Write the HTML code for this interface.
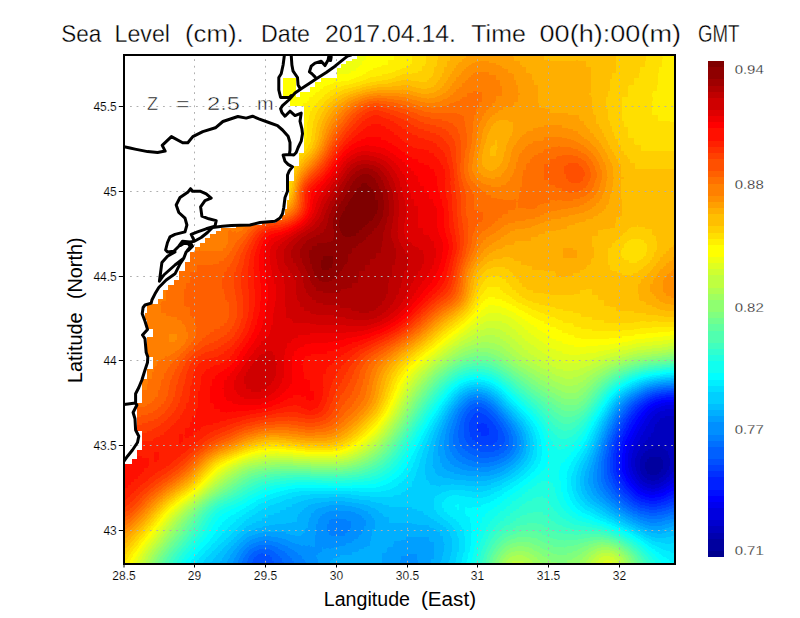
<!DOCTYPE html>
<html><head><meta charset="utf-8"><title>Sea Level</title>
<style>html,body{margin:0;padding:0;background:#fff}svg{display:block}text{font-family:"Liberation Sans",sans-serif}</style></head><body>
<svg width="800" height="618" viewBox="0 0 800 618">
<defs>
<filter id="jet" x="0" y="0" width="800" height="618" filterUnits="userSpaceOnUse" color-interpolation-filters="sRGB"><feGaussianBlur stdDeviation="4.5"/><feComponentTransfer><feFuncR type="discrete" tableValues="0 0 0 0 0 0 0 0 0 0 0 0 0 0 0 0 0 0 0 0 0 0 0 0 .0625 .125 .1875 .25 .3125 .375 .4375 .5 .5625 .625 .6875 .75 .8125 .875 .9375 1 1 1 1 1 1 1 1 1 1 1 1 1 1 1 1 1 .9375 .875 .8125 .75 .6875 .625 .5625 .5"/><feFuncG type="discrete" tableValues="0 0 0 0 0 0 0 0 .0625 .125 .1875 .25 .3125 .375 .4375 .5 .5625 .625 .6875 .75 .8125 .875 .9375 1 1 1 1 1 1 1 1 1 1 1 1 1 1 1 1 1 .9375 .875 .8125 .75 .6875 .625 .5625 .5 .4375 .375 .3125 .25 .1875 .125 .0625 0 0 0 0 0 0 0 0 0"/><feFuncB type="discrete" tableValues=".5625 .625 .6875 .75 .8125 .875 .9375 1 1 1 1 1 1 1 1 1 1 1 1 1 1 1 1 1 .9375 .875 .8125 .75 .6875 .625 .5625 .5 .4375 .375 .3125 .25 .1875 .125 .0625 0 0 0 0 0 0 0 0 0 0 0 0 0 0 0 0 0 0 0 0 0 0 0 0 0"/><feFuncA type="linear" slope="0" intercept="1"/></feComponentTransfer></filter>
<clipPath id="pc"><rect x="124" y="55" width="551" height="509"/></clipPath>
</defs>
<rect width="800" height="618" fill="#fff"/>
<g clip-path="url(#pc)"><g filter="url(#jet)" shape-rendering="crispEdges">
<rect x="100" y="31" width="606" height="564" fill="#808080"/>
<path fill="#030303" d="M652 463h6v6h-6z"/>
<path fill="#040404" d="M646 463h6v6h-6zM652 469h6v6h-6z"/>
<path fill="#050505" d="M652 457h6v6h-6zM658 463h6v6h-6zM646 469h6v6h-6z"/>
<path fill="#060606" d="M646 457h6v6h-6zM658 457h6v6h-6z"/>
<path fill="#070707" d="M640 463h6v6h-6zM658 469h6v6h-6z"/>
<path fill="#080808" d="M652 451h6v6h-6zM652 475h6v6h-6z"/>
<path fill="#090909" d="M646 451h6v6h-6zM658 451h6v6h-6zM640 457h6v6h-6zM664 457h6v6h-6zM664 463h6v6h-6zM640 469h6v6h-6zM646 475h6v6h-6z"/>
<path fill="#0b0b0b" d="M652 445h12v6h-12zM640 451h6v6h-6zM664 451h6v6h-6zM664 469h6v6h-6zM658 475h6v6h-6z"/>
<path fill="#0c0c0c" d="M646 445h6v6h-6zM664 445h6v6h-6zM640 475h6v6h-6z"/>
<path fill="#0d0d0d" d="M664 421h6v6h-6zM658 427h12v6h-12zM658 433h12v6h-12zM652 439h18v6h-18zM634 457h6v6h-6zM670 457h6v6h-6zM634 463h6v6h-6z"/>
<path fill="#0e0e0e" d="M664 415h12v6h-12zM658 421h6v6h-6zM670 421h36v6h-36zM670 427h36v6h-36zM652 433h6v6h-6zM670 433h6v6h-6zM646 439h6v6h-6zM640 445h6v6h-6zM670 445h6v6h-6zM670 451h6v6h-6zM676 457h30v6h-30zM670 463h6v6h-6zM634 469h6v6h-6zM646 481h12v6h-12z"/>
<path fill="#0f0f0f" d="M658 415h6v6h-6zM676 415h30v6h-30zM652 421h6v6h-6zM652 427h6v6h-6zM676 433h30v6h-30zM670 439h36v6h-36zM676 445h30v6h-30zM634 451h6v6h-6zM676 451h30v6h-30zM676 463h30v6h-30zM664 475h6v6h-6z"/>
<path fill="#101010" d="M646 433h6v6h-6zM640 439h6v6h-6zM670 469h6v6h-6zM658 481h6v6h-6z"/>
<path fill="#111111" d="M664 409h42v6h-42zM652 415h6v6h-6zM646 427h6v6h-6zM634 445h6v6h-6zM640 481h6v6h-6z"/>
<path fill="#121212" d="M658 409h6v6h-6zM646 421h6v6h-6zM640 433h6v6h-6zM676 469h30v6h-30zM634 475h6v6h-6z"/>
<path fill="#131313" d="M628 457h6v6h-6zM628 463h6v6h-6z"/>
<path fill="#141414" d="M652 409h6v6h-6zM640 427h6v6h-6zM634 439h6v6h-6zM628 451h6v6h-6zM670 475h6v6h-6zM664 481h6v6h-6z"/>
<path fill="#151515" d="M670 403h6v6h-6zM646 415h6v6h-6zM628 469h6v6h-6zM646 487h12v6h-12z"/>
<path fill="#161616" d="M664 403h6v6h-6zM676 403h30v6h-30zM634 433h6v6h-6zM628 445h6v6h-6zM676 475h30v6h-30zM634 481h6v6h-6z"/>
<path fill="#171717" d="M658 403h6v6h-6zM640 421h6v6h-6zM658 487h6v6h-6z"/>
<path fill="#181818" d="M628 475h6v6h-6zM640 487h6v6h-6z"/>
<path fill="#191919" d="M646 409h6v6h-6zM634 427h6v6h-6zM628 439h6v6h-6zM670 481h6v6h-6z"/>
<path fill="#1a1a1a" d="M652 403h6v6h-6zM640 415h6v6h-6zM622 457h6v6h-6z"/>
<path fill="#1b1b1b" d="M622 451h6v6h-6zM622 463h6v6h-6zM676 481h30v6h-30zM664 487h6v6h-6z"/>
<path fill="#1c1c1c" d="M634 421h6v6h-6zM628 433h6v6h-6zM622 469h6v6h-6zM634 487h6v6h-6z"/>
<path fill="#1d1d1d" d="M670 397h6v6h-6zM622 445h6v6h-6zM628 481h6v6h-6zM646 493h12v6h-12z"/>
<path fill="#1e1e1e" d="M664 397h6v6h-6zM676 397h30v6h-30zM646 403h6v6h-6zM640 409h6v6h-6z"/>
<path fill="#1f1f1f" d="M658 397h6v6h-6zM628 427h6v6h-6zM622 439h6v6h-6zM622 475h6v6h-6zM670 487h6v6h-6zM640 493h6v6h-6zM658 493h6v6h-6z"/>
<path fill="#202020" d="M634 415h6v6h-6z"/>
<path fill="#212121" d="M676 487h30v6h-30z"/>
<path fill="#222222" d="M652 397h6v6h-6zM628 421h6v6h-6zM622 433h6v6h-6zM616 457h6v6h-6zM628 487h6v6h-6zM664 493h6v6h-6z"/>
<path fill="#232323" d="M616 451h6v6h-6zM616 463h6v6h-6zM634 493h6v6h-6z"/>
<path fill="#242424" d="M640 403h6v6h-6zM634 409h6v6h-6zM616 469h6v6h-6zM622 481h6v6h-6z"/>
<path fill="#252525" d="M616 445h6v6h-6zM646 499h12v6h-12z"/>
<path fill="#262626" d="M628 415h6v6h-6zM622 427h6v6h-6zM670 493h6v6h-6zM658 499h6v6h-6z"/>
<path fill="#272727" d="M646 397h6v6h-6zM616 439h6v6h-6zM616 475h6v6h-6zM676 493h30v6h-30zM640 499h6v6h-6z"/>
<path fill="#282828" d="M628 493h6v6h-6z"/>
<path fill="#292929" d="M664 391h42v6h-42zM622 487h6v6h-6zM664 499h6v6h-6z"/>
<path fill="#2a2a2a" d="M478 421h6v6h-6zM622 421h6v6h-6zM478 427h12v6h-12zM616 433h6v6h-6zM634 499h6v6h-6z"/>
<path fill="#2b2b2b" d="M658 391h6v6h-6zM634 403h6v6h-6zM472 421h6v6h-6zM484 421h6v6h-6zM478 433h12v6h-12zM610 457h6v6h-6zM610 463h6v6h-6zM616 481h6v6h-6z"/>
<path fill="#2c2c2c" d="M628 409h6v6h-6zM478 415h6v6h-6zM472 427h6v6h-6zM490 427h6v6h-6zM490 433h6v6h-6zM610 451h6v6h-6zM610 469h6v6h-6zM670 499h6v6h-6z"/>
<path fill="#2d2d2d" d="M640 397h6v6h-6zM472 415h6v6h-6zM472 433h6v6h-6zM484 439h6v6h-6zM646 505h12v6h-12z"/>
<path fill="#2e2e2e" d="M652 391h6v6h-6zM484 415h6v6h-6zM622 415h6v6h-6zM490 421h6v6h-6zM616 427h6v6h-6zM478 439h6v6h-6zM490 439h6v6h-6zM610 445h6v6h-6zM610 475h6v6h-6zM622 493h6v6h-6zM676 499h30v6h-30zM658 505h6v6h-6z"/>
<path fill="#2f2f2f" d="M472 409h12v6h-12zM466 421h6v6h-6zM466 427h6v6h-6zM496 433h6v6h-6zM472 439h6v6h-6zM616 487h6v6h-6zM628 499h6v6h-6zM640 505h6v6h-6zM256 559h12v6h-12zM256 565h6v6h-6zM256 571h6v6h-6zM256 577h6v6h-6zM256 583h6v6h-6zM256 589h6v6h-6z"/>
<path fill="#303030" d="M466 415h6v6h-6zM496 427h6v6h-6zM466 433h6v6h-6zM496 439h6v6h-6zM610 439h6v6h-6zM484 445h6v6h-6zM256 553h12v6h-12zM262 565h6v6h-6zM262 571h6v6h-6zM262 577h6v6h-6zM262 583h6v6h-6zM262 589h6v6h-6z"/>
<path fill="#313131" d="M484 409h6v6h-6zM478 445h6v6h-6zM490 445h6v6h-6zM610 481h6v6h-6zM664 505h6v6h-6z"/>
<path fill="#323232" d="M646 391h6v6h-6zM628 403h6v6h-6zM490 415h6v6h-6zM466 439h6v6h-6zM496 445h6v6h-6zM634 505h6v6h-6zM250 559h6v6h-6zM268 559h6v6h-6zM250 565h6v6h-6zM268 565h6v6h-6zM250 571h6v6h-6zM268 571h6v6h-6zM250 577h6v6h-6zM268 577h6v6h-6zM250 583h6v6h-6zM268 583h6v6h-6zM250 589h6v6h-6zM268 589h6v6h-6z"/>
<path fill="#333333" d="M634 397h6v6h-6zM472 403h12v6h-12zM466 409h6v6h-6zM496 421h6v6h-6zM616 421h6v6h-6zM460 427h6v6h-6zM502 433h6v6h-6zM502 439h6v6h-6zM472 445h6v6h-6zM604 463h6v6h-6zM604 469h6v6h-6zM670 505h6v6h-6zM268 553h6v6h-6z"/>
<path fill="#343434" d="M622 409h6v6h-6zM460 421h6v6h-6zM460 433h6v6h-6zM610 433h6v6h-6zM484 451h6v6h-6zM604 457h6v6h-6zM616 493h6v6h-6zM622 499h6v6h-6zM676 505h30v6h-30zM250 553h6v6h-6zM274 565h6v6h-6zM274 571h6v6h-6zM274 577h6v6h-6zM274 583h6v6h-6zM274 589h6v6h-6z"/>
<path fill="#353535" d="M460 415h6v6h-6zM502 427h6v6h-6zM460 439h6v6h-6zM466 445h6v6h-6zM502 445h6v6h-6zM478 451h6v6h-6zM490 451h6v6h-6zM604 451h6v6h-6zM604 475h6v6h-6zM610 487h6v6h-6zM646 511h12v6h-12zM262 547h6v6h-6zM274 559h6v6h-6z"/>
<path fill="#363636" d="M670 385h36v6h-36zM490 409h6v6h-6zM472 451h6v6h-6zM496 451h6v6h-6zM628 505h6v6h-6zM658 511h6v6h-6zM256 547h6v6h-6zM274 553h6v6h-6zM244 565h6v6h-6zM244 571h6v6h-6zM244 577h6v6h-6zM244 583h6v6h-6zM244 589h6v6h-6z"/>
<path fill="#373737" d="M664 385h6v6h-6zM466 403h6v6h-6zM484 403h6v6h-6zM496 415h6v6h-6zM616 415h6v6h-6zM460 445h6v6h-6zM604 445h6v6h-6zM604 481h6v6h-6zM640 511h6v6h-6zM268 547h6v6h-6zM244 559h6v6h-6zM280 559h6v6h-6zM280 565h6v6h-6zM280 571h6v6h-6zM280 577h6v6h-6zM280 583h6v6h-6zM280 589h6v6h-6z"/>
<path fill="#383838" d="M640 391h6v6h-6zM460 409h6v6h-6zM454 427h6v6h-6zM610 427h6v6h-6zM454 433h6v6h-6zM508 439h6v6h-6zM466 451h6v6h-6zM664 511h6v6h-6z"/>
<path fill="#393939" d="M658 385h6v6h-6zM502 421h6v6h-6zM508 433h6v6h-6zM454 439h6v6h-6zM508 445h6v6h-6zM502 451h6v6h-6zM478 457h12v6h-12zM610 493h6v6h-6zM616 499h6v6h-6zM250 547h6v6h-6zM274 547h6v6h-6zM244 553h6v6h-6zM280 553h6v6h-6zM286 559h6v6h-6zM286 565h6v6h-6zM286 571h6v6h-6zM286 577h6v6h-6zM286 583h6v6h-6zM286 589h6v6h-6z"/>
<path fill="#3a3a3a" d="M472 397h12v6h-12zM622 403h6v6h-6zM454 421h6v6h-6zM604 439h6v6h-6zM454 445h6v6h-6zM460 451h6v6h-6zM472 457h6v6h-6zM490 457h6v6h-6zM604 487h6v6h-6zM634 511h6v6h-6z"/>
<path fill="#3b3b3b" d="M652 385h6v6h-6zM628 397h6v6h-6zM466 457h6v6h-6zM496 457h6v6h-6zM598 463h6v6h-6zM598 469h6v6h-6zM598 475h6v6h-6zM622 505h6v6h-6zM670 511h36v6h-36zM286 553h6v6h-6zM292 565h6v6h-6zM292 571h6v6h-6zM292 577h6v6h-6zM292 583h6v6h-6zM292 589h6v6h-6z"/>
<path fill="#3c3c3c" d="M490 403h6v6h-6zM454 415h6v6h-6zM610 421h6v6h-6zM508 427h6v6h-6zM598 457h6v6h-6zM646 517h12v6h-12zM256 541h18v6h-18zM280 547h6v6h-6zM238 559h6v6h-6zM292 559h6v6h-6zM238 565h6v6h-6zM238 571h6v6h-6zM238 577h6v6h-6zM238 583h6v6h-6zM238 589h6v6h-6z"/>
<path fill="#3d3d3d" d="M466 397h6v6h-6zM460 403h6v6h-6zM496 409h6v6h-6zM616 409h6v6h-6zM448 433h6v6h-6zM448 439h6v6h-6zM454 451h6v6h-6zM508 451h6v6h-6zM460 457h6v6h-6zM598 481h6v6h-6zM658 517h6v6h-6zM334 523h6v6h-6zM244 547h6v6h-6zM298 565h6v6h-6zM298 571h6v6h-6zM298 577h6v6h-6zM298 583h6v6h-6zM298 589h6v6h-6z"/>
<path fill="#3e3e3e" d="M634 391h6v6h-6zM484 397h6v6h-6zM502 415h6v6h-6zM448 427h6v6h-6zM604 433h6v6h-6zM514 439h6v6h-6zM448 445h6v6h-6zM598 451h6v6h-6zM502 457h6v6h-6zM478 463h12v6h-12zM604 493h6v6h-6zM610 499h6v6h-6zM628 511h6v6h-6zM334 517h6v6h-6zM328 523h6v6h-6zM340 523h6v6h-6zM328 529h18v6h-18zM274 541h6v6h-6zM286 547h6v6h-6zM292 553h6v6h-6zM298 559h6v6h-6z"/>
<path fill="#3f3f3f" d="M646 385h6v6h-6zM454 409h6v6h-6zM514 445h6v6h-6zM454 457h6v6h-6zM472 463h6v6h-6zM490 463h6v6h-6zM598 487h6v6h-6zM328 517h6v6h-6zM340 517h12v6h-12zM640 517h6v6h-6zM664 517h6v6h-6zM322 523h6v6h-6zM346 523h12v6h-12zM346 529h6v6h-6zM250 541h6v6h-6zM238 553h6v6h-6zM298 553h6v6h-6z"/>
<path fill="#404040" d="M448 421h6v6h-6zM508 421h6v6h-6zM514 433h6v6h-6zM448 451h6v6h-6zM466 463h6v6h-6zM616 505h6v6h-6zM322 517h6v6h-6zM352 517h6v6h-6zM322 529h6v6h-6zM328 535h18v6h-18zM280 541h6v6h-6zM292 547h6v6h-6zM304 559h6v6h-6zM304 565h6v6h-6zM304 571h6v6h-6zM304 577h6v6h-6zM304 583h6v6h-6zM304 589h6v6h-6z"/>
<path fill="#414141" d="M610 415h6v6h-6zM598 445h6v6h-6zM460 463h6v6h-6zM496 463h6v6h-6zM592 475h6v6h-6zM328 511h18v6h-18zM358 517h6v6h-6zM358 523h6v6h-6zM352 529h6v6h-6zM322 535h6v6h-6zM346 535h6v6h-6zM304 553h6v6h-6zM232 565h6v6h-6zM232 571h6v6h-6zM232 577h6v6h-6zM232 583h6v6h-6zM232 589h6v6h-6z"/>
<path fill="#424242" d="M622 397h6v6h-6zM604 427h6v6h-6zM442 439h6v6h-6zM442 445h6v6h-6zM514 451h6v6h-6zM448 457h6v6h-6zM508 457h6v6h-6zM592 469h6v6h-6zM592 481h6v6h-6zM346 511h12v6h-12zM622 511h6v6h-6zM634 517h6v6h-6zM670 517h36v6h-36zM316 523h6v6h-6zM316 529h6v6h-6zM262 535h12v6h-12zM316 535h6v6h-6zM244 541h6v6h-6zM286 541h6v6h-6zM322 541h18v6h-18zM238 547h6v6h-6zM298 547h12v6h-12zM232 559h6v6h-6zM310 559h6v6h-6zM406 559h6v6h-6zM310 565h6v6h-6zM406 565h6v6h-6zM310 571h6v6h-6zM406 571h6v6h-6zM310 577h6v6h-6zM406 577h6v6h-6zM310 583h6v6h-6zM406 583h6v6h-6zM310 589h6v6h-6zM406 589h6v6h-6z"/>
<path fill="#434343" d="M472 391h12v6h-12zM460 397h6v6h-6zM616 403h6v6h-6zM448 415h6v6h-6zM514 427h6v6h-6zM442 433h6v6h-6zM442 451h6v6h-6zM454 463h6v6h-6zM592 463h6v6h-6zM478 469h6v6h-6zM598 493h6v6h-6zM604 499h6v6h-6zM322 511h6v6h-6zM316 517h6v6h-6zM652 523h6v6h-6zM358 529h6v6h-6zM256 535h6v6h-6zM274 535h6v6h-6zM352 535h6v6h-6zM292 541h6v6h-6zM316 541h6v6h-6zM340 541h6v6h-6zM310 547h12v6h-12zM310 553h6v6h-6zM400 553h18v6h-18zM400 559h6v6h-6zM412 559h6v6h-6zM400 565h6v6h-6zM412 565h6v6h-6zM400 571h6v6h-6zM412 571h6v6h-6zM400 577h6v6h-6zM412 577h6v6h-6zM400 583h6v6h-6zM412 583h6v6h-6zM400 589h6v6h-6zM412 589h6v6h-6z"/>
<path fill="#444444" d="M640 385h6v6h-6zM628 391h6v6h-6zM490 397h6v6h-6zM454 403h6v6h-6zM496 403h6v6h-6zM598 439h6v6h-6zM448 463h6v6h-6zM502 463h6v6h-6zM466 469h12v6h-12zM484 469h6v6h-6zM592 487h6v6h-6zM610 505h6v6h-6zM316 511h6v6h-6zM358 511h6v6h-6zM364 517h6v6h-6zM364 523h6v6h-6zM646 523h6v6h-6zM658 523h6v6h-6zM280 535h6v6h-6zM310 535h6v6h-6zM358 535h6v6h-6zM298 541h18v6h-18zM346 541h6v6h-6zM322 547h12v6h-12zM406 547h12v6h-12zM232 553h6v6h-6zM316 553h6v6h-6zM394 553h6v6h-6zM418 553h6v6h-6zM316 559h6v6h-6zM394 559h6v6h-6zM418 559h6v6h-6zM316 565h6v6h-6zM394 565h6v6h-6zM418 565h6v6h-6zM316 571h6v6h-6zM394 571h6v6h-6zM418 571h6v6h-6zM316 577h6v6h-6zM394 577h6v6h-6zM418 577h6v6h-6zM316 583h6v6h-6zM394 583h6v6h-6zM418 583h6v6h-6zM316 589h6v6h-6zM394 589h6v6h-6zM418 589h6v6h-6z"/>
<path fill="#454545" d="M670 379h36v6h-36zM466 391h6v6h-6zM502 409h6v6h-6zM442 427h6v6h-6zM442 457h6v6h-6zM592 457h6v6h-6zM460 469h6v6h-6zM490 469h6v6h-6zM328 505h24v6h-24zM310 523h6v6h-6zM310 529h6v6h-6zM250 535h6v6h-6zM286 535h6v6h-6zM352 541h6v6h-6zM412 541h6v6h-6zM334 547h12v6h-12zM400 547h6v6h-6zM418 547h6v6h-6zM322 553h6v6h-6zM424 553h6v6h-6zM388 559h6v6h-6zM226 565h6v6h-6zM388 565h6v6h-6zM226 571h6v6h-6zM388 571h6v6h-6zM226 577h6v6h-6zM388 577h6v6h-6zM226 583h6v6h-6zM388 583h6v6h-6zM226 589h6v6h-6zM388 589h6v6h-6z"/>
<path fill="#464646" d="M664 379h6v6h-6zM484 391h6v6h-6zM610 409h6v6h-6zM508 415h6v6h-6zM604 421h6v6h-6zM520 439h6v6h-6zM520 445h6v6h-6zM442 463h6v6h-6zM454 469h6v6h-6zM322 505h6v6h-6zM352 505h6v6h-6zM364 511h6v6h-6zM310 517h6v6h-6zM628 517h6v6h-6zM640 523h6v6h-6zM664 523h6v6h-6zM364 529h6v6h-6zM304 535h6v6h-6zM358 541h6v6h-6zM400 541h12v6h-12zM418 541h12v6h-12zM346 547h6v6h-6zM394 547h6v6h-6zM424 547h6v6h-6zM388 553h6v6h-6zM226 559h6v6h-6zM322 559h6v6h-6zM424 559h6v6h-6zM424 565h6v6h-6zM424 571h6v6h-6zM424 577h6v6h-6zM424 583h6v6h-6zM424 589h6v6h-6z"/>
<path fill="#474747" d="M658 379h6v6h-6zM448 409h6v6h-6zM442 421h6v6h-6zM514 421h6v6h-6zM520 433h6v6h-6zM436 445h6v6h-6zM436 451h6v6h-6zM592 451h6v6h-6zM514 457h6v6h-6zM508 463h6v6h-6zM448 469h6v6h-6zM496 469h6v6h-6zM586 475h6v6h-6zM586 481h6v6h-6zM592 493h6v6h-6zM598 499h6v6h-6zM316 505h6v6h-6zM310 511h6v6h-6zM616 511h6v6h-6zM370 517h6v6h-6zM370 523h6v6h-6zM304 529h6v6h-6zM244 535h6v6h-6zM292 535h12v6h-12zM364 535h6v6h-6zM406 535h24v6h-24zM238 541h6v6h-6zM364 541h6v6h-6zM394 541h6v6h-6zM430 541h6v6h-6zM232 547h6v6h-6zM352 547h6v6h-6zM388 547h6v6h-6zM430 547h6v6h-6zM328 553h12v6h-12zM382 553h6v6h-6zM430 553h6v6h-6zM382 559h6v6h-6zM322 565h6v6h-6zM382 565h6v6h-6zM322 571h6v6h-6zM382 571h6v6h-6zM322 577h6v6h-6zM382 577h6v6h-6zM322 583h6v6h-6zM382 583h6v6h-6zM322 589h6v6h-6zM382 589h6v6h-6z"/>
<path fill="#484848" d="M598 433h6v6h-6zM436 439h6v6h-6zM436 457h6v6h-6zM586 469h6v6h-6zM358 505h6v6h-6zM370 511h6v6h-6zM304 517h6v6h-6zM304 523h6v6h-6zM670 523h6v6h-6zM262 529h24v6h-24zM370 529h6v6h-6zM370 535h6v6h-6zM394 535h12v6h-12zM430 535h6v6h-6zM370 541h6v6h-6zM382 541h12v6h-12zM358 547h12v6h-12zM376 547h12v6h-12zM340 553h12v6h-12zM376 553h6v6h-6zM328 559h6v6h-6zM376 559h6v6h-6zM430 559h6v6h-6zM430 565h6v6h-6zM430 571h6v6h-6zM430 577h6v6h-6zM430 583h6v6h-6zM430 589h6v6h-6z"/>
<path fill="#494949" d="M436 433h6v6h-6zM520 451h6v6h-6zM436 463h6v6h-6zM442 469h6v6h-6zM466 475h24v6h-24zM586 487h6v6h-6zM310 505h6v6h-6zM364 505h6v6h-6zM604 505h6v6h-6zM304 511h6v6h-6zM376 517h6v6h-6zM376 523h6v6h-6zM676 523h30v6h-30zM256 529h6v6h-6zM286 529h18v6h-18zM376 529h6v6h-6zM406 529h24v6h-24zM652 529h6v6h-6zM376 535h18v6h-18zM376 541h6v6h-6zM436 541h6v6h-6zM370 547h6v6h-6zM436 547h6v6h-6zM226 553h6v6h-6zM352 553h24v6h-24zM220 565h6v6h-6zM328 565h6v6h-6zM376 565h6v6h-6zM220 571h6v6h-6zM328 571h6v6h-6zM376 571h6v6h-6zM220 577h6v6h-6zM328 577h6v6h-6zM376 577h6v6h-6zM220 583h6v6h-6zM328 583h6v6h-6zM376 583h6v6h-6zM220 589h6v6h-6zM328 589h6v6h-6zM376 589h6v6h-6z"/>
<path fill="#4a4a4a" d="M652 379h6v6h-6zM634 385h6v6h-6zM460 391h6v6h-6zM454 397h6v6h-6zM616 397h6v6h-6zM520 427h6v6h-6zM586 463h6v6h-6zM436 469h6v6h-6zM502 469h6v6h-6zM454 475h12v6h-12zM328 499h18v6h-18zM622 517h6v6h-6zM298 523h6v6h-6zM382 523h6v6h-6zM634 523h6v6h-6zM250 529h6v6h-6zM382 529h24v6h-24zM430 529h6v6h-6zM658 529h6v6h-6zM436 535h6v6h-6zM436 553h6v6h-6zM220 559h6v6h-6zM334 559h42v6h-42zM334 565h6v6h-6zM364 565h12v6h-12zM334 571h6v6h-6zM364 571h12v6h-12zM334 577h6v6h-6zM364 577h12v6h-12zM334 583h6v6h-6zM364 583h12v6h-12zM334 589h6v6h-6zM364 589h12v6h-12z"/>
<path fill="#4b4b4b" d="M496 397h6v6h-6zM442 415h6v6h-6zM604 415h6v6h-6zM436 427h6v6h-6zM592 445h6v6h-6zM430 451h6v6h-6zM430 457h6v6h-6zM430 463h6v6h-6zM442 475h12v6h-12zM490 475h6v6h-6zM586 493h6v6h-6zM322 499h6v6h-6zM346 499h6v6h-6zM592 499h6v6h-6zM304 505h6v6h-6zM370 505h6v6h-6zM298 511h6v6h-6zM376 511h6v6h-6zM610 511h6v6h-6zM298 517h6v6h-6zM382 517h6v6h-6zM268 523h30v6h-30zM388 523h42v6h-42zM436 529h6v6h-6zM646 529h6v6h-6zM238 535h6v6h-6zM232 541h6v6h-6zM442 541h6v6h-6zM226 547h6v6h-6zM436 559h6v6h-6zM340 565h24v6h-24zM436 565h6v6h-6zM340 571h24v6h-24zM436 571h6v6h-6zM340 577h24v6h-24zM436 577h6v6h-6zM340 583h24v6h-24zM436 583h6v6h-6zM340 589h24v6h-24zM436 589h6v6h-6z"/>
<path fill="#4c4c4c" d="M490 391h6v6h-6zM622 391h6v6h-6zM448 403h6v6h-6zM502 403h6v6h-6zM508 409h6v6h-6zM598 427h6v6h-6zM430 445h6v6h-6zM520 457h6v6h-6zM586 457h6v6h-6zM514 463h6v6h-6zM430 469h6v6h-6zM436 475h6v6h-6zM580 481h6v6h-6zM310 499h12v6h-12zM352 499h6v6h-6zM298 505h6v6h-6zM292 511h6v6h-6zM382 511h6v6h-6zM286 517h12v6h-12zM388 517h24v6h-24zM262 523h6v6h-6zM430 523h6v6h-6zM244 529h6v6h-6zM664 529h6v6h-6zM442 535h6v6h-6zM442 547h6v6h-6zM220 553h6v6h-6zM442 553h6v6h-6zM214 565h6v6h-6zM214 571h6v6h-6zM214 577h6v6h-6zM214 583h6v6h-6zM214 589h6v6h-6z"/>
<path fill="#4d4d4d" d="M646 379h6v6h-6zM472 385h12v6h-12zM610 403h6v6h-6zM514 415h6v6h-6zM430 439h6v6h-6zM508 469h6v6h-6zM430 475h6v6h-6zM496 475h6v6h-6zM580 475h6v6h-6zM472 481h6v6h-6zM580 487h6v6h-6zM358 499h6v6h-6zM376 505h6v6h-6zM598 505h6v6h-6zM286 511h6v6h-6zM388 511h12v6h-12zM274 517h12v6h-12zM412 517h12v6h-12zM256 523h6v6h-6zM442 529h6v6h-6zM670 529h6v6h-6zM214 559h6v6h-6z"/>
<path fill="#4e4e4e" d="M526 439h6v6h-6zM592 439h6v6h-6zM526 445h6v6h-6zM424 463h6v6h-6zM580 469h6v6h-6zM436 481h6v6h-6zM466 481h6v6h-6zM478 481h12v6h-12zM304 499h6v6h-6zM364 499h6v6h-6zM292 505h6v6h-6zM382 505h6v6h-6zM280 511h6v6h-6zM400 511h18v6h-18zM268 517h6v6h-6zM424 517h6v6h-6zM250 523h6v6h-6zM436 523h6v6h-6zM628 523h6v6h-6zM640 529h6v6h-6zM676 529h30v6h-30zM442 559h6v6h-6zM208 565h6v6h-6zM442 565h6v6h-6zM208 571h6v6h-6zM442 571h6v6h-6zM208 577h6v6h-6zM442 577h6v6h-6zM208 583h6v6h-6zM442 583h6v6h-6zM208 589h6v6h-6zM442 589h6v6h-6z"/>
<path fill="#4f4f4f" d="M466 385h6v6h-6zM442 409h6v6h-6zM436 421h6v6h-6zM520 421h6v6h-6zM430 433h6v6h-6zM526 433h6v6h-6zM526 451h6v6h-6zM424 457h6v6h-6zM424 469h6v6h-6zM424 475h6v6h-6zM430 481h6v6h-6zM442 481h24v6h-24zM298 499h6v6h-6zM370 499h6v6h-6zM586 499h6v6h-6zM286 505h6v6h-6zM388 505h24v6h-24zM274 511h6v6h-6zM418 511h6v6h-6zM604 511h6v6h-6zM262 517h6v6h-6zM430 517h6v6h-6zM616 517h6v6h-6zM238 529h6v6h-6zM232 535h6v6h-6zM448 535h6v6h-6zM658 535h6v6h-6zM226 541h6v6h-6zM448 541h6v6h-6zM220 547h6v6h-6zM448 547h6v6h-6zM214 553h6v6h-6zM208 559h6v6h-6z"/>
<path fill="#505050" d="M484 385h6v6h-6zM628 385h6v6h-6zM598 421h6v6h-6zM424 451h6v6h-6zM586 451h6v6h-6zM580 463h6v6h-6zM502 475h6v6h-6zM424 481h6v6h-6zM490 481h6v6h-6zM580 493h6v6h-6zM292 499h6v6h-6zM376 499h6v6h-6zM280 505h6v6h-6zM412 505h12v6h-12zM268 511h6v6h-6zM424 511h6v6h-6zM256 517h6v6h-6zM244 523h6v6h-6zM442 523h6v6h-6zM448 529h6v6h-6zM652 535h6v6h-6zM664 535h6v6h-6zM448 553h6v6h-6z"/>
<path fill="#515151" d="M640 379h6v6h-6zM454 391h6v6h-6zM604 409h6v6h-6zM424 445h6v6h-6zM520 463h6v6h-6zM418 469h6v6h-6zM514 469h6v6h-6zM418 475h6v6h-6zM418 481h6v6h-6zM418 487h24v6h-24zM310 493h42v6h-42zM412 493h12v6h-12zM286 499h6v6h-6zM382 499h42v6h-42zM274 505h6v6h-6zM424 505h6v6h-6zM592 505h6v6h-6zM262 511h6v6h-6zM250 517h6v6h-6zM436 517h6v6h-6zM670 535h36v6h-36zM448 559h6v6h-6zM202 565h6v6h-6zM448 565h6v6h-6zM202 571h6v6h-6zM448 571h6v6h-6zM202 577h6v6h-6zM448 577h6v6h-6zM202 583h6v6h-6zM448 583h6v6h-6zM202 589h6v6h-6zM448 589h6v6h-6z"/>
<path fill="#525252" d="M496 391h6v6h-6zM448 397h6v6h-6zM430 427h6v6h-6zM526 427h6v6h-6zM592 433h6v6h-6zM526 457h6v6h-6zM418 463h6v6h-6zM574 475h6v6h-6zM496 481h6v6h-6zM574 481h6v6h-6zM412 487h6v6h-6zM442 487h6v6h-6zM472 487h12v6h-12zM298 493h12v6h-12zM352 493h6v6h-6zM400 493h12v6h-12zM424 493h6v6h-6zM424 499h6v6h-6zM268 505h6v6h-6zM256 511h6v6h-6zM430 511h6v6h-6zM454 535h6v6h-6zM646 535h6v6h-6zM220 541h6v6h-6zM454 541h6v6h-6zM214 547h6v6h-6zM454 547h6v6h-6zM208 553h6v6h-6zM202 559h6v6h-6z"/>
<path fill="#535353" d="M460 385h6v6h-6zM616 391h6v6h-6zM502 397h6v6h-6zM514 409h6v6h-6zM436 415h6v6h-6zM424 439h6v6h-6zM586 445h6v6h-6zM418 457h6v6h-6zM580 457h6v6h-6zM412 475h6v6h-6zM508 475h6v6h-6zM412 481h6v6h-6zM406 487h6v6h-6zM460 487h12v6h-12zM484 487h6v6h-6zM574 487h6v6h-6zM358 493h12v6h-12zM394 493h6v6h-6zM430 493h6v6h-6zM280 499h6v6h-6zM580 499h6v6h-6zM262 505h6v6h-6zM430 505h6v6h-6zM598 511h6v6h-6zM244 517h6v6h-6zM442 517h6v6h-6zM610 517h6v6h-6zM238 523h6v6h-6zM448 523h6v6h-6zM622 523h6v6h-6zM232 529h6v6h-6zM634 529h6v6h-6zM226 535h6v6h-6zM454 553h6v6h-6z"/>
<path fill="#545454" d="M670 373h36v6h-36zM610 397h6v6h-6zM508 403h6v6h-6zM520 415h6v6h-6zM418 451h6v6h-6zM412 469h6v6h-6zM574 469h6v6h-6zM406 481h6v6h-6zM400 487h6v6h-6zM448 487h12v6h-12zM292 493h6v6h-6zM370 493h24v6h-24zM436 493h6v6h-6zM274 499h6v6h-6zM430 499h6v6h-6zM586 505h6v6h-6zM250 511h6v6h-6zM436 511h6v6h-6zM454 529h6v6h-6zM658 541h48v6h-48zM196 565h6v6h-6zM196 571h6v6h-6zM196 577h6v6h-6zM196 583h6v6h-6zM196 589h6v6h-6z"/>
<path fill="#555555" d="M664 373h6v6h-6zM490 385h6v6h-6zM442 403h6v6h-6zM598 415h6v6h-6zM592 427h6v6h-6zM532 439h6v6h-6zM532 445h6v6h-6zM526 463h6v6h-6zM520 469h6v6h-6zM502 481h6v6h-6zM490 487h6v6h-6zM286 493h6v6h-6zM574 493h6v6h-6zM268 499h6v6h-6zM256 505h6v6h-6zM214 541h6v6h-6zM208 547h6v6h-6zM202 553h6v6h-6zM196 559h6v6h-6zM454 559h6v6h-6zM454 565h6v6h-6zM454 571h6v6h-6zM454 577h6v6h-6zM454 583h6v6h-6zM454 589h6v6h-6z"/>
<path fill="#565656" d="M634 379h6v6h-6zM622 385h6v6h-6zM430 421h6v6h-6zM526 421h6v6h-6zM424 433h6v6h-6zM418 445h6v6h-6zM532 451h6v6h-6zM412 463h6v6h-6zM574 463h6v6h-6zM406 475h6v6h-6zM514 475h6v6h-6zM400 481h6v6h-6zM394 487h6v6h-6zM280 493h6v6h-6zM472 493h6v6h-6zM436 499h6v6h-6zM436 505h6v6h-6zM244 511h6v6h-6zM238 517h6v6h-6zM448 517h6v6h-6zM232 523h6v6h-6zM454 523h6v6h-6zM226 529h6v6h-6zM220 535h6v6h-6zM460 535h6v6h-6zM640 535h6v6h-6zM460 541h6v6h-6zM652 541h6v6h-6zM460 547h6v6h-6zM670 547h36v6h-36z"/>
<path fill="#575757" d="M658 373h6v6h-6zM472 379h12v6h-12zM604 403h6v6h-6zM436 409h6v6h-6zM532 433h6v6h-6zM586 439h6v6h-6zM580 451h6v6h-6zM412 457h6v6h-6zM532 457h6v6h-6zM388 487h6v6h-6zM496 487h6v6h-6zM442 493h6v6h-6zM466 493h6v6h-6zM478 493h12v6h-12zM262 499h6v6h-6zM442 511h6v6h-6zM592 511h6v6h-6zM604 517h6v6h-6zM616 523h6v6h-6zM460 529h6v6h-6zM664 547h6v6h-6zM460 553h6v6h-6z"/>
<path fill="#585858" d="M466 379h6v6h-6zM454 385h6v6h-6zM448 391h6v6h-6zM406 469h6v6h-6zM568 475h6v6h-6zM394 481h6v6h-6zM508 481h6v6h-6zM568 481h6v6h-6zM298 487h42v6h-42zM382 487h6v6h-6zM568 487h6v6h-6zM274 493h6v6h-6zM448 493h18v6h-18zM574 499h6v6h-6zM250 505h6v6h-6zM580 505h6v6h-6zM232 517h6v6h-6zM454 517h6v6h-6zM226 523h6v6h-6zM460 523h6v6h-6zM220 529h6v6h-6zM628 529h6v6h-6zM214 535h6v6h-6zM658 547h6v6h-6zM676 553h30v6h-30zM190 565h6v6h-6zM190 571h6v6h-6zM190 577h6v6h-6zM190 583h6v6h-6zM190 589h6v6h-6z"/>
<path fill="#595959" d="M652 373h6v6h-6zM484 379h6v6h-6zM424 427h6v6h-6zM532 427h6v6h-6zM418 439h6v6h-6zM412 451h6v6h-6zM574 457h6v6h-6zM526 469h6v6h-6zM568 469h6v6h-6zM400 475h6v6h-6zM292 487h6v6h-6zM340 487h24v6h-24zM370 487h12v6h-12zM490 493h6v6h-6zM256 499h6v6h-6zM442 499h6v6h-6zM442 505h6v6h-6zM238 511h6v6h-6zM448 511h6v6h-6zM208 541h6v6h-6zM646 541h6v6h-6zM202 547h6v6h-6zM196 553h6v6h-6zM670 553h6v6h-6zM190 559h6v6h-6zM460 559h6v6h-6zM460 565h6v6h-6zM460 571h6v6h-6zM460 577h6v6h-6zM460 583h6v6h-6zM460 589h6v6h-6z"/>
<path fill="#5a5a5a" d="M496 385h6v6h-6zM502 391h6v6h-6zM442 397h6v6h-6zM508 397h6v6h-6zM514 403h6v6h-6zM520 409h6v6h-6zM430 415h6v6h-6zM526 415h6v6h-6zM592 421h6v6h-6zM586 433h6v6h-6zM580 445h6v6h-6zM406 463h6v6h-6zM532 463h6v6h-6zM520 475h6v6h-6zM388 481h6v6h-6zM286 487h6v6h-6zM364 487h6v6h-6zM502 487h6v6h-6zM268 493h6v6h-6zM568 493h6v6h-6zM466 499h18v6h-18zM244 505h6v6h-6zM586 511h6v6h-6zM226 517h6v6h-6zM460 517h6v6h-6zM598 517h6v6h-6zM220 523h6v6h-6zM466 529h6v6h-6zM466 535h6v6h-6zM466 541h6v6h-6zM664 553h6v6h-6z"/>
<path fill="#5b5b5b" d="M628 379h6v6h-6zM598 409h6v6h-6zM538 445h6v6h-6zM538 451h6v6h-6zM568 463h6v6h-6zM400 469h6v6h-6zM394 475h6v6h-6zM514 481h6v6h-6zM496 493h6v6h-6zM460 499h6v6h-6zM484 499h6v6h-6zM448 505h6v6h-6zM574 505h6v6h-6zM232 511h6v6h-6zM454 511h12v6h-12zM466 517h6v6h-6zM466 523h6v6h-6zM214 529h6v6h-6zM466 547h6v6h-6zM652 547h6v6h-6zM670 559h36v6h-36z"/>
<path fill="#5c5c5c" d="M646 373h6v6h-6zM460 379h6v6h-6zM610 391h6v6h-6zM532 421h6v6h-6zM418 433h6v6h-6zM538 439h6v6h-6zM412 445h6v6h-6zM574 451h6v6h-6zM406 457h6v6h-6zM538 457h6v6h-6zM562 475h6v6h-6zM382 481h6v6h-6zM280 487h6v6h-6zM262 493h6v6h-6zM250 499h6v6h-6zM448 499h12v6h-12zM490 499h6v6h-6zM568 499h6v6h-6zM454 505h30v6h-30zM466 511h6v6h-6zM580 511h6v6h-6zM220 517h6v6h-6zM610 523h6v6h-6zM208 535h6v6h-6zM634 535h6v6h-6zM202 541h6v6h-6zM196 547h6v6h-6zM466 553h6v6h-6zM658 553h6v6h-6zM184 565h6v6h-6zM670 565h36v6h-36zM184 571h6v6h-6zM670 571h36v6h-36zM184 577h6v6h-6zM670 577h36v6h-36zM184 583h6v6h-6zM670 583h36v6h-36zM184 589h6v6h-6zM670 589h36v6h-36z"/>
<path fill="#5d5d5d" d="M490 379h6v6h-6zM616 385h6v6h-6zM604 397h6v6h-6zM436 403h6v6h-6zM424 421h6v6h-6zM538 433h6v6h-6zM568 457h6v6h-6zM538 463h6v6h-6zM532 469h6v6h-6zM562 469h6v6h-6zM526 475h6v6h-6zM562 481h6v6h-6zM274 487h6v6h-6zM508 487h6v6h-6zM562 487h6v6h-6zM238 505h6v6h-6zM226 511h6v6h-6zM472 511h6v6h-6zM472 517h6v6h-6zM592 517h6v6h-6zM214 523h6v6h-6zM472 523h6v6h-6zM472 529h6v6h-6zM622 529h6v6h-6zM190 553h6v6h-6zM466 559h6v6h-6zM664 559h6v6h-6z"/>
<path fill="#5e5e5e" d="M586 427h6v6h-6zM580 439h6v6h-6zM400 463h6v6h-6zM562 463h6v6h-6zM388 475h6v6h-6zM376 481h6v6h-6zM520 481h6v6h-6zM256 493h6v6h-6zM502 493h6v6h-6zM562 493h6v6h-6zM496 499h6v6h-6zM484 505h6v6h-6zM478 511h6v6h-6zM208 529h6v6h-6zM472 535h6v6h-6zM640 541h6v6h-6zM184 559h6v6h-6zM466 565h6v6h-6zM664 565h6v6h-6zM466 571h6v6h-6zM664 571h6v6h-6zM466 577h6v6h-6zM664 577h6v6h-6zM466 583h6v6h-6zM664 583h6v6h-6zM466 589h6v6h-6zM664 589h6v6h-6z"/>
<path fill="#5f5f5f" d="M640 373h6v6h-6zM448 385h6v6h-6zM430 409h6v6h-6zM592 415h6v6h-6zM538 427h6v6h-6zM412 439h6v6h-6zM574 445h6v6h-6zM406 451h6v6h-6zM544 451h6v6h-6zM544 457h6v6h-6zM394 469h6v6h-6zM370 481h6v6h-6zM268 487h6v6h-6zM514 487h6v6h-6zM244 499h6v6h-6zM232 505h6v6h-6zM490 505h6v6h-6zM568 505h6v6h-6zM220 511h6v6h-6zM574 511h6v6h-6zM214 517h6v6h-6zM478 517h6v6h-6zM472 541h6v6h-6zM646 547h6v6h-6z"/>
<path fill="#606060" d="M472 373h6v6h-6zM442 391h6v6h-6zM520 403h6v6h-6zM526 409h6v6h-6zM418 427h6v6h-6zM544 445h6v6h-6zM568 451h6v6h-6zM562 457h6v6h-6zM544 463h6v6h-6zM556 463h6v6h-6zM538 469h6v6h-6zM556 469h6v6h-6zM532 475h6v6h-6zM556 475h6v6h-6zM292 481h24v6h-24zM364 481h6v6h-6zM508 493h6v6h-6zM562 499h6v6h-6zM484 511h6v6h-6zM586 517h6v6h-6zM478 523h6v6h-6zM604 523h6v6h-6zM202 535h6v6h-6zM196 541h6v6h-6zM472 547h6v6h-6zM652 553h6v6h-6zM658 559h6v6h-6z"/>
<path fill="#616161" d="M478 373h6v6h-6zM454 379h6v6h-6zM622 379h6v6h-6zM502 385h6v6h-6zM508 391h6v6h-6zM514 397h6v6h-6zM598 403h6v6h-6zM532 415h6v6h-6zM580 433h6v6h-6zM544 439h6v6h-6zM400 457h6v6h-6zM550 457h12v6h-12zM550 463h6v6h-6zM544 469h12v6h-12zM382 475h6v6h-6zM316 481h12v6h-12zM352 481h12v6h-12zM526 481h6v6h-6zM556 481h6v6h-6zM262 487h6v6h-6zM556 487h6v6h-6zM250 493h6v6h-6zM502 499h6v6h-6zM226 505h6v6h-6zM496 505h6v6h-6zM214 511h6v6h-6zM484 517h6v6h-6zM208 523h6v6h-6zM478 529h6v6h-6zM616 529h6v6h-6zM628 535h6v6h-6zM190 547h6v6h-6zM184 553h6v6h-6zM472 553h6v6h-6zM658 565h6v6h-6zM658 571h6v6h-6zM658 577h6v6h-6zM658 583h6v6h-6zM658 589h6v6h-6z"/>
<path fill="#626262" d="M676 367h30v6h-30zM466 373h6v6h-6zM436 397h6v6h-6zM424 415h6v6h-6zM538 421h6v6h-6zM586 421h6v6h-6zM544 433h6v6h-6zM406 445h6v6h-6zM568 445h6v6h-6zM550 451h18v6h-18zM394 463h6v6h-6zM388 469h6v6h-6zM538 475h6v6h-6zM550 475h6v6h-6zM286 481h6v6h-6zM328 481h24v6h-24zM520 487h6v6h-6zM514 493h6v6h-6zM556 493h6v6h-6zM238 499h6v6h-6zM562 505h6v6h-6zM490 511h6v6h-6zM568 511h6v6h-6zM580 517h6v6h-6zM478 535h6v6h-6zM178 565h6v6h-6zM178 571h6v6h-6zM178 577h6v6h-6zM178 583h6v6h-6zM178 589h6v6h-6z"/>
<path fill="#636363" d="M670 367h6v6h-6zM484 373h6v6h-6zM634 373h6v6h-6zM496 379h6v6h-6zM412 433h6v6h-6zM574 439h6v6h-6zM550 445h6v6h-6zM376 475h6v6h-6zM544 475h6v6h-6zM280 481h6v6h-6zM532 481h6v6h-6zM508 499h6v6h-6zM502 505h6v6h-6zM208 517h6v6h-6zM484 523h6v6h-6zM598 523h6v6h-6zM202 529h6v6h-6zM178 559h6v6h-6zM472 559h6v6h-6z"/>
<path fill="#646464" d="M664 367h6v6h-6zM430 403h6v6h-6zM592 409h6v6h-6zM550 439h6v6h-6zM556 445h12v6h-12zM400 451h6v6h-6zM274 481h6v6h-6zM550 481h6v6h-6zM256 487h6v6h-6zM526 487h6v6h-6zM244 493h6v6h-6zM520 493h6v6h-6zM556 499h6v6h-6zM220 505h6v6h-6zM496 511h6v6h-6zM490 517h6v6h-6zM574 517h6v6h-6zM196 535h6v6h-6zM478 541h6v6h-6zM634 541h6v6h-6zM652 559h6v6h-6zM472 565h6v6h-6zM472 571h6v6h-6zM472 577h6v6h-6zM472 583h6v6h-6zM472 589h6v6h-6z"/>
<path fill="#656565" d="M460 373h6v6h-6zM610 385h6v6h-6zM604 391h6v6h-6zM526 403h6v6h-6zM532 409h6v6h-6zM418 421h6v6h-6zM544 427h6v6h-6zM580 427h6v6h-6zM568 439h6v6h-6zM538 481h12v6h-12zM532 487h6v6h-6zM550 487h6v6h-6zM232 499h6v6h-6zM514 499h6v6h-6zM508 505h6v6h-6zM556 505h6v6h-6zM562 511h6v6h-6zM592 523h6v6h-6zM484 529h6v6h-6zM190 541h6v6h-6zM640 547h6v6h-6zM646 553h6v6h-6zM652 565h6v6h-6zM652 571h6v6h-6zM652 577h6v6h-6zM652 583h6v6h-6zM652 589h6v6h-6z"/>
<path fill="#666666" d="M658 367h6v6h-6zM490 373h6v6h-6zM442 385h6v6h-6zM520 397h6v6h-6zM424 409h6v6h-6zM538 415h6v6h-6zM550 433h6v6h-6zM574 433h6v6h-6zM406 439h6v6h-6zM556 439h6v6h-6zM394 457h6v6h-6zM382 469h6v6h-6zM370 475h6v6h-6zM268 481h6v6h-6zM526 493h6v6h-6zM550 493h6v6h-6zM550 499h6v6h-6zM502 511h6v6h-6zM496 517h6v6h-6zM568 517h6v6h-6zM202 523h6v6h-6zM490 523h6v6h-6zM586 523h6v6h-6zM610 529h6v6h-6zM184 547h6v6h-6zM478 547h6v6h-6z"/>
<path fill="#676767" d="M628 373h6v6h-6zM448 379h6v6h-6zM616 379h6v6h-6zM508 385h6v6h-6zM436 391h6v6h-6zM514 391h6v6h-6zM598 397h6v6h-6zM586 415h6v6h-6zM544 421h6v6h-6zM412 427h6v6h-6zM562 439h6v6h-6zM388 463h6v6h-6zM250 487h6v6h-6zM538 487h12v6h-12zM532 493h6v6h-6zM544 493h6v6h-6zM520 499h6v6h-6zM214 505h6v6h-6zM514 505h6v6h-6zM208 511h6v6h-6zM556 511h6v6h-6zM580 523h6v6h-6zM484 535h6v6h-6zM622 535h6v6h-6zM178 553h6v6h-6zM172 565h6v6h-6zM172 571h6v6h-6zM172 577h6v6h-6zM172 583h6v6h-6zM172 589h6v6h-6z"/>
<path fill="#686868" d="M652 367h6v6h-6zM502 379h6v6h-6zM568 433h6v6h-6zM400 445h6v6h-6zM364 475h6v6h-6zM262 481h6v6h-6zM238 493h6v6h-6zM538 493h6v6h-6zM226 499h6v6h-6zM526 499h6v6h-6zM544 499h6v6h-6zM550 505h6v6h-6zM508 511h6v6h-6zM502 517h6v6h-6zM562 517h6v6h-6zM574 523h6v6h-6zM196 529h6v6h-6zM478 553h6v6h-6zM172 559h6v6h-6z"/>
<path fill="#696969" d="M454 373h6v6h-6zM430 397h6v6h-6zM418 415h6v6h-6zM580 421h6v6h-6zM550 427h6v6h-6zM574 427h6v6h-6zM556 433h12v6h-12zM376 469h6v6h-6zM358 475h6v6h-6zM532 499h12v6h-12zM520 505h6v6h-6zM544 505h6v6h-6zM550 511h6v6h-6zM202 517h6v6h-6zM556 517h6v6h-6zM496 523h6v6h-6zM568 523h6v6h-6zM490 529h6v6h-6zM604 529h6v6h-6zM646 559h6v6h-6z"/>
<path fill="#6a6a6a" d="M472 367h12v6h-12zM646 367h6v6h-6zM532 403h6v6h-6zM592 403h6v6h-6zM538 409h6v6h-6zM406 433h6v6h-6zM394 451h6v6h-6zM292 475h18v6h-18zM352 475h6v6h-6zM256 481h6v6h-6zM244 487h6v6h-6zM526 505h18v6h-18zM514 511h6v6h-6zM508 517h6v6h-6zM190 535h6v6h-6zM184 541h6v6h-6zM484 541h6v6h-6zM478 559h6v6h-6z"/>
<path fill="#6b6b6b" d="M466 367h6v6h-6zM484 367h6v6h-6zM496 373h6v6h-6zM526 397h6v6h-6zM544 415h6v6h-6zM556 427h6v6h-6zM388 457h6v6h-6zM382 463h6v6h-6zM286 475h6v6h-6zM310 475h12v6h-12zM346 475h6v6h-6zM220 499h6v6h-6zM520 511h6v6h-6zM544 511h6v6h-6zM550 517h6v6h-6zM502 523h6v6h-6zM562 523h6v6h-6zM628 541h6v6h-6zM178 547h6v6h-6zM640 553h6v6h-6zM478 565h6v6h-6zM646 565h6v6h-6zM478 571h6v6h-6zM646 571h6v6h-6zM478 577h6v6h-6zM646 577h6v6h-6zM478 583h6v6h-6zM646 583h6v6h-6zM478 589h6v6h-6zM646 589h6v6h-6z"/>
<path fill="#6c6c6c" d="M640 367h6v6h-6zM622 373h6v6h-6zM604 385h6v6h-6zM520 391h6v6h-6zM424 403h6v6h-6zM586 409h6v6h-6zM412 421h6v6h-6zM550 421h6v6h-6zM562 427h12v6h-12zM370 469h6v6h-6zM280 475h6v6h-6zM322 475h24v6h-24zM232 493h6v6h-6zM526 511h18v6h-18zM514 517h6v6h-6zM196 523h6v6h-6zM556 523h6v6h-6zM496 529h6v6h-6zM598 529h6v6h-6zM490 535h6v6h-6zM616 535h6v6h-6zM484 547h6v6h-6zM634 547h6v6h-6zM172 553h6v6h-6z"/>
<path fill="#6d6d6d" d="M460 367h6v6h-6zM442 379h6v6h-6zM436 385h6v6h-6zM514 385h6v6h-6zM598 391h6v6h-6zM580 415h6v6h-6zM574 421h6v6h-6zM400 439h6v6h-6zM274 475h6v6h-6zM250 481h6v6h-6zM208 505h6v6h-6zM202 511h6v6h-6zM520 517h6v6h-6zM544 517h6v6h-6zM508 523h6v6h-6zM550 523h6v6h-6zM574 529h24v6h-24zM166 565h6v6h-6zM166 571h6v6h-6zM166 577h6v6h-6zM166 583h6v6h-6zM166 589h6v6h-6z"/>
<path fill="#6e6e6e" d="M490 367h6v6h-6zM448 373h6v6h-6zM508 379h6v6h-6zM610 379h6v6h-6zM418 409h6v6h-6zM556 421h6v6h-6zM268 475h6v6h-6zM526 517h18v6h-18zM190 529h6v6h-6zM562 529h12v6h-12zM166 559h6v6h-6z"/>
<path fill="#6f6f6f" d="M430 391h6v6h-6zM592 397h6v6h-6zM538 403h6v6h-6zM544 409h6v6h-6zM550 415h6v6h-6zM568 421h6v6h-6zM406 427h6v6h-6zM394 445h6v6h-6zM364 469h6v6h-6zM238 487h6v6h-6zM214 499h6v6h-6zM196 517h6v6h-6zM514 523h6v6h-6zM544 523h6v6h-6zM502 529h6v6h-6zM556 529h6v6h-6zM184 535h6v6h-6zM490 541h6v6h-6zM484 553h6v6h-6z"/>
<path fill="#707070" d="M676 361h30v6h-30zM634 367h6v6h-6zM502 373h6v6h-6zM532 397h6v6h-6zM562 421h6v6h-6zM376 463h6v6h-6zM262 475h6v6h-6zM226 493h6v6h-6zM520 523h6v6h-6zM538 523h6v6h-6zM550 529h6v6h-6zM496 535h6v6h-6zM178 541h6v6h-6zM640 559h6v6h-6z"/>
<path fill="#717171" d="M670 361h6v6h-6zM454 367h6v6h-6zM616 373h6v6h-6zM526 391h6v6h-6zM424 397h6v6h-6zM412 415h6v6h-6zM574 415h6v6h-6zM388 451h6v6h-6zM382 457h6v6h-6zM244 481h6v6h-6zM526 523h12v6h-12zM508 529h6v6h-6zM544 529h6v6h-6zM610 535h6v6h-6zM622 541h6v6h-6zM172 547h6v6h-6z"/>
<path fill="#727272" d="M472 361h12v6h-12zM664 361h6v6h-6zM496 367h6v6h-6zM520 385h6v6h-6zM586 403h6v6h-6zM550 409h6v6h-6zM556 415h6v6h-6zM400 433h6v6h-6zM358 469h6v6h-6zM256 475h6v6h-6zM190 523h6v6h-6zM556 535h24v6h-24zM484 559h6v6h-6zM484 565h6v6h-6zM640 565h6v6h-6zM484 571h6v6h-6zM640 571h6v6h-6zM484 577h6v6h-6zM640 577h6v6h-6zM484 583h6v6h-6zM640 583h6v6h-6zM484 589h6v6h-6zM640 589h6v6h-6z"/>
<path fill="#737373" d="M466 361h6v6h-6zM484 361h6v6h-6zM628 367h6v6h-6zM514 379h6v6h-6zM598 385h6v6h-6zM538 397h6v6h-6zM418 403h6v6h-6zM544 403h6v6h-6zM580 409h6v6h-6zM562 415h12v6h-12zM232 487h6v6h-6zM514 529h6v6h-6zM538 529h6v6h-6zM502 535h6v6h-6zM550 535h6v6h-6zM580 535h6v6h-6zM490 547h6v6h-6zM628 547h6v6h-6zM166 553h6v6h-6zM634 553h6v6h-6z"/>
<path fill="#747474" d="M658 361h6v6h-6zM442 373h6v6h-6zM508 373h6v6h-6zM436 379h6v6h-6zM604 379h6v6h-6zM430 385h6v6h-6zM406 421h6v6h-6zM394 439h6v6h-6zM370 463h6v6h-6zM352 469h6v6h-6zM250 475h6v6h-6zM220 493h6v6h-6zM202 505h6v6h-6zM184 529h6v6h-6zM520 529h18v6h-18zM544 535h6v6h-6zM586 535h6v6h-6zM604 535h6v6h-6zM496 541h6v6h-6zM160 565h6v6h-6zM160 571h6v6h-6zM160 577h6v6h-6zM160 583h6v6h-6zM160 589h6v6h-6z"/>
<path fill="#757575" d="M652 361h6v6h-6zM532 391h6v6h-6zM592 391h6v6h-6zM556 409h6v6h-6zM280 469h24v6h-24zM346 469h6v6h-6zM238 481h6v6h-6zM208 499h6v6h-6zM196 511h6v6h-6zM178 535h6v6h-6zM592 535h12v6h-12zM562 541h6v6h-6zM160 559h6v6h-6z"/>
<path fill="#767676" d="M460 361h6v6h-6zM490 361h6v6h-6zM448 367h6v6h-6zM502 367h6v6h-6zM526 385h6v6h-6zM424 391h6v6h-6zM550 403h6v6h-6zM412 409h6v6h-6zM574 409h6v6h-6zM388 445h6v6h-6zM376 457h6v6h-6zM274 469h6v6h-6zM304 469h12v6h-12zM190 517h6v6h-6zM508 535h6v6h-6zM538 535h6v6h-6zM172 541h6v6h-6zM550 541h12v6h-12zM568 541h6v6h-6zM490 553h6v6h-6z"/>
<path fill="#777777" d="M646 361h6v6h-6zM622 367h6v6h-6zM610 373h6v6h-6zM544 397h6v6h-6zM586 397h6v6h-6zM562 409h6v6h-6zM400 427h6v6h-6zM382 451h6v6h-6zM364 463h6v6h-6zM268 469h6v6h-6zM316 469h12v6h-12zM334 469h12v6h-12zM532 535h6v6h-6zM574 541h6v6h-6zM616 541h6v6h-6z"/>
<path fill="#787878" d="M520 379h6v6h-6zM538 391h6v6h-6zM418 397h6v6h-6zM580 403h6v6h-6zM568 409h6v6h-6zM328 469h6v6h-6zM244 475h6v6h-6zM226 487h6v6h-6zM184 523h6v6h-6zM514 535h18v6h-18zM544 541h6v6h-6zM166 547h6v6h-6zM634 559h6v6h-6z"/>
<path fill="#797979" d="M478 355h6v6h-6zM454 361h6v6h-6zM496 361h6v6h-6zM640 361h6v6h-6zM514 373h6v6h-6zM556 403h6v6h-6zM406 415h6v6h-6zM262 469h6v6h-6zM214 493h6v6h-6zM502 541h6v6h-6zM538 541h6v6h-6zM580 541h6v6h-6zM496 547h6v6h-6zM550 547h18v6h-18zM160 553h6v6h-6z"/>
<path fill="#7a7a7a" d="M472 355h6v6h-6zM484 355h6v6h-6zM436 373h6v6h-6zM430 379h6v6h-6zM598 379h6v6h-6zM532 385h6v6h-6zM592 385h6v6h-6zM550 397h6v6h-6zM394 433h6v6h-6zM256 469h6v6h-6zM232 481h6v6h-6zM178 529h6v6h-6zM568 547h6v6h-6zM490 559h6v6h-6zM490 565h6v6h-6zM634 565h6v6h-6zM490 571h6v6h-6zM634 571h6v6h-6zM490 577h6v6h-6zM634 577h6v6h-6zM490 583h6v6h-6zM634 583h6v6h-6zM490 589h6v6h-6zM634 589h6v6h-6z"/>
<path fill="#7b7b7b" d="M466 355h6v6h-6zM634 361h6v6h-6zM442 367h6v6h-6zM508 367h6v6h-6zM616 367h6v6h-6zM526 379h6v6h-6zM424 385h6v6h-6zM586 391h6v6h-6zM412 403h6v6h-6zM562 403h6v6h-6zM574 403h6v6h-6zM370 457h6v6h-6zM358 463h6v6h-6zM172 535h6v6h-6zM532 541h6v6h-6zM586 541h6v6h-6zM544 547h6v6h-6zM574 547h6v6h-6zM622 547h6v6h-6zM628 553h6v6h-6zM154 565h6v6h-6zM154 571h6v6h-6zM154 577h6v6h-6zM154 583h6v6h-6zM154 589h6v6h-6z"/>
<path fill="#7c7c7c" d="M490 355h6v6h-6zM676 355h30v6h-30zM604 373h6v6h-6zM544 391h6v6h-6zM580 397h6v6h-6zM568 403h6v6h-6zM400 421h6v6h-6zM388 439h6v6h-6zM250 469h6v6h-6zM238 475h6v6h-6zM220 487h6v6h-6zM196 505h6v6h-6zM190 511h6v6h-6zM508 541h6v6h-6zM610 541h6v6h-6zM556 553h12v6h-12zM154 559h6v6h-6z"/>
<path fill="#7d7d7d" d="M460 355h6v6h-6zM670 355h6v6h-6zM502 361h6v6h-6zM520 373h6v6h-6zM538 385h6v6h-6zM418 391h6v6h-6zM556 397h6v6h-6zM382 445h6v6h-6zM376 451h6v6h-6zM352 463h6v6h-6zM202 499h6v6h-6zM184 517h6v6h-6zM166 541h6v6h-6zM514 541h6v6h-6zM526 541h6v6h-6zM592 541h6v6h-6zM538 547h6v6h-6zM496 553h6v6h-6zM550 553h6v6h-6zM568 553h6v6h-6z"/>
<path fill="#7e7e7e" d="M664 355h6v6h-6zM448 361h6v6h-6zM628 361h6v6h-6zM406 409h6v6h-6zM520 541h6v6h-6zM502 547h6v6h-6zM580 547h6v6h-6zM544 553h6v6h-6z"/>
<path fill="#7f7f7f" d="M478 349h6v6h-6zM496 355h6v6h-6zM514 367h6v6h-6zM610 367h6v6h-6zM532 379h6v6h-6zM592 379h6v6h-6zM586 385h6v6h-6zM550 391h6v6h-6zM412 397h6v6h-6zM562 397h6v6h-6zM574 397h6v6h-6zM394 427h6v6h-6zM364 457h6v6h-6zM244 469h6v6h-6zM226 481h6v6h-6zM208 493h6v6h-6zM178 523h6v6h-6zM598 541h12v6h-12zM160 547h6v6h-6zM532 547h6v6h-6zM574 553h6v6h-6z"/>
<path fill="#808080" d="M472 349h6v6h-6zM484 349h6v6h-6zM658 355h6v6h-6zM430 373h6v6h-6zM526 373h6v6h-6zM598 373h6v6h-6zM544 385h6v6h-6zM580 391h6v6h-6zM568 397h6v6h-6zM280 463h18v6h-18zM346 463h6v6h-6zM550 559h18v6h-18zM628 559h6v6h-6z"/>
<path fill="#818181" d="M490 349h6v6h-6zM454 355h6v6h-6zM652 355h6v6h-6zM508 361h6v6h-6zM622 361h6v6h-6zM436 367h6v6h-6zM424 379h6v6h-6zM556 391h6v6h-6zM388 433h6v6h-6zM268 463h12v6h-12zM298 463h6v6h-6zM232 475h6v6h-6zM172 529h6v6h-6zM586 547h6v6h-6zM154 553h6v6h-6zM538 553h6v6h-6zM496 559h6v6h-6zM544 559h6v6h-6zM568 559h6v6h-6zM550 565h18v6h-18zM550 571h18v6h-18zM550 577h18v6h-18zM550 583h18v6h-18zM550 589h18v6h-18z"/>
<path fill="#828282" d="M466 349h6v6h-6zM502 355h6v6h-6zM646 355h6v6h-6zM520 367h6v6h-6zM538 379h6v6h-6zM418 385h6v6h-6zM400 415h6v6h-6zM370 451h6v6h-6zM304 463h6v6h-6zM340 463h6v6h-6zM214 487h6v6h-6zM166 535h6v6h-6zM508 547h6v6h-6zM526 547h6v6h-6zM616 547h6v6h-6zM580 553h6v6h-6zM496 565h6v6h-6zM544 565h6v6h-6zM568 565h6v6h-6zM628 565h6v6h-6zM496 571h6v6h-6zM544 571h6v6h-6zM568 571h6v6h-6zM628 571h6v6h-6zM496 577h6v6h-6zM544 577h6v6h-6zM568 577h6v6h-6zM628 577h6v6h-6zM496 583h6v6h-6zM544 583h6v6h-6zM568 583h6v6h-6zM628 583h6v6h-6zM496 589h6v6h-6zM544 589h6v6h-6zM568 589h6v6h-6zM628 589h6v6h-6z"/>
<path fill="#838383" d="M496 349h6v6h-6zM442 361h6v6h-6zM604 367h6v6h-6zM532 373h6v6h-6zM550 385h6v6h-6zM562 391h18v6h-18zM406 403h6v6h-6zM382 439h6v6h-6zM376 445h6v6h-6zM262 463h6v6h-6zM310 463h12v6h-12zM334 463h6v6h-6zM238 469h6v6h-6zM190 505h6v6h-6zM184 511h6v6h-6zM514 547h12v6h-12zM502 553h6v6h-6zM532 553h6v6h-6zM622 553h6v6h-6zM574 559h6v6h-6zM148 565h6v6h-6zM148 571h6v6h-6zM148 577h6v6h-6zM148 583h6v6h-6zM148 589h6v6h-6z"/>
<path fill="#848484" d="M460 349h6v6h-6zM640 355h6v6h-6zM514 361h6v6h-6zM616 361h6v6h-6zM544 379h6v6h-6zM586 379h6v6h-6zM580 385h6v6h-6zM412 391h6v6h-6zM358 457h6v6h-6zM256 463h6v6h-6zM322 463h12v6h-12zM220 481h6v6h-6zM178 517h6v6h-6zM160 541h6v6h-6zM148 559h6v6h-6zM538 559h6v6h-6zM574 565h6v6h-6zM574 571h6v6h-6zM574 577h6v6h-6zM574 583h6v6h-6zM574 589h6v6h-6z"/>
<path fill="#858585" d="M478 343h12v6h-12zM448 355h6v6h-6zM508 355h6v6h-6zM634 355h6v6h-6zM526 367h6v6h-6zM592 373h6v6h-6zM556 385h6v6h-6zM394 421h6v6h-6zM196 499h6v6h-6zM592 547h6v6h-6zM538 565h6v6h-6zM538 571h6v6h-6zM538 577h6v6h-6zM538 583h6v6h-6zM538 589h6v6h-6z"/>
<path fill="#868686" d="M472 343h6v6h-6zM490 343h6v6h-6zM502 349h6v6h-6zM676 349h30v6h-30zM424 373h6v6h-6zM538 373h6v6h-6zM562 385h6v6h-6zM574 385h6v6h-6zM400 409h6v6h-6zM250 463h6v6h-6zM226 475h6v6h-6zM172 523h6v6h-6zM154 547h6v6h-6zM526 553h6v6h-6zM586 553h6v6h-6zM580 559h6v6h-6z"/>
<path fill="#878787" d="M496 343h6v6h-6zM670 349h6v6h-6zM520 361h6v6h-6zM610 361h6v6h-6zM430 367h6v6h-6zM598 367h6v6h-6zM418 379h6v6h-6zM550 379h6v6h-6zM580 379h6v6h-6zM568 385h6v6h-6zM406 397h6v6h-6zM388 427h6v6h-6zM352 457h6v6h-6zM202 493h6v6h-6zM610 547h6v6h-6zM532 559h6v6h-6zM580 565h6v6h-6zM580 571h6v6h-6zM580 577h6v6h-6zM580 583h6v6h-6zM580 589h6v6h-6z"/>
<path fill="#888888" d="M466 343h6v6h-6zM454 349h6v6h-6zM664 349h6v6h-6zM514 355h6v6h-6zM628 355h6v6h-6zM436 361h6v6h-6zM532 367h6v6h-6zM544 373h6v6h-6zM586 373h6v6h-6zM556 379h6v6h-6zM364 451h6v6h-6zM244 463h6v6h-6zM232 469h6v6h-6zM208 487h6v6h-6zM166 529h6v6h-6zM598 547h6v6h-6zM148 553h6v6h-6zM508 553h6v6h-6zM520 553h6v6h-6zM502 559h6v6h-6zM622 559h6v6h-6zM532 565h6v6h-6zM532 571h6v6h-6zM532 577h6v6h-6zM532 583h6v6h-6zM532 589h6v6h-6z"/>
<path fill="#898989" d="M478 337h18v6h-18zM502 343h6v6h-6zM508 349h6v6h-6zM526 361h6v6h-6zM574 379h6v6h-6zM412 385h6v6h-6zM382 433h6v6h-6zM604 547h6v6h-6zM514 553h6v6h-6zM502 565h6v6h-6zM502 571h6v6h-6zM502 577h6v6h-6zM502 583h6v6h-6zM502 589h6v6h-6z"/>
<path fill="#8a8a8a" d="M496 337h6v6h-6zM460 343h6v6h-6zM658 349h6v6h-6zM442 355h6v6h-6zM622 355h6v6h-6zM604 361h6v6h-6zM538 367h6v6h-6zM592 367h6v6h-6zM550 373h6v6h-6zM562 379h12v6h-12zM394 415h6v6h-6zM376 439h6v6h-6zM370 445h6v6h-6zM214 481h6v6h-6zM160 535h6v6h-6zM616 553h6v6h-6zM526 559h6v6h-6zM586 559h6v6h-6zM142 565h6v6h-6zM622 565h6v6h-6zM142 571h6v6h-6zM622 571h6v6h-6zM142 577h6v6h-6zM622 577h6v6h-6zM142 583h6v6h-6zM622 583h6v6h-6zM142 589h6v6h-6zM622 589h6v6h-6z"/>
<path fill="#8b8b8b" d="M472 337h6v6h-6zM652 349h6v6h-6zM520 355h6v6h-6zM580 373h6v6h-6zM400 403h6v6h-6zM274 457h12v6h-12zM346 457h6v6h-6zM220 475h6v6h-6zM184 505h6v6h-6zM178 511h6v6h-6zM172 517h6v6h-6zM592 553h6v6h-6z"/>
<path fill="#8c8c8c" d="M484 331h12v6h-12zM502 337h6v6h-6zM508 343h6v6h-6zM448 349h6v6h-6zM514 349h6v6h-6zM646 349h6v6h-6zM532 361h6v6h-6zM424 367h6v6h-6zM544 367h6v6h-6zM586 367h6v6h-6zM418 373h6v6h-6zM556 373h6v6h-6zM574 373h6v6h-6zM406 391h6v6h-6zM358 451h6v6h-6zM268 457h6v6h-6zM286 457h6v6h-6zM238 463h6v6h-6zM154 541h6v6h-6zM142 559h6v6h-6zM526 565h6v6h-6zM586 565h6v6h-6zM526 571h6v6h-6zM586 571h6v6h-6zM526 577h6v6h-6zM586 577h6v6h-6zM526 583h6v6h-6zM586 583h6v6h-6zM526 589h6v6h-6zM586 589h6v6h-6z"/>
<path fill="#8d8d8d" d="M478 331h6v6h-6zM496 331h6v6h-6zM466 337h6v6h-6zM640 349h6v6h-6zM526 355h6v6h-6zM616 355h6v6h-6zM430 361h6v6h-6zM598 361h6v6h-6zM562 373h12v6h-12zM388 421h6v6h-6zM262 457h6v6h-6zM292 457h12v6h-12zM340 457h6v6h-6zM226 469h6v6h-6zM190 499h6v6h-6zM166 523h6v6h-6zM508 559h6v6h-6zM520 559h6v6h-6z"/>
<path fill="#8e8e8e" d="M508 337h6v6h-6zM454 343h6v6h-6zM514 343h6v6h-6zM520 349h6v6h-6zM634 349h6v6h-6zM538 361h6v6h-6zM550 367h6v6h-6zM580 367h6v6h-6zM412 379h6v6h-6zM256 457h6v6h-6zM304 457h6v6h-6zM148 547h6v6h-6zM514 559h6v6h-6zM508 565h6v6h-6zM520 565h6v6h-6zM508 571h6v6h-6zM520 571h6v6h-6zM508 577h6v6h-6zM520 577h6v6h-6zM508 583h6v6h-6zM520 583h6v6h-6zM508 589h6v6h-6zM520 589h6v6h-6z"/>
<path fill="#8f8f8f" d="M490 325h6v6h-6zM472 331h6v6h-6zM502 331h6v6h-6zM670 343h36v6h-36zM436 355h6v6h-6zM532 355h6v6h-6zM610 355h6v6h-6zM544 361h6v6h-6zM592 361h6v6h-6zM556 367h6v6h-6zM574 367h6v6h-6zM400 397h6v6h-6zM394 409h6v6h-6zM310 457h6v6h-6zM334 457h6v6h-6zM196 493h6v6h-6zM598 553h6v6h-6zM514 565h6v6h-6zM514 571h6v6h-6zM514 577h6v6h-6zM514 583h6v6h-6zM514 589h6v6h-6z"/>
<path fill="#909090" d="M484 325h6v6h-6zM496 325h6v6h-6zM460 337h6v6h-6zM514 337h6v6h-6zM520 343h6v6h-6zM442 349h6v6h-6zM526 349h6v6h-6zM628 349h6v6h-6zM604 355h6v6h-6zM562 367h12v6h-12zM406 385h6v6h-6zM382 427h6v6h-6zM364 445h6v6h-6zM250 457h6v6h-6zM316 457h18v6h-18zM202 487h6v6h-6zM160 529h6v6h-6zM142 553h6v6h-6zM610 553h6v6h-6zM592 559h6v6h-6zM616 559h6v6h-6z"/>
<path fill="#919191" d="M478 325h6v6h-6zM502 325h6v6h-6zM508 331h6v6h-6zM664 343h6v6h-6zM538 355h6v6h-6zM550 361h6v6h-6zM586 361h6v6h-6zM376 433h6v6h-6zM370 439h6v6h-6zM352 451h6v6h-6zM232 463h6v6h-6zM208 481h6v6h-6zM592 565h6v6h-6zM616 565h6v6h-6zM592 571h6v6h-6zM616 571h6v6h-6zM592 577h6v6h-6zM616 577h6v6h-6zM592 583h6v6h-6zM616 583h6v6h-6zM592 589h6v6h-6zM616 589h6v6h-6z"/>
<path fill="#929292" d="M490 319h6v6h-6zM466 331h6v6h-6zM448 343h6v6h-6zM526 343h6v6h-6zM658 343h6v6h-6zM532 349h6v6h-6zM622 349h6v6h-6zM544 355h6v6h-6zM598 355h6v6h-6zM556 361h6v6h-6zM580 361h6v6h-6zM418 367h6v6h-6zM412 373h6v6h-6zM214 475h6v6h-6zM178 505h6v6h-6zM172 511h6v6h-6zM154 535h6v6h-6zM604 553h6v6h-6zM136 565h6v6h-6zM136 571h6v6h-6zM136 577h6v6h-6zM136 583h6v6h-6zM136 589h6v6h-6z"/>
<path fill="#939393" d="M256 151h6v6h-6zM256 157h12v6h-12zM256 163h12v6h-12zM484 319h6v6h-6zM496 319h6v6h-6zM472 325h6v6h-6zM508 325h6v6h-6zM514 331h6v6h-6zM520 337h6v6h-6zM652 343h6v6h-6zM538 349h6v6h-6zM616 349h6v6h-6zM424 361h6v6h-6zM562 361h18v6h-18zM388 415h6v6h-6zM244 457h6v6h-6zM220 469h6v6h-6zM166 517h6v6h-6zM148 541h6v6h-6z"/>
<path fill="#949494" d="M244 139h18v6h-18zM244 145h24v6h-24zM244 151h12v6h-12zM262 151h6v6h-6zM250 157h6v6h-6zM250 163h6v6h-6zM268 163h6v6h-6zM256 169h18v6h-18zM502 319h6v6h-6zM454 337h6v6h-6zM532 343h6v6h-6zM640 343h12v6h-12zM430 355h6v6h-6zM550 355h6v6h-6zM592 355h6v6h-6zM406 379h6v6h-6zM400 391h6v6h-6zM394 403h6v6h-6zM184 499h6v6h-6zM136 559h6v6h-6zM598 559h6v6h-6z"/>
<path fill="#959595" d="M244 127h12v6h-12zM238 133h30v6h-30zM238 139h6v6h-6zM262 139h6v6h-6zM238 145h6v6h-6zM268 145h6v6h-6zM268 151h6v6h-6zM244 157h6v6h-6zM268 157h6v6h-6zM262 175h12v6h-12zM490 313h6v6h-6zM478 319h6v6h-6zM508 319h6v6h-6zM514 325h6v6h-6zM520 331h6v6h-6zM526 337h6v6h-6zM634 343h6v6h-6zM544 349h6v6h-6zM610 349h6v6h-6zM556 355h6v6h-6zM580 355h12v6h-12zM358 445h6v6h-6zM346 451h6v6h-6zM160 523h6v6h-6zM142 547h6v6h-6zM610 559h6v6h-6zM598 565h6v6h-6zM598 571h6v6h-6zM598 577h6v6h-6zM598 583h6v6h-6zM598 589h6v6h-6z"/>
<path fill="#969696" d="M238 121h24v6h-24zM232 127h12v6h-12zM256 127h12v6h-12zM232 133h6v6h-6zM232 139h6v6h-6zM268 139h6v6h-6zM232 145h6v6h-6zM238 151h6v6h-6zM238 157h6v6h-6zM244 163h6v6h-6zM250 169h6v6h-6zM274 169h6v6h-6zM256 175h6v6h-6zM268 181h6v6h-6zM484 313h6v6h-6zM496 313h6v6h-6zM460 331h6v6h-6zM532 337h6v6h-6zM676 337h30v6h-30zM538 343h6v6h-6zM436 349h6v6h-6zM550 349h6v6h-6zM604 349h6v6h-6zM562 355h18v6h-18zM382 421h6v6h-6zM274 451h6v6h-6zM226 463h6v6h-6zM610 565h6v6h-6zM610 571h6v6h-6zM610 577h6v6h-6zM610 583h6v6h-6zM610 589h6v6h-6z"/>
<path fill="#979797" d="M232 109h18v6h-18zM226 115h36v6h-36zM226 121h12v6h-12zM262 121h6v6h-6zM226 127h6v6h-6zM268 127h6v6h-6zM226 133h6v6h-6zM268 133h6v6h-6zM226 139h6v6h-6zM274 145h6v6h-6zM232 151h6v6h-6zM274 151h6v6h-6zM274 157h6v6h-6zM238 163h6v6h-6zM274 163h6v6h-6zM244 169h6v6h-6zM274 175h6v6h-6zM262 181h6v6h-6zM274 181h6v6h-6zM502 313h6v6h-6zM514 319h6v6h-6zM466 325h6v6h-6zM520 325h6v6h-6zM526 331h6v6h-6zM670 337h6v6h-6zM442 343h6v6h-6zM544 343h6v6h-6zM628 343h6v6h-6zM556 349h6v6h-6zM598 349h6v6h-6zM400 385h6v6h-6zM376 427h6v6h-6zM364 439h6v6h-6zM262 451h12v6h-12zM280 451h6v6h-6zM238 457h6v6h-6zM190 493h6v6h-6zM604 559h6v6h-6zM604 565h6v6h-6zM604 571h6v6h-6zM604 577h6v6h-6zM604 583h6v6h-6zM604 589h6v6h-6z"/>
<path fill="#989898" d="M220 31h36v6h-36zM220 37h36v6h-36zM220 43h36v6h-36zM220 49h36v6h-36zM226 55h18v6h-18zM220 97h24v6h-24zM220 103h36v6h-36zM220 109h12v6h-12zM250 109h12v6h-12zM214 115h12v6h-12zM262 115h6v6h-6zM214 121h12v6h-12zM268 121h6v6h-6zM220 127h6v6h-6zM274 127h6v6h-6zM220 133h6v6h-6zM274 133h6v6h-6zM220 139h6v6h-6zM274 139h6v6h-6zM226 145h6v6h-6zM226 151h6v6h-6zM232 157h6v6h-6zM250 175h6v6h-6zM478 313h6v6h-6zM508 313h6v6h-6zM472 319h6v6h-6zM448 337h6v6h-6zM538 337h6v6h-6zM664 337h6v6h-6zM622 343h6v6h-6zM562 349h6v6h-6zM586 349h12v6h-12zM418 361h6v6h-6zM412 367h6v6h-6zM394 397h6v6h-6zM388 409h6v6h-6zM370 433h6v6h-6zM286 451h6v6h-6zM340 451h6v6h-6zM154 529h6v6h-6zM136 553h6v6h-6z"/>
<path fill="#999999" d="M100 31h120v6h-120zM256 31h18v6h-18zM316 31h42v6h-42zM100 37h120v6h-120zM256 37h18v6h-18zM316 37h42v6h-42zM100 43h120v6h-120zM256 43h18v6h-18zM316 43h42v6h-42zM100 49h120v6h-120zM256 49h18v6h-18zM316 49h42v6h-42zM100 55h126v6h-126zM244 55h30v6h-30zM322 55h36v6h-36zM172 61h90v6h-90zM328 61h24v6h-24zM196 67h54v6h-54zM202 73h48v6h-48zM202 79h48v6h-48zM202 85h48v6h-48zM202 91h48v6h-48zM202 97h18v6h-18zM244 97h12v6h-12zM208 103h12v6h-12zM256 103h6v6h-6zM208 109h12v6h-12zM262 109h6v6h-6zM208 115h6v6h-6zM268 115h6v6h-6zM208 121h6v6h-6zM274 121h6v6h-6zM214 127h6v6h-6zM214 133h6v6h-6zM214 139h6v6h-6zM220 145h6v6h-6zM226 157h6v6h-6zM232 163h6v6h-6zM238 169h6v6h-6zM256 181h6v6h-6zM484 307h18v6h-18zM526 325h6v6h-6zM532 331h6v6h-6zM652 337h12v6h-12zM550 343h6v6h-6zM616 343h6v6h-6zM568 349h18v6h-18zM424 355h6v6h-6zM406 373h6v6h-6zM256 451h6v6h-6zM292 451h6v6h-6zM214 469h6v6h-6zM208 475h6v6h-6zM196 487h6v6h-6zM166 511h6v6h-6zM148 535h6v6h-6z"/>
<path fill="#9a9a9a" d="M274 31h42v6h-42zM358 31h6v6h-6zM274 37h42v6h-42zM358 37h6v6h-6zM274 43h42v6h-42zM358 43h6v6h-6zM274 49h42v6h-42zM358 49h6v6h-6zM274 55h12v6h-12zM298 55h24v6h-24zM358 55h6v6h-6zM100 61h72v6h-72zM262 61h12v6h-12zM310 61h18v6h-18zM352 61h6v6h-6zM124 67h72v6h-72zM250 67h12v6h-12zM322 67h30v6h-30zM160 73h42v6h-42zM250 73h12v6h-12zM172 79h30v6h-30zM250 79h6v6h-6zM184 85h18v6h-18zM250 85h12v6h-12zM190 91h12v6h-12zM250 91h12v6h-12zM190 97h12v6h-12zM256 97h12v6h-12zM196 103h12v6h-12zM262 103h6v6h-6zM196 109h12v6h-12zM268 109h6v6h-6zM202 115h6v6h-6zM274 115h6v6h-6zM202 121h6v6h-6zM280 121h6v6h-6zM202 127h12v6h-12zM280 127h6v6h-6zM208 133h6v6h-6zM280 133h6v6h-6zM280 139h6v6h-6zM214 145h6v6h-6zM280 145h6v6h-6zM220 151h6v6h-6zM280 151h6v6h-6zM280 157h6v6h-6zM244 175h6v6h-6zM268 187h12v6h-12zM502 307h6v6h-6zM520 319h6v6h-6zM454 331h6v6h-6zM538 331h6v6h-6zM544 337h6v6h-6zM646 337h6v6h-6zM556 343h6v6h-6zM610 343h6v6h-6zM352 445h6v6h-6zM298 451h6v6h-6zM202 481h6v6h-6zM172 505h6v6h-6zM130 565h6v6h-6zM130 571h6v6h-6zM130 577h6v6h-6zM130 583h6v6h-6zM130 589h6v6h-6z"/>
<path fill="#9b9b9b" d="M364 31h6v6h-6zM364 37h6v6h-6zM364 43h6v6h-6zM364 49h6v6h-6zM286 55h12v6h-12zM274 61h12v6h-12zM298 61h12v6h-12zM358 61h6v6h-6zM100 67h24v6h-24zM262 67h12v6h-12zM304 67h18v6h-18zM352 67h6v6h-6zM100 73h60v6h-60zM262 73h6v6h-6zM142 79h30v6h-30zM256 79h12v6h-12zM160 85h24v6h-24zM262 85h6v6h-6zM172 91h18v6h-18zM262 91h6v6h-6zM178 97h12v6h-12zM268 97h6v6h-6zM184 103h12v6h-12zM268 103h6v6h-6zM184 109h12v6h-12zM274 109h6v6h-6zM190 115h12v6h-12zM280 115h6v6h-6zM196 121h6v6h-6zM196 127h6v6h-6zM202 133h6v6h-6zM208 139h6v6h-6zM214 151h6v6h-6zM220 157h6v6h-6zM226 163h6v6h-6zM280 163h6v6h-6zM232 169h6v6h-6zM280 169h6v6h-6zM280 175h6v6h-6zM250 181h6v6h-6zM280 181h6v6h-6zM262 187h6v6h-6zM514 313h6v6h-6zM460 325h6v6h-6zM532 325h6v6h-6zM550 337h6v6h-6zM634 337h12v6h-12zM562 343h12v6h-12zM598 343h12v6h-12zM430 349h6v6h-6zM400 379h6v6h-6zM250 451h6v6h-6zM304 451h6v6h-6zM334 451h6v6h-6zM220 463h6v6h-6zM160 517h6v6h-6zM142 541h6v6h-6zM130 559h6v6h-6z"/>
<path fill="#9c9c9c" d="M370 31h6v6h-6zM370 37h6v6h-6zM370 43h6v6h-6zM370 49h6v6h-6zM364 55h6v6h-6zM286 61h12v6h-12zM274 67h12v6h-12zM292 67h12v6h-12zM268 73h6v6h-6zM304 73h48v6h-48zM100 79h42v6h-42zM268 79h6v6h-6zM310 79h6v6h-6zM130 85h30v6h-30zM268 85h6v6h-6zM148 91h24v6h-24zM268 91h6v6h-6zM160 97h18v6h-18zM274 97h6v6h-6zM172 103h12v6h-12zM274 103h6v6h-6zM178 109h6v6h-6zM280 109h6v6h-6zM184 115h6v6h-6zM184 121h12v6h-12zM286 121h6v6h-6zM190 127h6v6h-6zM286 127h6v6h-6zM196 133h6v6h-6zM286 133h6v6h-6zM202 139h6v6h-6zM286 139h6v6h-6zM208 145h6v6h-6zM238 175h6v6h-6zM484 301h12v6h-12zM478 307h6v6h-6zM508 307h6v6h-6zM472 313h6v6h-6zM466 319h6v6h-6zM526 319h6v6h-6zM544 331h6v6h-6zM556 337h6v6h-6zM628 337h6v6h-6zM436 343h6v6h-6zM574 343h24v6h-24zM394 391h6v6h-6zM382 415h6v6h-6zM310 451h24v6h-24zM232 457h6v6h-6zM178 499h6v6h-6z"/>
<path fill="#9d9d9d" d="M376 31h6v6h-6zM376 37h6v6h-6zM376 43h6v6h-6zM376 49h6v6h-6zM370 55h12v6h-12zM364 61h6v6h-6zM286 67h6v6h-6zM358 67h6v6h-6zM274 73h12v6h-12zM292 73h12v6h-12zM352 73h6v6h-6zM274 79h6v6h-6zM298 79h12v6h-12zM316 79h6v6h-6zM100 85h30v6h-30zM274 85h6v6h-6zM298 85h18v6h-18zM100 91h48v6h-48zM274 91h12v6h-12zM142 97h18v6h-18zM280 97h6v6h-6zM154 103h18v6h-18zM280 103h6v6h-6zM166 109h12v6h-12zM286 109h6v6h-6zM172 115h12v6h-12zM286 115h6v6h-6zM178 121h6v6h-6zM184 127h6v6h-6zM292 127h6v6h-6zM190 133h6v6h-6zM196 139h6v6h-6zM202 145h6v6h-6zM286 145h6v6h-6zM208 151h6v6h-6zM214 157h6v6h-6zM220 163h6v6h-6zM226 169h6v6h-6zM244 181h6v6h-6zM256 187h6v6h-6zM280 187h6v6h-6zM496 301h6v6h-6zM520 313h6v6h-6zM538 325h6v6h-6zM550 331h6v6h-6zM670 331h36v6h-36zM442 337h6v6h-6zM562 337h6v6h-6zM622 337h6v6h-6zM412 361h6v6h-6zM406 367h6v6h-6zM388 403h6v6h-6zM358 439h6v6h-6zM154 523h6v6h-6zM136 547h6v6h-6z"/>
<path fill="#9e9e9e" d="M382 31h6v6h-6zM382 37h6v6h-6zM382 43h6v6h-6zM382 49h6v6h-6zM382 55h6v6h-6zM370 61h6v6h-6zM364 67h6v6h-6zM286 73h6v6h-6zM280 79h18v6h-18zM322 79h12v6h-12zM280 85h18v6h-18zM316 85h6v6h-6zM286 91h24v6h-24zM100 97h42v6h-42zM286 97h12v6h-12zM136 103h18v6h-18zM286 103h6v6h-6zM148 109h18v6h-18zM160 115h12v6h-12zM292 115h6v6h-6zM166 121h12v6h-12zM292 121h6v6h-6zM178 127h6v6h-6zM184 133h6v6h-6zM292 133h6v6h-6zM190 139h6v6h-6zM196 145h6v6h-6zM202 151h6v6h-6zM286 151h6v6h-6zM208 157h6v6h-6zM214 163h6v6h-6zM232 175h6v6h-6zM502 301h6v6h-6zM514 307h6v6h-6zM532 319h6v6h-6zM544 325h6v6h-6zM556 331h6v6h-6zM658 331h12v6h-12zM568 337h6v6h-6zM616 337h6v6h-6zM418 355h6v6h-6zM376 421h6v6h-6zM364 433h6v6h-6zM184 493h6v6h-6z"/>
<path fill="#9f9f9f" d="M388 31h6v6h-6zM388 37h6v6h-6zM388 43h6v6h-6zM388 49h6v6h-6zM388 55h6v6h-6zM376 61h12v6h-12zM676 61h30v6h-30zM676 67h30v6h-30zM358 73h6v6h-6zM334 79h6v6h-6zM310 91h6v6h-6zM298 97h12v6h-12zM100 103h36v6h-36zM292 103h12v6h-12zM130 109h18v6h-18zM292 109h6v6h-6zM148 115h12v6h-12zM160 121h6v6h-6zM166 127h12v6h-12zM172 133h12v6h-12zM184 139h6v6h-6zM292 139h6v6h-6zM190 145h6v6h-6zM196 151h6v6h-6zM202 157h6v6h-6zM286 157h6v6h-6zM220 169h6v6h-6zM238 181h6v6h-6zM250 187h6v6h-6zM268 193h12v6h-12zM484 295h12v6h-12zM478 301h6v6h-6zM526 313h6v6h-6zM538 319h6v6h-6zM550 325h6v6h-6zM448 331h6v6h-6zM562 331h6v6h-6zM646 331h12v6h-12zM574 337h42v6h-42zM400 373h6v6h-6zM394 385h6v6h-6zM370 427h6v6h-6zM346 445h6v6h-6zM244 451h6v6h-6zM148 529h6v6h-6zM130 553h6v6h-6z"/>
<path fill="#a0a0a0" d="M394 31h6v6h-6zM394 37h6v6h-6zM394 43h6v6h-6zM394 49h6v6h-6zM394 55h6v6h-6zM676 55h30v6h-30zM388 61h12v6h-12zM670 61h6v6h-6zM370 67h12v6h-12zM670 67h6v6h-6zM670 73h36v6h-36zM340 79h12v6h-12zM670 79h36v6h-36zM322 85h6v6h-6zM676 85h30v6h-30zM316 91h6v6h-6zM310 97h6v6h-6zM304 103h6v6h-6zM100 109h30v6h-30zM298 109h6v6h-6zM130 115h18v6h-18zM298 115h6v6h-6zM142 121h18v6h-18zM298 121h6v6h-6zM154 127h12v6h-12zM298 127h6v6h-6zM166 133h6v6h-6zM298 133h6v6h-6zM172 139h12v6h-12zM184 145h6v6h-6zM190 151h6v6h-6zM208 163h6v6h-6zM214 169h6v6h-6zM226 175h6v6h-6zM262 193h6v6h-6zM496 295h6v6h-6zM508 301h6v6h-6zM520 307h6v6h-6zM532 313h6v6h-6zM544 319h6v6h-6zM454 325h6v6h-6zM556 325h6v6h-6zM568 331h6v6h-6zM634 331h12v6h-12zM424 349h6v6h-6zM142 535h6v6h-6z"/>
<path fill="#a1a1a1" d="M670 31h36v6h-36zM670 37h36v6h-36zM670 43h36v6h-36zM670 49h36v6h-36zM400 55h6v6h-6zM670 55h6v6h-6zM400 61h6v6h-6zM382 67h12v6h-12zM664 67h6v6h-6zM364 73h6v6h-6zM664 73h6v6h-6zM664 79h6v6h-6zM670 85h6v6h-6zM670 91h36v6h-36zM676 97h30v6h-30zM100 115h30v6h-30zM130 121h12v6h-12zM142 127h12v6h-12zM154 133h12v6h-12zM166 139h6v6h-6zM298 139h6v6h-6zM178 145h6v6h-6zM292 145h6v6h-6zM184 151h6v6h-6zM196 157h6v6h-6zM202 163h6v6h-6zM286 163h6v6h-6zM220 175h6v6h-6zM232 181h6v6h-6zM244 187h6v6h-6zM490 289h6v6h-6zM502 295h6v6h-6zM472 307h6v6h-6zM460 319h6v6h-6zM550 319h6v6h-6zM562 325h6v6h-6zM574 331h6v6h-6zM622 331h12v6h-12zM430 343h6v6h-6zM388 397h6v6h-6zM382 409h6v6h-6zM268 445h12v6h-12zM226 457h6v6h-6zM214 463h6v6h-6zM208 469h6v6h-6zM190 487h6v6h-6zM166 505h6v6h-6zM124 565h6v6h-6zM124 571h6v6h-6zM124 577h6v6h-6zM124 583h6v6h-6zM124 589h6v6h-6z"/>
<path fill="#a2a2a2" d="M400 31h6v6h-6zM664 31h6v6h-6zM400 37h6v6h-6zM664 37h6v6h-6zM400 43h6v6h-6zM664 43h6v6h-6zM400 49h6v6h-6zM664 49h6v6h-6zM664 55h6v6h-6zM406 61h6v6h-6zM664 61h6v6h-6zM370 73h6v6h-6zM352 79h6v6h-6zM328 85h6v6h-6zM664 85h6v6h-6zM658 91h12v6h-12zM664 97h12v6h-12zM664 103h42v6h-42zM304 109h6v6h-6zM670 109h36v6h-36zM304 115h6v6h-6zM100 121h30v6h-30zM124 127h18v6h-18zM142 133h12v6h-12zM154 139h12v6h-12zM166 145h12v6h-12zM178 151h6v6h-6zM190 157h6v6h-6zM196 163h6v6h-6zM208 169h6v6h-6zM286 169h6v6h-6zM256 193h6v6h-6zM280 193h6v6h-6zM484 289h6v6h-6zM496 289h6v6h-6zM478 295h6v6h-6zM514 301h6v6h-6zM526 307h6v6h-6zM466 313h6v6h-6zM538 313h6v6h-6zM568 325h6v6h-6zM580 331h42v6h-42zM436 337h6v6h-6zM394 379h6v6h-6zM352 439h6v6h-6zM262 445h6v6h-6zM280 445h6v6h-6zM202 475h6v6h-6zM196 481h6v6h-6zM160 511h6v6h-6zM136 541h6v6h-6zM124 559h6v6h-6z"/>
<path fill="#a3a3a3" d="M406 55h6v6h-6zM394 67h6v6h-6zM658 67h6v6h-6zM376 73h6v6h-6zM658 73h6v6h-6zM658 79h6v6h-6zM334 85h6v6h-6zM658 85h6v6h-6zM322 91h6v6h-6zM652 91h6v6h-6zM316 97h6v6h-6zM652 97h12v6h-12zM310 103h6v6h-6zM652 103h12v6h-12zM652 109h18v6h-18zM658 115h48v6h-48zM304 121h6v6h-6zM100 127h24v6h-24zM304 127h6v6h-6zM124 133h18v6h-18zM304 133h6v6h-6zM142 139h12v6h-12zM304 139h6v6h-6zM154 145h12v6h-12zM298 145h6v6h-6zM166 151h12v6h-12zM292 151h6v6h-6zM178 157h12v6h-12zM190 163h6v6h-6zM202 169h6v6h-6zM214 175h6v6h-6zM286 175h6v6h-6zM226 181h6v6h-6zM286 181h6v6h-6zM238 187h6v6h-6zM634 247h6v6h-6zM490 283h6v6h-6zM508 295h6v6h-6zM544 313h6v6h-6zM556 319h6v6h-6zM574 325h6v6h-6zM652 325h54v6h-54zM442 331h6v6h-6zM406 361h6v6h-6zM400 367h6v6h-6zM286 445h6v6h-6zM340 445h6v6h-6zM238 451h6v6h-6zM172 499h6v6h-6zM154 517h6v6h-6z"/>
<path fill="#a4a4a4" d="M406 31h6v6h-6zM658 31h6v6h-6zM406 37h6v6h-6zM658 37h6v6h-6zM406 43h6v6h-6zM658 43h6v6h-6zM406 49h6v6h-6zM658 49h6v6h-6zM412 55h6v6h-6zM658 55h6v6h-6zM412 61h6v6h-6zM658 61h6v6h-6zM400 67h6v6h-6zM382 73h6v6h-6zM652 73h6v6h-6zM358 79h6v6h-6zM652 79h6v6h-6zM646 85h12v6h-12zM646 91h6v6h-6zM646 97h6v6h-6zM640 103h12v6h-12zM640 109h12v6h-12zM640 115h18v6h-18zM646 121h60v6h-60zM652 127h54v6h-54zM100 133h24v6h-24zM100 139h42v6h-42zM142 145h12v6h-12zM154 151h12v6h-12zM172 157h6v6h-6zM184 163h6v6h-6zM196 169h6v6h-6zM208 175h6v6h-6zM220 181h6v6h-6zM232 187h6v6h-6zM286 187h6v6h-6zM250 193h6v6h-6zM628 247h6v6h-6zM484 283h6v6h-6zM496 283h6v6h-6zM478 289h6v6h-6zM502 289h6v6h-6zM472 301h6v6h-6zM520 301h6v6h-6zM532 307h6v6h-6zM550 313h6v6h-6zM562 319h12v6h-12zM580 325h12v6h-12zM634 325h18v6h-18zM412 355h6v6h-6zM388 391h6v6h-6zM376 415h6v6h-6zM358 433h6v6h-6zM256 445h6v6h-6zM292 445h6v6h-6zM130 547h6v6h-6zM100 565h24v6h-24zM100 571h24v6h-24zM100 577h24v6h-24zM100 583h24v6h-24zM100 589h24v6h-24z"/>
<path fill="#a5a5a5" d="M412 31h6v6h-6zM652 31h6v6h-6zM412 37h6v6h-6zM652 37h6v6h-6zM412 43h6v6h-6zM652 43h6v6h-6zM412 49h6v6h-6zM652 49h6v6h-6zM652 61h6v6h-6zM406 67h6v6h-6zM652 67h6v6h-6zM388 73h6v6h-6zM646 79h6v6h-6zM340 85h6v6h-6zM640 85h6v6h-6zM640 91h6v6h-6zM634 97h12v6h-12zM634 103h6v6h-6zM310 109h6v6h-6zM634 109h6v6h-6zM634 115h6v6h-6zM634 121h12v6h-12zM640 127h12v6h-12zM646 133h60v6h-60zM100 145h42v6h-42zM304 145h6v6h-6zM142 151h12v6h-12zM160 157h12v6h-12zM292 157h6v6h-6zM178 163h6v6h-6zM190 169h6v6h-6zM202 175h6v6h-6zM244 193h6v6h-6zM628 241h12v6h-12zM640 247h6v6h-6zM628 253h12v6h-12zM490 277h6v6h-6zM538 307h6v6h-6zM556 313h6v6h-6zM574 319h6v6h-6zM448 325h6v6h-6zM592 325h42v6h-42zM418 349h6v6h-6zM382 403h6v6h-6zM370 421h6v6h-6zM364 427h6v6h-6zM178 493h6v6h-6zM148 523h6v6h-6z"/>
<path fill="#a6a6a6" d="M418 31h6v6h-6zM418 37h6v6h-6zM418 43h6v6h-6zM418 49h6v6h-6zM418 55h6v6h-6zM652 55h6v6h-6zM418 61h6v6h-6zM412 67h6v6h-6zM646 67h6v6h-6zM646 73h6v6h-6zM364 79h6v6h-6zM640 79h6v6h-6zM634 85h6v6h-6zM328 91h6v6h-6zM634 91h6v6h-6zM322 97h6v6h-6zM628 97h6v6h-6zM316 103h6v6h-6zM628 103h6v6h-6zM628 109h6v6h-6zM310 115h6v6h-6zM628 115h6v6h-6zM628 121h6v6h-6zM634 127h6v6h-6zM634 133h12v6h-12zM640 139h66v6h-66zM100 151h42v6h-42zM298 151h6v6h-6zM142 157h18v6h-18zM160 163h18v6h-18zM184 169h6v6h-6zM196 175h6v6h-6zM214 181h6v6h-6zM226 187h6v6h-6zM268 199h12v6h-12zM640 241h6v6h-6zM622 247h6v6h-6zM622 253h6v6h-6zM640 253h6v6h-6zM484 277h6v6h-6zM496 277h6v6h-6zM502 283h6v6h-6zM508 289h6v6h-6zM514 295h6v6h-6zM526 301h6v6h-6zM544 307h12v6h-12zM562 313h12v6h-12zM580 319h12v6h-12zM394 373h6v6h-6zM298 445h6v6h-6zM334 445h6v6h-6zM220 457h6v6h-6zM142 529h6v6h-6zM124 553h6v6h-6zM100 559h24v6h-24z"/>
<path fill="#a7a7a7" d="M646 31h6v6h-6zM646 37h6v6h-6zM646 43h6v6h-6zM646 49h6v6h-6zM646 55h6v6h-6zM646 61h6v6h-6zM418 67h6v6h-6zM640 67h6v6h-6zM394 73h6v6h-6zM640 73h6v6h-6zM370 79h6v6h-6zM634 79h6v6h-6zM346 85h6v6h-6zM628 85h6v6h-6zM628 91h6v6h-6zM622 97h6v6h-6zM622 103h6v6h-6zM622 109h6v6h-6zM622 115h6v6h-6zM310 121h6v6h-6zM622 121h6v6h-6zM628 127h6v6h-6zM628 133h6v6h-6zM634 139h6v6h-6zM640 145h66v6h-66zM100 157h42v6h-42zM142 163h18v6h-18zM172 169h12v6h-12zM190 175h6v6h-6zM208 181h6v6h-6zM238 193h6v6h-6zM262 199h6v6h-6zM634 235h6v6h-6zM622 241h6v6h-6zM628 259h12v6h-12zM502 277h6v6h-6zM478 283h6v6h-6zM532 301h6v6h-6zM466 307h6v6h-6zM556 307h6v6h-6zM574 313h6v6h-6zM454 319h6v6h-6zM592 319h12v6h-12zM640 319h18v6h-18zM424 343h6v6h-6zM388 385h6v6h-6zM346 439h6v6h-6zM250 445h6v6h-6zM304 445h12v6h-12zM328 445h6v6h-6zM136 535h6v6h-6z"/>
<path fill="#a8a8a8" d="M424 31h6v6h-6zM640 31h6v6h-6zM424 37h6v6h-6zM640 37h6v6h-6zM424 43h6v6h-6zM640 43h6v6h-6zM424 49h6v6h-6zM640 49h6v6h-6zM424 55h6v6h-6zM640 55h6v6h-6zM424 61h6v6h-6zM634 61h12v6h-12zM634 67h6v6h-6zM628 73h12v6h-12zM376 79h6v6h-6zM628 79h6v6h-6zM622 85h6v6h-6zM334 91h6v6h-6zM622 91h6v6h-6zM616 97h6v6h-6zM616 103h6v6h-6zM616 109h6v6h-6zM616 115h6v6h-6zM310 127h6v6h-6zM622 127h6v6h-6zM310 133h6v6h-6zM622 133h6v6h-6zM628 139h6v6h-6zM634 145h6v6h-6zM640 151h66v6h-66zM100 163h42v6h-42zM292 163h6v6h-6zM148 169h24v6h-24zM178 175h12v6h-12zM202 181h6v6h-6zM220 187h6v6h-6zM256 199h6v6h-6zM628 235h6v6h-6zM640 235h6v6h-6zM646 241h6v6h-6zM616 247h6v6h-6zM646 247h6v6h-6zM616 253h6v6h-6zM622 259h6v6h-6zM490 271h12v6h-12zM508 283h6v6h-6zM514 289h6v6h-6zM472 295h6v6h-6zM520 295h6v6h-6zM538 301h12v6h-12zM562 307h18v6h-18zM460 313h6v6h-6zM580 313h12v6h-12zM604 319h36v6h-36zM658 319h48v6h-48zM430 337h6v6h-6zM400 361h6v6h-6zM316 445h12v6h-12zM232 451h6v6h-6z"/>
<path fill="#a9a9a9" d="M430 31h6v6h-6zM628 31h12v6h-12zM430 37h6v6h-6zM628 37h12v6h-12zM430 43h6v6h-6zM628 43h12v6h-12zM430 49h6v6h-6zM628 49h12v6h-12zM628 55h12v6h-12zM628 61h6v6h-6zM424 67h6v6h-6zM628 67h6v6h-6zM400 73h6v6h-6zM412 73h12v6h-12zM622 73h6v6h-6zM382 79h6v6h-6zM622 79h6v6h-6zM352 85h6v6h-6zM616 85h6v6h-6zM616 91h6v6h-6zM316 109h6v6h-6zM616 121h6v6h-6zM616 127h6v6h-6zM622 139h6v6h-6zM628 145h6v6h-6zM634 151h6v6h-6zM646 157h60v6h-60zM100 169h48v6h-48zM154 175h24v6h-24zM190 181h12v6h-12zM214 187h6v6h-6zM232 193h6v6h-6zM286 193h6v6h-6zM280 199h6v6h-6zM622 235h6v6h-6zM646 253h6v6h-6zM616 259h6v6h-6zM640 259h6v6h-6zM628 265h6v6h-6zM484 271h6v6h-6zM502 271h6v6h-6zM478 277h6v6h-6zM508 277h6v6h-6zM526 295h6v6h-6zM550 301h24v6h-24zM580 307h12v6h-12zM592 313h12v6h-12zM436 331h6v6h-6zM406 355h6v6h-6zM394 367h6v6h-6zM388 379h6v6h-6zM382 397h6v6h-6zM376 409h6v6h-6zM208 463h6v6h-6zM202 469h6v6h-6zM184 487h6v6h-6zM160 505h6v6h-6zM130 541h6v6h-6z"/>
<path fill="#aaaaaa" d="M622 31h6v6h-6zM622 37h6v6h-6zM622 43h6v6h-6zM622 49h6v6h-6zM430 55h6v6h-6zM622 55h6v6h-6zM430 61h6v6h-6zM622 61h6v6h-6zM622 67h6v6h-6zM406 73h6v6h-6zM424 73h6v6h-6zM616 73h6v6h-6zM388 79h6v6h-6zM616 79h6v6h-6zM610 91h6v6h-6zM328 97h6v6h-6zM610 97h6v6h-6zM322 103h6v6h-6zM610 103h6v6h-6zM610 109h6v6h-6zM610 115h6v6h-6zM616 133h6v6h-6zM310 139h6v6h-6zM622 145h6v6h-6zM304 151h6v6h-6zM628 151h6v6h-6zM634 157h12v6h-12zM100 175h54v6h-54zM178 181h12v6h-12zM208 187h6v6h-6zM226 193h6v6h-6zM250 199h6v6h-6zM628 229h18v6h-18zM646 235h6v6h-6zM616 241h6v6h-6zM610 247h6v6h-6zM610 253h6v6h-6zM610 259h6v6h-6zM616 265h12v6h-12zM634 265h6v6h-6zM514 283h6v6h-6zM472 289h6v6h-6zM520 289h6v6h-6zM532 295h12v6h-12zM574 301h18v6h-18zM592 307h12v6h-12zM604 313h42v6h-42zM442 325h6v6h-6zM412 349h6v6h-6zM352 433h6v6h-6zM244 445h6v6h-6zM166 499h6v6h-6zM154 511h6v6h-6zM124 547h6v6h-6zM100 553h24v6h-24z"/>
<path fill="#ababab" d="M436 31h6v6h-6zM616 31h6v6h-6zM436 37h6v6h-6zM616 37h6v6h-6zM436 43h6v6h-6zM616 43h6v6h-6zM436 49h6v6h-6zM616 49h6v6h-6zM616 55h6v6h-6zM616 61h6v6h-6zM430 67h6v6h-6zM616 67h6v6h-6zM430 73h6v6h-6zM610 73h6v6h-6zM418 79h12v6h-12zM610 79h6v6h-6zM358 85h6v6h-6zM610 85h6v6h-6zM340 91h6v6h-6zM604 97h6v6h-6zM604 103h6v6h-6zM316 115h6v6h-6zM610 121h6v6h-6zM610 127h6v6h-6zM616 139h6v6h-6zM622 151h6v6h-6zM298 157h6v6h-6zM628 157h6v6h-6zM634 163h72v6h-72zM292 169h6v6h-6zM100 181h78v6h-78zM196 187h12v6h-12zM220 193h6v6h-6zM244 199h6v6h-6zM634 223h6v6h-6zM646 229h6v6h-6zM652 235h6v6h-6zM610 241h6v6h-6zM652 241h6v6h-6zM652 247h6v6h-6zM646 259h6v6h-6zM490 265h18v6h-18zM610 265h6v6h-6zM640 265h6v6h-6zM478 271h6v6h-6zM508 271h6v6h-6zM622 271h12v6h-12zM514 277h6v6h-6zM526 289h6v6h-6zM580 289h12v6h-12zM544 295h54v6h-54zM592 301h12v6h-12zM604 307h12v6h-12zM646 313h12v6h-12zM448 319h6v6h-6zM370 415h6v6h-6zM364 421h6v6h-6zM358 427h6v6h-6zM214 457h6v6h-6zM196 475h6v6h-6zM190 481h6v6h-6zM148 517h6v6h-6z"/>
<path fill="#acacac" d="M604 31h12v6h-12zM604 37h12v6h-12zM604 43h12v6h-12zM604 49h12v6h-12zM436 55h6v6h-6zM610 55h6v6h-6zM436 61h6v6h-6zM610 61h6v6h-6zM610 67h6v6h-6zM394 79h6v6h-6zM412 79h6v6h-6zM604 79h6v6h-6zM604 85h6v6h-6zM604 91h6v6h-6zM604 109h6v6h-6zM604 115h6v6h-6zM604 121h6v6h-6zM610 133h6v6h-6zM310 145h6v6h-6zM616 145h6v6h-6zM628 163h6v6h-6zM634 169h72v6h-72zM100 187h96v6h-96zM100 193h30v6h-30zM214 193h6v6h-6zM238 199h6v6h-6zM628 223h6v6h-6zM640 223h12v6h-12zM622 229h6v6h-6zM652 229h6v6h-6zM616 235h6v6h-6zM604 247h6v6h-6zM604 253h6v6h-6zM652 253h6v6h-6zM604 259h6v6h-6zM484 265h6v6h-6zM604 265h6v6h-6zM604 271h18v6h-18zM634 271h6v6h-6zM586 277h18v6h-18zM520 283h6v6h-6zM574 283h30v6h-30zM532 289h48v6h-48zM592 289h12v6h-12zM598 295h12v6h-12zM604 301h12v6h-12zM616 307h18v6h-18zM658 313h48v6h-48zM418 343h6v6h-6zM388 373h6v6h-6zM382 391h6v6h-6zM268 439h12v6h-12zM340 439h6v6h-6zM172 493h6v6h-6z"/>
<path fill="#adadad" d="M442 31h6v6h-6zM598 31h6v6h-6zM442 37h6v6h-6zM598 37h6v6h-6zM442 43h6v6h-6zM598 43h6v6h-6zM442 49h6v6h-6zM598 49h6v6h-6zM598 55h12v6h-12zM604 61h6v6h-6zM436 67h6v6h-6zM604 67h6v6h-6zM604 73h6v6h-6zM400 79h12v6h-12zM430 79h6v6h-6zM364 85h6v6h-6zM598 85h6v6h-6zM598 91h6v6h-6zM598 97h6v6h-6zM598 103h6v6h-6zM322 109h6v6h-6zM598 109h6v6h-6zM316 121h6v6h-6zM604 127h6v6h-6zM610 139h6v6h-6zM616 151h6v6h-6zM622 157h6v6h-6zM628 169h6v6h-6zM628 175h78v6h-78zM634 181h12v6h-12zM130 193h30v6h-30zM208 193h6v6h-6zM100 199h36v6h-36zM232 199h6v6h-6zM628 217h24v6h-24zM622 223h6v6h-6zM652 223h54v6h-54zM658 229h48v6h-48zM610 235h6v6h-6zM658 235h12v6h-12zM604 241h6v6h-6zM658 241h6v6h-6zM658 247h6v6h-6zM598 253h6v6h-6zM598 259h6v6h-6zM508 265h6v6h-6zM598 265h6v6h-6zM514 271h6v6h-6zM586 271h18v6h-18zM520 277h6v6h-6zM574 277h12v6h-12zM604 277h30v6h-30zM472 283h6v6h-6zM526 283h48v6h-48zM604 283h18v6h-18zM604 289h12v6h-12zM610 295h12v6h-12zM466 301h6v6h-6zM616 301h12v6h-12zM634 307h12v6h-12zM262 439h6v6h-6zM280 439h6v6h-6zM226 451h6v6h-6zM142 523h6v6h-6zM136 529h6v6h-6zM100 547h24v6h-24z"/>
<path fill="#aeaeae" d="M586 31h12v6h-12zM586 37h12v6h-12zM586 43h12v6h-12zM586 49h12v6h-12zM442 55h6v6h-6zM592 55h6v6h-6zM598 61h6v6h-6zM598 67h6v6h-6zM436 73h6v6h-6zM598 73h6v6h-6zM598 79h6v6h-6zM418 85h12v6h-12zM346 91h6v6h-6zM592 91h6v6h-6zM334 97h6v6h-6zM598 115h6v6h-6zM598 121h6v6h-6zM316 127h6v6h-6zM604 133h6v6h-6zM490 145h6v6h-6zM610 145h6v6h-6zM490 151h6v6h-6zM622 163h6v6h-6zM622 169h6v6h-6zM622 181h12v6h-12zM646 181h60v6h-60zM622 187h30v6h-30zM160 193h48v6h-48zM622 193h24v6h-24zM136 199h18v6h-18zM226 199h6v6h-6zM628 199h18v6h-18zM100 205h36v6h-36zM628 205h30v6h-30zM628 211h78v6h-78zM622 217h6v6h-6zM652 217h54v6h-54zM616 229h6v6h-6zM604 235h6v6h-6zM670 235h36v6h-36zM598 241h6v6h-6zM664 241h6v6h-6zM598 247h6v6h-6zM490 259h24v6h-24zM592 259h6v6h-6zM652 259h6v6h-6zM514 265h6v6h-6zM592 265h6v6h-6zM646 265h6v6h-6zM520 271h6v6h-6zM580 271h6v6h-6zM640 271h6v6h-6zM472 277h6v6h-6zM526 277h30v6h-30zM568 277h6v6h-6zM634 277h6v6h-6zM622 283h12v6h-12zM616 289h12v6h-12zM622 295h6v6h-6zM628 301h12v6h-12zM646 307h12v6h-12zM454 313h6v6h-6zM424 337h6v6h-6zM400 355h6v6h-6zM394 361h6v6h-6zM382 385h6v6h-6zM376 403h6v6h-6zM286 439h6v6h-6zM130 535h6v6h-6z"/>
<path fill="#afafaf" d="M448 31h6v6h-6zM538 31h48v6h-48zM448 37h6v6h-6zM538 37h48v6h-48zM448 43h6v6h-6zM538 43h48v6h-48zM448 49h6v6h-6zM538 49h48v6h-48zM544 55h48v6h-48zM442 61h6v6h-6zM586 61h12v6h-12zM592 67h6v6h-6zM592 73h6v6h-6zM592 79h6v6h-6zM370 85h6v6h-6zM592 85h6v6h-6zM592 97h6v6h-6zM328 103h6v6h-6zM592 103h6v6h-6zM592 109h6v6h-6zM496 133h6v6h-6zM490 139h12v6h-12zM496 145h6v6h-6zM484 151h6v6h-6zM490 157h6v6h-6zM616 157h6v6h-6zM292 175h6v6h-6zM622 175h6v6h-6zM652 187h54v6h-54zM646 193h60v6h-60zM154 199h18v6h-18zM220 199h6v6h-6zM286 199h6v6h-6zM622 199h6v6h-6zM646 199h60v6h-60zM136 205h18v6h-18zM262 205h18v6h-18zM622 205h6v6h-6zM658 205h48v6h-48zM100 211h42v6h-42zM622 211h6v6h-6zM100 217h30v6h-30zM616 217h6v6h-6zM616 223h6v6h-6zM598 229h18v6h-18zM592 235h12v6h-12zM592 241h6v6h-6zM670 241h36v6h-36zM592 247h6v6h-6zM664 247h6v6h-6zM592 253h6v6h-6zM658 253h6v6h-6zM514 259h6v6h-6zM478 265h6v6h-6zM520 265h12v6h-12zM586 265h6v6h-6zM526 271h30v6h-30zM574 271h6v6h-6zM556 277h12v6h-12zM634 283h6v6h-6zM628 289h6v6h-6zM628 295h12v6h-12zM640 301h6v6h-6zM460 307h6v6h-6zM658 307h6v6h-6zM436 325h6v6h-6zM430 331h6v6h-6zM388 367h6v6h-6zM346 433h6v6h-6zM256 439h6v6h-6zM292 439h6v6h-6zM334 439h6v6h-6zM238 445h6v6h-6zM178 487h6v6h-6zM124 541h6v6h-6z"/>
<path fill="#b0b0b0" d="M454 31h6v6h-6zM526 31h12v6h-12zM454 37h6v6h-6zM526 37h12v6h-12zM454 43h6v6h-6zM526 43h12v6h-12zM454 49h6v6h-6zM526 49h12v6h-12zM448 55h6v6h-6zM532 55h12v6h-12zM544 61h42v6h-42zM442 67h6v6h-6zM550 67h24v6h-24zM580 67h12v6h-12zM580 73h12v6h-12zM436 79h6v6h-6zM580 79h12v6h-12zM376 85h12v6h-12zM412 85h6v6h-6zM430 85h6v6h-6zM580 85h12v6h-12zM580 91h12v6h-12zM586 97h6v6h-6zM586 103h6v6h-6zM322 115h6v6h-6zM592 115h6v6h-6zM592 121h6v6h-6zM496 127h6v6h-6zM598 127h6v6h-6zM316 133h6v6h-6zM490 133h6v6h-6zM604 139h6v6h-6zM484 145h6v6h-6zM496 151h6v6h-6zM610 151h6v6h-6zM484 157h6v6h-6zM298 163h6v6h-6zM616 163h6v6h-6zM616 169h6v6h-6zM616 181h6v6h-6zM616 187h6v6h-6zM616 193h6v6h-6zM172 199h12v6h-12zM208 199h12v6h-12zM616 199h6v6h-6zM154 205h12v6h-12zM238 205h24v6h-24zM616 205h6v6h-6zM142 211h12v6h-12zM616 211h6v6h-6zM130 217h12v6h-12zM610 217h6v6h-6zM100 223h36v6h-36zM598 223h18v6h-18zM580 229h18v6h-18zM580 235h12v6h-12zM586 241h6v6h-6zM502 253h12v6h-12zM484 259h6v6h-6zM520 259h24v6h-24zM586 259h6v6h-6zM532 265h24v6h-24zM580 265h6v6h-6zM652 265h6v6h-6zM472 271h6v6h-6zM556 271h18v6h-18zM646 271h6v6h-6zM640 277h6v6h-6zM634 289h6v6h-6zM640 295h6v6h-6zM646 301h6v6h-6zM664 307h6v6h-6zM442 319h6v6h-6zM406 349h6v6h-6zM382 379h6v6h-6zM370 409h6v6h-6zM352 427h6v6h-6z"/>
<path fill="#b1b1b1" d="M520 31h6v6h-6zM520 37h6v6h-6zM520 43h6v6h-6zM520 49h6v6h-6zM454 55h6v6h-6zM526 55h6v6h-6zM448 61h6v6h-6zM532 61h12v6h-12zM538 67h12v6h-12zM574 67h6v6h-6zM442 73h6v6h-6zM544 73h36v6h-36zM550 79h30v6h-30zM388 85h12v6h-12zM406 85h6v6h-6zM550 85h30v6h-30zM352 91h6v6h-6zM556 91h24v6h-24zM574 97h12v6h-12zM580 103h6v6h-6zM586 109h6v6h-6zM586 115h6v6h-6zM496 121h6v6h-6zM490 127h6v6h-6zM502 127h6v6h-6zM502 133h6v6h-6zM598 133h6v6h-6zM604 145h6v6h-6zM304 157h6v6h-6zM496 157h6v6h-6zM484 163h12v6h-12zM616 175h6v6h-6zM292 181h6v6h-6zM184 199h24v6h-24zM166 205h6v6h-6zM232 205h6v6h-6zM280 205h6v6h-6zM610 205h6v6h-6zM154 211h6v6h-6zM610 211h6v6h-6zM142 217h12v6h-12zM604 217h6v6h-6zM136 223h12v6h-12zM586 223h12v6h-12zM100 229h36v6h-36zM574 229h6v6h-6zM100 235h30v6h-30zM574 235h6v6h-6zM538 241h12v6h-12zM580 241h6v6h-6zM532 247h18v6h-18zM586 247h6v6h-6zM670 247h36v6h-36zM490 253h12v6h-12zM514 253h36v6h-36zM586 253h6v6h-6zM664 253h6v6h-6zM544 259h12v6h-12zM658 259h6v6h-6zM556 265h6v6h-6zM574 265h6v6h-6zM640 283h6v6h-6zM640 289h6v6h-6zM466 295h6v6h-6zM652 301h6v6h-6zM670 307h36v6h-36zM376 397h6v6h-6zM364 415h6v6h-6zM358 421h6v6h-6zM298 439h6v6h-6zM328 439h6v6h-6zM220 451h6v6h-6zM202 463h6v6h-6zM160 499h6v6h-6zM154 505h6v6h-6z"/>
<path fill="#b2b2b2" d="M460 31h6v6h-6zM514 31h6v6h-6zM460 37h6v6h-6zM514 37h6v6h-6zM460 43h6v6h-6zM514 43h6v6h-6zM460 49h6v6h-6zM514 49h6v6h-6zM520 55h6v6h-6zM526 61h6v6h-6zM448 67h6v6h-6zM532 67h6v6h-6zM538 73h6v6h-6zM538 79h12v6h-12zM400 85h6v6h-6zM436 85h6v6h-6zM544 85h6v6h-6zM544 91h12v6h-12zM340 97h6v6h-6zM544 97h30v6h-30zM550 103h30v6h-30zM580 109h6v6h-6zM502 121h6v6h-6zM586 121h6v6h-6zM592 127h6v6h-6zM316 139h6v6h-6zM484 139h6v6h-6zM502 139h6v6h-6zM310 151h6v6h-6zM610 157h6v6h-6zM610 193h6v6h-6zM610 199h6v6h-6zM172 205h12v6h-12zM226 205h6v6h-6zM160 211h12v6h-12zM604 211h6v6h-6zM154 217h6v6h-6zM592 217h12v6h-12zM148 223h6v6h-6zM574 223h12v6h-12zM136 229h12v6h-12zM568 229h6v6h-6zM130 235h12v6h-12zM538 235h36v6h-36zM100 241h36v6h-36zM532 241h6v6h-6zM550 241h12v6h-12zM574 241h6v6h-6zM100 247h24v6h-24zM502 247h30v6h-30zM550 247h6v6h-6zM580 247h6v6h-6zM550 253h6v6h-6zM556 259h6v6h-6zM580 259h6v6h-6zM562 265h12v6h-12zM646 277h6v6h-6zM646 295h6v6h-6zM412 343h6v6h-6zM382 373h6v6h-6zM250 439h6v6h-6zM304 439h24v6h-24zM208 457h6v6h-6zM196 469h6v6h-6zM184 481h6v6h-6zM148 511h6v6h-6zM100 541h24v6h-24z"/>
<path fill="#b3b3b3" d="M466 31h6v6h-6zM502 31h12v6h-12zM466 37h6v6h-6zM502 37h12v6h-12zM466 43h6v6h-6zM502 43h12v6h-12zM466 49h6v6h-6zM502 49h12v6h-12zM460 55h6v6h-6zM514 55h6v6h-6zM454 61h6v6h-6zM520 61h6v6h-6zM526 67h6v6h-6zM532 73h6v6h-6zM442 79h6v6h-6zM532 79h6v6h-6zM538 85h6v6h-6zM418 91h12v6h-12zM538 91h6v6h-6zM538 97h6v6h-6zM334 103h6v6h-6zM538 103h12v6h-12zM328 109h6v6h-6zM550 109h30v6h-30zM580 115h6v6h-6zM322 121h6v6h-6zM490 121h6v6h-6zM508 121h6v6h-6zM508 127h6v6h-6zM484 133h6v6h-6zM508 133h6v6h-6zM592 133h6v6h-6zM598 139h6v6h-6zM502 145h6v6h-6zM604 151h6v6h-6zM478 157h6v6h-6zM496 163h6v6h-6zM610 163h6v6h-6zM610 181h6v6h-6zM292 187h6v6h-6zM610 187h6v6h-6zM184 205h18v6h-18zM214 205h12v6h-12zM604 205h6v6h-6zM172 211h6v6h-6zM598 211h6v6h-6zM160 217h6v6h-6zM586 217h6v6h-6zM154 223h6v6h-6zM568 223h6v6h-6zM148 229h6v6h-6zM544 229h24v6h-24zM142 235h6v6h-6zM532 235h6v6h-6zM136 241h12v6h-12zM514 241h18v6h-18zM562 241h12v6h-12zM124 247h18v6h-18zM496 247h6v6h-6zM556 247h6v6h-6zM100 253h30v6h-30zM484 253h6v6h-6zM556 253h6v6h-6zM580 253h6v6h-6zM670 253h36v6h-36zM478 259h6v6h-6zM562 259h6v6h-6zM574 259h6v6h-6zM664 259h6v6h-6zM658 265h6v6h-6zM652 271h6v6h-6zM646 283h6v6h-6zM646 289h6v6h-6zM652 295h6v6h-6zM658 301h6v6h-6zM448 313h6v6h-6zM394 355h6v6h-6zM388 361h6v6h-6zM376 391h6v6h-6zM340 433h6v6h-6zM190 475h6v6h-6zM166 493h6v6h-6zM142 517h6v6h-6zM136 523h6v6h-6zM130 529h6v6h-6zM124 535h6v6h-6z"/>
<path fill="#b4b4b4" d="M472 31h12v6h-12zM490 31h12v6h-12zM472 37h12v6h-12zM490 37h12v6h-12zM472 43h12v6h-12zM490 43h12v6h-12zM472 49h12v6h-12zM490 49h12v6h-12zM466 55h6v6h-6zM508 55h6v6h-6zM514 61h6v6h-6zM520 67h6v6h-6zM448 73h6v6h-6zM526 73h6v6h-6zM532 85h6v6h-6zM358 91h6v6h-6zM430 91h6v6h-6zM532 91h6v6h-6zM532 97h6v6h-6zM532 103h6v6h-6zM538 109h12v6h-12zM496 115h18v6h-18zM568 115h12v6h-12zM514 121h6v6h-6zM580 121h6v6h-6zM586 127h6v6h-6zM478 151h6v6h-6zM502 151h6v6h-6zM478 163h6v6h-6zM484 169h12v6h-12zM610 169h6v6h-6zM610 175h6v6h-6zM604 199h6v6h-6zM202 205h12v6h-12zM178 211h6v6h-6zM592 211h6v6h-6zM166 217h6v6h-6zM580 217h6v6h-6zM160 223h6v6h-6zM556 223h12v6h-12zM154 229h6v6h-6zM538 229h6v6h-6zM148 235h6v6h-6zM514 235h18v6h-18zM148 241h6v6h-6zM502 241h12v6h-12zM142 247h6v6h-6zM490 247h6v6h-6zM562 247h18v6h-18zM130 253h12v6h-12zM562 253h6v6h-6zM574 253h6v6h-6zM100 259h36v6h-36zM568 259h6v6h-6zM100 265h24v6h-24zM472 265h6v6h-6zM652 277h6v6h-6zM466 289h6v6h-6zM664 301h42v6h-42zM418 337h6v6h-6zM232 445h6v6h-6z"/>
<path fill="#b5b5b5" d="M484 31h6v6h-6zM484 37h6v6h-6zM484 43h6v6h-6zM484 49h6v6h-6zM472 55h6v6h-6zM496 55h12v6h-12zM460 61h6v6h-6zM508 61h6v6h-6zM454 67h6v6h-6zM520 73h6v6h-6zM526 79h6v6h-6zM442 85h6v6h-6zM526 85h6v6h-6zM412 91h6v6h-6zM526 91h6v6h-6zM526 97h6v6h-6zM526 103h6v6h-6zM526 109h12v6h-12zM514 115h54v6h-54zM520 121h6v6h-6zM574 121h6v6h-6zM484 127h6v6h-6zM514 127h6v6h-6zM580 127h6v6h-6zM586 133h6v6h-6zM508 139h6v6h-6zM592 139h6v6h-6zM598 145h6v6h-6zM502 157h6v6h-6zM604 157h6v6h-6zM496 169h6v6h-6zM604 193h6v6h-6zM598 205h6v6h-6zM184 211h12v6h-12zM232 211h18v6h-18zM172 217h6v6h-6zM568 217h12v6h-12zM166 223h6v6h-6zM544 223h12v6h-12zM160 229h6v6h-6zM532 229h6v6h-6zM154 235h6v6h-6zM508 235h6v6h-6zM154 241h6v6h-6zM148 247h6v6h-6zM142 253h12v6h-12zM568 253h6v6h-6zM136 259h12v6h-12zM670 259h36v6h-36zM124 265h12v6h-12zM664 265h6v6h-6zM100 271h24v6h-24zM658 271h6v6h-6zM466 283h6v6h-6zM652 283h6v6h-6zM652 289h6v6h-6zM658 295h6v6h-6zM454 307h6v6h-6zM430 325h6v6h-6zM424 331h6v6h-6zM400 349h6v6h-6zM382 367h6v6h-6zM376 385h6v6h-6zM370 403h6v6h-6zM346 427h6v6h-6zM244 439h6v6h-6zM172 487h6v6h-6z"/>
<path fill="#b6b6b6" d="M478 55h18v6h-18zM502 61h6v6h-6zM514 67h6v6h-6zM448 79h6v6h-6zM520 79h6v6h-6zM520 85h6v6h-6zM436 91h6v6h-6zM346 97h6v6h-6zM520 97h6v6h-6zM520 103h6v6h-6zM502 109h24v6h-24zM328 115h6v6h-6zM490 115h6v6h-6zM526 121h12v6h-12zM562 121h12v6h-12zM322 127h6v6h-6zM520 127h6v6h-6zM514 133h6v6h-6zM316 145h6v6h-6zM478 145h6v6h-6zM502 163h6v6h-6zM298 169h6v6h-6zM478 169h6v6h-6zM604 187h6v6h-6zM286 205h6v6h-6zM196 211h12v6h-12zM226 211h6v6h-6zM586 211h6v6h-6zM178 217h6v6h-6zM562 217h6v6h-6zM172 223h6v6h-6zM538 223h6v6h-6zM166 229h6v6h-6zM514 229h18v6h-18zM160 235h6v6h-6zM502 235h6v6h-6zM496 241h6v6h-6zM154 247h6v6h-6zM484 247h6v6h-6zM154 253h6v6h-6zM478 253h6v6h-6zM148 259h6v6h-6zM136 265h12v6h-12zM124 271h12v6h-12zM100 277h30v6h-30zM466 277h6v6h-6zM460 301h6v6h-6zM436 319h6v6h-6zM376 379h6v6h-6zM364 409h6v6h-6zM358 415h6v6h-6zM352 421h6v6h-6zM268 433h12v6h-12zM214 451h6v6h-6zM100 535h24v6h-24z"/>
<path fill="#b7b7b7" d="M466 61h6v6h-6zM496 61h6v6h-6zM460 67h6v6h-6zM508 67h6v6h-6zM454 73h6v6h-6zM514 73h6v6h-6zM514 79h6v6h-6zM364 91h6v6h-6zM406 91h6v6h-6zM520 91h6v6h-6zM514 103h6v6h-6zM496 109h6v6h-6zM484 121h6v6h-6zM538 121h24v6h-24zM526 127h6v6h-6zM574 127h6v6h-6zM580 133h6v6h-6zM478 139h6v6h-6zM508 145h6v6h-6zM598 151h6v6h-6zM604 163h6v6h-6zM604 169h6v6h-6zM484 175h12v6h-12zM604 181h6v6h-6zM292 193h6v6h-6zM598 199h6v6h-6zM592 205h6v6h-6zM208 211h18v6h-18zM250 211h6v6h-6zM574 211h12v6h-12zM184 217h12v6h-12zM550 217h12v6h-12zM178 223h6v6h-6zM532 223h6v6h-6zM172 229h6v6h-6zM508 229h6v6h-6zM166 235h6v6h-6zM160 241h6v6h-6zM490 241h6v6h-6zM160 247h6v6h-6zM154 259h6v6h-6zM148 265h6v6h-6zM670 265h6v6h-6zM136 271h6v6h-6zM130 277h6v6h-6zM658 277h6v6h-6zM100 283h30v6h-30zM658 283h6v6h-6zM100 289h24v6h-24zM658 289h6v6h-6zM664 295h6v6h-6zM406 343h6v6h-6zM262 433h6v6h-6zM280 433h6v6h-6zM334 433h6v6h-6z"/>
<path fill="#b8b8b8" d="M490 61h6v6h-6zM502 67h6v6h-6zM508 73h6v6h-6zM448 85h6v6h-6zM514 85h6v6h-6zM370 91h6v6h-6zM400 91h6v6h-6zM442 91h6v6h-6zM514 91h6v6h-6zM514 97h6v6h-6zM340 103h6v6h-6zM502 103h12v6h-12zM334 109h6v6h-6zM532 127h12v6h-12zM562 127h12v6h-12zM322 133h6v6h-6zM478 133h6v6h-6zM520 133h6v6h-6zM514 139h6v6h-6zM586 139h6v6h-6zM592 145h6v6h-6zM508 151h6v6h-6zM508 157h6v6h-6zM304 163h6v6h-6zM472 163h6v6h-6zM502 169h6v6h-6zM496 175h6v6h-6zM604 175h6v6h-6zM598 193h6v6h-6zM586 205h6v6h-6zM256 211h6v6h-6zM568 211h6v6h-6zM196 217h6v6h-6zM544 217h6v6h-6zM184 223h6v6h-6zM526 223h6v6h-6zM496 235h6v6h-6zM166 241h6v6h-6zM160 253h6v6h-6zM472 259h6v6h-6zM676 265h30v6h-30zM142 271h6v6h-6zM466 271h6v6h-6zM664 271h6v6h-6zM136 277h6v6h-6zM130 283h6v6h-6zM124 289h6v6h-6zM100 295h24v6h-24zM670 295h36v6h-36zM442 313h6v6h-6zM382 361h6v6h-6zM376 373h6v6h-6zM370 397h6v6h-6zM286 433h6v6h-6zM226 445h6v6h-6zM178 481h6v6h-6zM154 499h6v6h-6zM148 505h6v6h-6z"/>
<path fill="#b9b9b9" d="M472 61h18v6h-18zM496 67h6v6h-6zM460 73h6v6h-6zM502 73h6v6h-6zM454 79h6v6h-6zM508 79h6v6h-6zM508 85h6v6h-6zM376 91h24v6h-24zM508 91h6v6h-6zM424 97h12v6h-12zM508 97h6v6h-6zM496 103h6v6h-6zM490 109h6v6h-6zM484 115h6v6h-6zM478 127h6v6h-6zM544 127h18v6h-18zM526 133h6v6h-6zM574 133h6v6h-6zM520 139h6v6h-6zM514 145h6v6h-6zM310 157h6v6h-6zM472 157h6v6h-6zM598 157h6v6h-6zM508 163h6v6h-6zM472 169h6v6h-6zM478 175h6v6h-6zM502 175h6v6h-6zM592 199h6v6h-6zM262 211h12v6h-12zM562 211h6v6h-6zM202 217h12v6h-12zM232 217h12v6h-12zM538 217h6v6h-6zM190 223h6v6h-6zM514 223h12v6h-12zM178 229h6v6h-6zM502 229h6v6h-6zM172 235h6v6h-6zM484 241h6v6h-6zM166 247h6v6h-6zM478 247h6v6h-6zM160 259h6v6h-6zM154 265h6v6h-6zM148 271h6v6h-6zM670 271h6v6h-6zM142 277h6v6h-6zM664 277h6v6h-6zM136 283h6v6h-6zM130 289h6v6h-6zM664 289h6v6h-6zM124 295h6v6h-6zM100 301h30v6h-30zM100 307h24v6h-24zM412 337h6v6h-6zM388 355h6v6h-6zM340 427h6v6h-6zM256 433h6v6h-6zM292 433h6v6h-6zM328 433h6v6h-6zM238 439h6v6h-6zM160 493h6v6h-6zM142 511h6v6h-6zM130 523h6v6h-6zM124 529h6v6h-6z"/>
<path fill="#bababa" d="M466 67h6v6h-6zM490 67h6v6h-6zM502 79h6v6h-6zM352 97h6v6h-6zM418 97h6v6h-6zM436 97h6v6h-6zM502 97h6v6h-6zM328 121h6v6h-6zM478 121h6v6h-6zM532 133h12v6h-12zM568 133h6v6h-6zM580 139h6v6h-6zM586 145h6v6h-6zM472 151h6v6h-6zM592 151h6v6h-6zM508 169h6v6h-6zM490 181h12v6h-12zM598 187h6v6h-6zM580 205h6v6h-6zM274 211h6v6h-6zM550 211h12v6h-12zM214 217h18v6h-18zM244 217h6v6h-6zM196 223h12v6h-12zM508 223h6v6h-6zM184 229h6v6h-6zM178 235h6v6h-6zM214 235h6v6h-6zM490 235h6v6h-6zM172 241h6v6h-6zM166 253h6v6h-6zM160 265h6v6h-6zM154 271h6v6h-6zM676 271h30v6h-30zM148 277h6v6h-6zM142 283h6v6h-6zM664 283h6v6h-6zM136 289h6v6h-6zM670 289h36v6h-36zM130 295h6v6h-6zM130 301h6v6h-6zM124 307h6v6h-6zM100 313h30v6h-30zM100 319h30v6h-30zM100 325h24v6h-24zM100 331h24v6h-24zM172 337h6v6h-6zM394 349h6v6h-6zM376 367h6v6h-6zM370 391h6v6h-6zM346 421h6v6h-6zM298 433h6v6h-6zM202 457h6v6h-6zM196 463h6v6h-6zM190 469h6v6h-6zM184 475h6v6h-6zM136 517h6v6h-6z"/>
<path fill="#bbbbbb" d="M472 67h18v6h-18zM466 73h6v6h-6zM496 73h6v6h-6zM460 79h6v6h-6zM454 85h6v6h-6zM502 85h6v6h-6zM448 91h6v6h-6zM502 91h6v6h-6zM412 97h6v6h-6zM496 97h6v6h-6zM490 103h6v6h-6zM484 109h6v6h-6zM544 133h24v6h-24zM526 139h6v6h-6zM574 139h6v6h-6zM520 145h6v6h-6zM316 151h6v6h-6zM514 151h6v6h-6zM514 157h6v6h-6zM598 163h6v6h-6zM484 181h6v6h-6zM502 181h6v6h-6zM598 181h6v6h-6zM592 193h6v6h-6zM292 199h6v6h-6zM586 199h6v6h-6zM568 205h12v6h-12zM280 211h6v6h-6zM544 211h6v6h-6zM526 217h12v6h-12zM208 223h6v6h-6zM502 223h6v6h-6zM190 229h18v6h-18zM214 229h6v6h-6zM496 229h6v6h-6zM184 235h6v6h-6zM220 235h6v6h-6zM484 235h6v6h-6zM178 241h6v6h-6zM478 241h6v6h-6zM172 247h6v6h-6zM472 253h6v6h-6zM166 259h6v6h-6zM466 265h6v6h-6zM160 271h6v6h-6zM154 277h6v6h-6zM670 277h36v6h-36zM148 283h6v6h-6zM670 283h6v6h-6zM142 289h6v6h-6zM136 295h6v6h-6zM460 295h6v6h-6zM136 301h6v6h-6zM130 307h6v6h-6zM448 307h6v6h-6zM130 313h6v6h-6zM124 325h6v6h-6zM124 331h6v6h-6zM166 331h12v6h-12zM418 331h6v6h-6zM100 337h30v6h-30zM166 337h6v6h-6zM178 337h6v6h-6zM100 343h24v6h-24zM370 385h6v6h-6zM364 403h6v6h-6zM358 409h6v6h-6zM352 415h6v6h-6zM304 433h6v6h-6zM316 433h12v6h-12zM166 487h6v6h-6zM100 529h24v6h-24z"/>
<path fill="#bcbcbc" d="M490 73h6v6h-6zM496 79h6v6h-6zM496 85h6v6h-6zM496 91h6v6h-6zM442 97h6v6h-6zM490 97h6v6h-6zM334 115h6v6h-6zM478 115h6v6h-6zM322 139h6v6h-6zM532 139h12v6h-12zM472 145h6v6h-6zM514 163h6v6h-6zM598 169h6v6h-6zM472 175h6v6h-6zM508 175h6v6h-6zM598 175h6v6h-6zM478 181h6v6h-6zM556 205h12v6h-12zM538 211h6v6h-6zM514 217h12v6h-12zM214 223h6v6h-6zM232 223h12v6h-12zM208 229h6v6h-6zM490 229h6v6h-6zM190 235h6v6h-6zM202 235h12v6h-12zM214 241h6v6h-6zM172 253h6v6h-6zM166 265h6v6h-6zM154 283h6v6h-6zM676 283h30v6h-30zM148 289h6v6h-6zM142 295h6v6h-6zM136 307h6v6h-6zM136 313h6v6h-6zM130 319h6v6h-6zM430 319h6v6h-6zM130 325h6v6h-6zM172 325h6v6h-6zM424 325h6v6h-6zM130 331h6v6h-6zM178 331h6v6h-6zM124 343h6v6h-6zM166 343h12v6h-12zM400 343h6v6h-6zM100 349h30v6h-30zM100 355h30v6h-30zM100 361h30v6h-30zM370 379h6v6h-6zM250 433h6v6h-6zM310 433h6v6h-6zM220 445h6v6h-6zM208 451h6v6h-6z"/>
<path fill="#bdbdbd" d="M472 73h18v6h-18zM466 79h6v6h-6zM490 79h6v6h-6zM460 85h6v6h-6zM490 85h6v6h-6zM454 91h6v6h-6zM490 91h6v6h-6zM358 97h6v6h-6zM406 97h6v6h-6zM346 103h6v6h-6zM484 103h6v6h-6zM340 109h6v6h-6zM328 127h6v6h-6zM472 133h6v6h-6zM472 139h6v6h-6zM544 139h12v6h-12zM562 139h12v6h-12zM526 145h6v6h-6zM580 145h6v6h-6zM520 151h6v6h-6zM592 157h6v6h-6zM514 169h6v6h-6zM298 175h6v6h-6zM508 181h6v6h-6zM490 187h18v6h-18zM580 199h6v6h-6zM550 205h6v6h-6zM250 217h6v6h-6zM508 217h6v6h-6zM220 223h6v6h-6zM496 223h6v6h-6zM220 229h6v6h-6zM196 235h6v6h-6zM478 235h6v6h-6zM184 241h6v6h-6zM208 241h6v6h-6zM220 241h6v6h-6zM178 247h6v6h-6zM172 259h6v6h-6zM166 271h6v6h-6zM160 277h6v6h-6zM154 289h6v6h-6zM148 295h6v6h-6zM142 301h6v6h-6zM454 301h6v6h-6zM142 307h6v6h-6zM436 313h6v6h-6zM136 319h6v6h-6zM136 325h6v6h-6zM166 325h6v6h-6zM178 325h6v6h-6zM160 331h6v6h-6zM130 337h6v6h-6zM160 337h6v6h-6zM130 343h6v6h-6zM160 343h6v6h-6zM130 349h6v6h-6zM130 355h12v6h-12zM382 355h6v6h-6zM130 361h12v6h-12zM376 361h6v6h-6zM100 367h42v6h-42zM100 373h36v6h-36zM370 373h6v6h-6zM334 427h6v6h-6z"/>
<path fill="#bebebe" d="M472 79h18v6h-18zM466 85h6v6h-6zM484 85h6v6h-6zM448 97h6v6h-6zM484 97h6v6h-6zM424 103h12v6h-12zM478 109h6v6h-6zM472 121h6v6h-6zM472 127h6v6h-6zM556 139h6v6h-6zM532 145h12v6h-12zM526 151h6v6h-6zM586 151h6v6h-6zM520 157h6v6h-6zM466 163h6v6h-6zM466 169h6v6h-6zM514 175h6v6h-6zM514 181h6v6h-6zM484 187h6v6h-6zM508 187h6v6h-6zM592 187h6v6h-6zM586 193h6v6h-6zM574 199h6v6h-6zM544 205h6v6h-6zM514 211h24v6h-24zM502 217h6v6h-6zM232 229h6v6h-6zM484 229h6v6h-6zM190 241h18v6h-18zM184 247h6v6h-6zM214 247h6v6h-6zM472 247h6v6h-6zM178 253h6v6h-6zM172 265h6v6h-6zM166 277h6v6h-6zM160 283h6v6h-6zM460 289h6v6h-6zM154 295h6v6h-6zM148 301h6v6h-6zM148 307h6v6h-6zM142 313h6v6h-6zM142 319h6v6h-6zM166 319h12v6h-12zM142 325h6v6h-6zM160 325h6v6h-6zM136 331h6v6h-6zM154 331h6v6h-6zM136 337h6v6h-6zM154 337h6v6h-6zM136 343h6v6h-6zM154 343h6v6h-6zM178 343h6v6h-6zM136 349h12v6h-12zM154 349h18v6h-18zM142 355h12v6h-12zM142 361h6v6h-6zM142 367h6v6h-6zM136 373h12v6h-12zM100 379h42v6h-42zM124 385h12v6h-12zM364 397h6v6h-6zM340 421h6v6h-6zM232 439h6v6h-6zM172 481h6v6h-6zM124 523h6v6h-6z"/>
<path fill="#bfbfbf" d="M472 85h12v6h-12zM460 91h6v6h-6zM484 91h6v6h-6zM400 97h6v6h-6zM454 97h6v6h-6zM436 103h6v6h-6zM478 103h6v6h-6zM472 115h6v6h-6zM544 145h6v6h-6zM574 145h6v6h-6zM532 151h6v6h-6zM466 157h6v6h-6zM526 157h6v6h-6zM520 163h6v6h-6zM592 163h6v6h-6zM472 181h6v6h-6zM592 181h6v6h-6zM514 187h6v6h-6zM490 193h30v6h-30zM550 199h24v6h-24zM514 205h6v6h-6zM538 205h6v6h-6zM286 211h6v6h-6zM508 211h6v6h-6zM496 217h6v6h-6zM226 223h6v6h-6zM244 223h6v6h-6zM490 223h6v6h-6zM238 229h6v6h-6zM190 247h6v6h-6zM202 247h12v6h-12zM220 247h6v6h-6zM178 259h6v6h-6zM466 259h6v6h-6zM172 271h6v6h-6zM166 283h6v6h-6zM460 283h6v6h-6zM160 289h6v6h-6zM160 295h6v6h-6zM154 301h6v6h-6zM154 307h6v6h-6zM442 307h6v6h-6zM148 313h18v6h-18zM148 319h18v6h-18zM178 319h6v6h-6zM148 325h12v6h-12zM142 331h12v6h-12zM184 331h6v6h-6zM142 337h12v6h-12zM184 337h6v6h-6zM406 337h6v6h-6zM142 343h12v6h-12zM148 349h6v6h-6zM172 349h6v6h-6zM388 349h6v6h-6zM154 355h12v6h-12zM148 361h12v6h-12zM148 367h6v6h-6zM370 367h6v6h-6zM148 373h6v6h-6zM142 379h6v6h-6zM100 385h24v6h-24zM136 385h12v6h-12zM130 391h6v6h-6zM364 391h6v6h-6zM358 403h6v6h-6zM352 409h6v6h-6zM346 415h6v6h-6zM244 433h6v6h-6zM154 493h6v6h-6zM148 499h6v6h-6zM142 505h6v6h-6z"/>
<path fill="#c0c0c0" d="M466 91h18v6h-18zM394 97h6v6h-6zM460 97h6v6h-6zM478 97h6v6h-6zM418 103h6v6h-6zM442 103h6v6h-6zM472 109h6v6h-6zM334 121h6v6h-6zM322 145h6v6h-6zM550 145h24v6h-24zM466 151h6v6h-6zM538 151h6v6h-6zM580 151h6v6h-6zM310 163h6v6h-6zM526 163h6v6h-6zM304 169h6v6h-6zM520 169h6v6h-6zM466 175h6v6h-6zM520 175h6v6h-6zM520 181h6v6h-6zM478 187h6v6h-6zM520 187h6v6h-6zM484 193h6v6h-6zM520 193h6v6h-6zM580 193h6v6h-6zM496 199h30v6h-30zM538 199h12v6h-12zM292 205h6v6h-6zM502 205h12v6h-12zM520 205h18v6h-18zM502 211h6v6h-6zM478 229h6v6h-6zM226 241h6v6h-6zM472 241h6v6h-6zM196 247h6v6h-6zM184 253h6v6h-6zM178 265h6v6h-6zM172 277h6v6h-6zM460 277h6v6h-6zM166 289h6v6h-6zM166 295h6v6h-6zM160 301h6v6h-6zM160 307h12v6h-12zM166 313h12v6h-12zM184 325h6v6h-6zM166 355h6v6h-6zM154 367h6v6h-6zM148 379h6v6h-6zM148 385h6v6h-6zM364 385h6v6h-6zM100 391h30v6h-30zM136 391h12v6h-12zM268 427h24v6h-24zM328 427h6v6h-6zM214 445h6v6h-6zM178 475h6v6h-6zM136 511h6v6h-6zM130 517h6v6h-6z"/>
<path fill="#c1c1c1" d="M364 97h6v6h-6zM388 97h6v6h-6zM466 97h12v6h-12zM352 103h6v6h-6zM412 103h6v6h-6zM448 103h12v6h-12zM472 103h6v6h-6zM328 133h6v6h-6zM544 151h6v6h-6zM532 157h6v6h-6zM586 157h6v6h-6zM526 169h6v6h-6zM592 169h6v6h-6zM526 175h6v6h-6zM592 175h6v6h-6zM526 181h6v6h-6zM526 187h6v6h-6zM586 187h6v6h-6zM526 193h36v6h-36zM574 193h6v6h-6zM490 199h6v6h-6zM526 199h12v6h-12zM496 205h6v6h-6zM496 211h6v6h-6zM256 217h6v6h-6zM490 217h6v6h-6zM484 223h6v6h-6zM226 235h6v6h-6zM472 235h6v6h-6zM190 253h30v6h-30zM184 259h6v6h-6zM178 271h6v6h-6zM460 271h6v6h-6zM172 283h6v6h-6zM172 289h6v6h-6zM166 301h12v6h-12zM172 307h6v6h-6zM178 313h6v6h-6zM184 319h6v6h-6zM412 331h6v6h-6zM394 343h6v6h-6zM376 355h6v6h-6zM160 361h6v6h-6zM370 361h6v6h-6zM154 373h6v6h-6zM364 379h6v6h-6zM148 391h6v6h-6zM100 397h48v6h-48zM358 397h6v6h-6zM262 427h6v6h-6zM196 457h6v6h-6zM190 463h6v6h-6zM184 469h6v6h-6zM160 487h6v6h-6zM100 523h24v6h-24z"/>
<path fill="#c2c2c2" d="M382 97h6v6h-6zM460 103h12v6h-12zM466 109h6v6h-6zM340 115h6v6h-6zM466 115h6v6h-6zM466 121h6v6h-6zM466 127h6v6h-6zM466 133h6v6h-6zM466 139h6v6h-6zM466 145h6v6h-6zM550 151h6v6h-6zM574 151h6v6h-6zM316 157h6v6h-6zM538 157h6v6h-6zM532 163h6v6h-6zM532 169h6v6h-6zM532 175h6v6h-6zM532 181h6v6h-6zM472 187h6v6h-6zM532 187h24v6h-24zM478 193h6v6h-6zM562 193h12v6h-12zM478 199h12v6h-12zM490 205h6v6h-6zM490 211h6v6h-6zM472 229h6v6h-6zM232 235h6v6h-6zM226 247h6v6h-6zM220 253h6v6h-6zM466 253h6v6h-6zM190 259h6v6h-6zM184 265h6v6h-6zM178 277h6v6h-6zM178 283h6v6h-6zM172 295h6v6h-6zM448 301h6v6h-6zM178 307h6v6h-6zM424 319h6v6h-6zM190 325h6v6h-6zM418 325h6v6h-6zM190 331h6v6h-6zM184 343h6v6h-6zM178 349h6v6h-6zM172 355h6v6h-6zM160 367h6v6h-6zM364 373h6v6h-6zM154 379h6v6h-6zM154 385h6v6h-6zM352 403h6v6h-6zM346 409h6v6h-6zM340 415h6v6h-6zM334 421h6v6h-6zM292 427h6v6h-6zM322 427h6v6h-6zM238 433h6v6h-6zM226 439h6v6h-6zM202 451h6v6h-6z"/>
<path fill="#c3c3c3" d="M370 97h12v6h-12zM346 109h6v6h-6zM430 109h36v6h-36zM556 151h18v6h-18zM544 157h6v6h-6zM538 163h6v6h-6zM538 169h6v6h-6zM538 175h6v6h-6zM466 181h6v6h-6zM538 181h12v6h-12zM586 181h6v6h-6zM556 187h6v6h-6zM472 193h6v6h-6zM472 199h6v6h-6zM472 205h18v6h-18zM484 211h6v6h-6zM262 217h6v6h-6zM484 217h6v6h-6zM478 223h6v6h-6zM238 235h6v6h-6zM232 241h6v6h-6zM196 259h24v6h-24zM190 265h6v6h-6zM184 271h6v6h-6zM184 277h6v6h-6zM178 289h6v6h-6zM178 295h6v6h-6zM454 295h6v6h-6zM178 301h6v6h-6zM184 307h6v6h-6zM184 313h6v6h-6zM430 313h6v6h-6zM190 319h6v6h-6zM190 337h6v6h-6zM382 349h6v6h-6zM166 361h6v6h-6zM364 367h6v6h-6zM160 373h6v6h-6zM154 391h6v6h-6zM358 391h6v6h-6zM148 397h6v6h-6zM100 403h48v6h-48zM256 427h6v6h-6zM298 427h6v6h-6zM316 427h6v6h-6zM166 481h6v6h-6z"/>
<path fill="#c4c4c4" d="M406 103h6v6h-6zM424 109h6v6h-6zM460 115h6v6h-6zM460 121h6v6h-6zM334 127h6v6h-6zM550 157h6v6h-6zM580 157h6v6h-6zM460 163h6v6h-6zM544 163h6v6h-6zM586 163h6v6h-6zM460 169h6v6h-6zM544 169h6v6h-6zM544 175h6v6h-6zM298 181h6v6h-6zM550 181h6v6h-6zM562 187h6v6h-6zM580 187h6v6h-6zM466 205h6v6h-6zM472 211h12v6h-12zM268 217h6v6h-6zM478 217h6v6h-6zM250 223h6v6h-6zM472 223h6v6h-6zM226 229h6v6h-6zM244 229h6v6h-6zM466 247h6v6h-6zM226 253h6v6h-6zM220 259h6v6h-6zM196 265h18v6h-18zM460 265h6v6h-6zM190 271h6v6h-6zM190 277h6v6h-6zM184 283h6v6h-6zM184 289h6v6h-6zM184 295h6v6h-6zM184 301h6v6h-6zM190 307h6v6h-6zM436 307h6v6h-6zM190 313h6v6h-6zM196 325h6v6h-6zM400 337h6v6h-6zM166 367h6v6h-6zM160 379h6v6h-6zM358 385h6v6h-6zM154 397h6v6h-6zM352 397h6v6h-6zM148 403h6v6h-6zM304 427h12v6h-12z"/>
<path fill="#c5c5c5" d="M400 103h6v6h-6zM418 109h6v6h-6zM454 115h6v6h-6zM460 127h6v6h-6zM328 139h6v6h-6zM322 151h6v6h-6zM460 157h6v6h-6zM556 157h6v6h-6zM550 163h6v6h-6zM550 169h6v6h-6zM586 169h6v6h-6zM460 175h6v6h-6zM550 175h6v6h-6zM586 175h6v6h-6zM556 181h6v6h-6zM466 187h6v6h-6zM568 187h12v6h-12zM466 199h6v6h-6zM466 211h6v6h-6zM274 217h6v6h-6zM472 217h6v6h-6zM232 247h6v6h-6zM214 265h6v6h-6zM196 271h18v6h-18zM196 277h12v6h-12zM190 283h18v6h-18zM190 289h18v6h-18zM190 295h24v6h-24zM190 301h30v6h-30zM196 307h30v6h-30zM196 313h30v6h-30zM196 319h24v6h-24zM202 325h6v6h-6zM196 331h6v6h-6zM370 355h6v6h-6zM172 361h6v6h-6zM364 361h6v6h-6zM358 379h6v6h-6zM160 385h6v6h-6zM160 391h6v6h-6zM346 403h6v6h-6zM100 409h42v6h-42zM340 409h6v6h-6zM328 421h6v6h-6zM250 427h6v6h-6zM220 439h6v6h-6zM208 445h6v6h-6zM172 475h6v6h-6zM148 493h6v6h-6zM142 499h6v6h-6zM124 517h6v6h-6z"/>
<path fill="#c6c6c6" d="M358 103h6v6h-6zM442 115h12v6h-12zM340 121h6v6h-6zM460 133h6v6h-6zM460 139h6v6h-6zM460 145h6v6h-6zM460 151h6v6h-6zM562 157h6v6h-6zM574 157h6v6h-6zM556 163h6v6h-6zM556 169h6v6h-6zM556 175h6v6h-6zM562 181h6v6h-6zM580 181h6v6h-6zM466 193h6v6h-6zM466 217h6v6h-6zM466 235h6v6h-6zM466 241h6v6h-6zM226 259h6v6h-6zM220 265h6v6h-6zM214 271h6v6h-6zM208 277h12v6h-12zM208 283h12v6h-12zM208 289h12v6h-12zM454 289h6v6h-6zM214 295h6v6h-6zM220 301h6v6h-6zM226 313h6v6h-6zM220 319h6v6h-6zM208 325h6v6h-6zM202 331h6v6h-6zM196 337h6v6h-6zM190 343h6v6h-6zM388 343h6v6h-6zM184 349h6v6h-6zM178 355h6v6h-6zM166 373h6v6h-6zM358 373h6v6h-6zM352 391h6v6h-6zM160 397h6v6h-6zM154 403h6v6h-6zM142 409h6v6h-6zM334 415h6v6h-6zM232 433h6v6h-6zM154 487h6v6h-6zM136 505h6v6h-6zM130 511h6v6h-6z"/>
<path fill="#c7c7c7" d="M394 103h6v6h-6zM412 109h6v6h-6zM430 115h12v6h-12zM454 121h6v6h-6zM568 157h6v6h-6zM580 163h6v6h-6zM562 175h6v6h-6zM460 181h6v6h-6zM568 181h6v6h-6zM292 211h6v6h-6zM280 217h6v6h-6zM466 223h6v6h-6zM466 229h6v6h-6zM238 241h6v6h-6zM460 259h6v6h-6zM220 271h6v6h-6zM220 289h6v6h-6zM220 295h6v6h-6zM226 301h6v6h-6zM442 301h6v6h-6zM226 307h6v6h-6zM214 325h6v6h-6zM406 331h6v6h-6zM376 349h6v6h-6zM172 367h6v6h-6zM358 367h6v6h-6zM166 379h6v6h-6zM166 385h6v6h-6zM352 385h6v6h-6zM346 397h6v6h-6zM340 403h6v6h-6zM148 409h6v6h-6zM244 427h6v6h-6zM178 469h6v6h-6zM100 517h24v6h-24z"/>
<path fill="#c8c8c8" d="M388 103h6v6h-6zM352 109h6v6h-6zM346 115h6v6h-6zM424 115h6v6h-6zM448 121h6v6h-6zM454 127h6v6h-6zM562 163h6v6h-6zM310 169h6v6h-6zM562 169h6v6h-6zM304 175h6v6h-6zM574 181h6v6h-6zM244 235h6v6h-6zM232 253h6v6h-6zM226 265h6v6h-6zM220 277h6v6h-6zM220 283h6v6h-6zM454 283h6v6h-6zM226 295h6v6h-6zM226 319h6v6h-6zM220 325h6v6h-6zM412 325h6v6h-6zM208 331h6v6h-6zM166 391h6v6h-6zM160 403h6v6h-6zM154 409h6v6h-6zM100 415h42v6h-42zM274 421h18v6h-18zM322 421h6v6h-6zM196 451h6v6h-6zM190 457h6v6h-6zM184 463h6v6h-6zM160 481h6v6h-6z"/>
<path fill="#c9c9c9" d="M406 109h6v6h-6zM418 115h6v6h-6zM442 121h6v6h-6zM334 133h6v6h-6zM454 133h6v6h-6zM316 163h6v6h-6zM568 163h6v6h-6zM580 169h6v6h-6zM568 175h6v6h-6zM580 175h6v6h-6zM460 187h6v6h-6zM460 193h6v6h-6zM460 199h6v6h-6zM460 205h6v6h-6zM460 211h6v6h-6zM256 223h6v6h-6zM232 259h6v6h-6zM226 271h6v6h-6zM226 277h6v6h-6zM226 283h6v6h-6zM226 289h6v6h-6zM448 295h6v6h-6zM424 313h6v6h-6zM418 319h6v6h-6zM214 331h6v6h-6zM202 337h6v6h-6zM394 337h6v6h-6zM196 343h6v6h-6zM364 355h6v6h-6zM178 361h6v6h-6zM172 373h6v6h-6zM352 379h6v6h-6zM346 391h6v6h-6zM166 397h6v6h-6zM340 397h6v6h-6zM334 409h6v6h-6zM142 415h6v6h-6zM268 421h6v6h-6zM292 421h6v6h-6zM214 439h6v6h-6z"/>
<path fill="#cacaca" d="M364 103h6v6h-6zM382 103h6v6h-6zM436 121h6v6h-6zM448 127h6v6h-6zM454 139h6v6h-6zM328 145h6v6h-6zM574 163h6v6h-6zM298 199h6v6h-6zM460 217h6v6h-6zM250 229h6v6h-6zM238 247h6v6h-6zM460 253h6v6h-6zM454 277h6v6h-6zM232 301h6v6h-6zM232 307h6v6h-6zM430 307h6v6h-6zM232 313h6v6h-6zM226 325h6v6h-6zM220 331h6v6h-6zM208 337h6v6h-6zM382 343h6v6h-6zM190 349h6v6h-6zM370 349h6v6h-6zM184 355h6v6h-6zM358 361h6v6h-6zM352 373h6v6h-6zM172 379h6v6h-6zM346 385h6v6h-6zM334 403h6v6h-6zM148 415h6v6h-6zM328 415h6v6h-6zM100 421h36v6h-36zM262 421h6v6h-6zM298 421h6v6h-6zM316 421h6v6h-6zM238 427h6v6h-6zM226 433h6v6h-6zM202 445h6v6h-6zM166 475h6v6h-6zM142 493h6v6h-6zM124 511h6v6h-6z"/>
<path fill="#cbcbcb" d="M400 109h6v6h-6zM412 115h6v6h-6zM430 121h6v6h-6zM340 127h6v6h-6zM454 145h6v6h-6zM454 151h6v6h-6zM322 157h6v6h-6zM454 157h6v6h-6zM454 163h6v6h-6zM568 169h6v6h-6zM574 175h6v6h-6zM298 193h6v6h-6zM286 217h6v6h-6zM460 223h6v6h-6zM232 265h6v6h-6zM454 271h6v6h-6zM232 289h6v6h-6zM232 295h6v6h-6zM436 301h6v6h-6zM232 319h6v6h-6zM214 337h6v6h-6zM178 367h6v6h-6zM352 367h6v6h-6zM172 385h6v6h-6zM340 391h6v6h-6zM166 403h6v6h-6zM160 409h6v6h-6zM154 415h6v6h-6zM136 421h6v6h-6zM256 421h6v6h-6zM304 421h12v6h-12zM148 487h6v6h-6zM136 499h6v6h-6zM130 505h6v6h-6z"/>
<path fill="#cccccc" d="M370 103h12v6h-12zM358 109h6v6h-6zM394 109h6v6h-6zM346 121h6v6h-6zM424 121h6v6h-6zM442 127h6v6h-6zM448 133h6v6h-6zM454 169h6v6h-6zM574 169h6v6h-6zM298 205h6v6h-6zM460 229h6v6h-6zM460 235h6v6h-6zM244 241h6v6h-6zM460 241h6v6h-6zM460 247h6v6h-6zM238 253h6v6h-6zM232 271h6v6h-6zM232 277h6v6h-6zM232 283h6v6h-6zM226 331h6v6h-6zM400 331h6v6h-6zM202 343h6v6h-6zM346 379h6v6h-6zM172 391h6v6h-6zM334 397h6v6h-6zM142 421h6v6h-6zM220 433h6v6h-6zM208 439h6v6h-6zM172 469h6v6h-6zM154 481h6v6h-6zM100 511h24v6h-24z"/>
<path fill="#cdcdcd" d="M352 115h6v6h-6zM406 115h6v6h-6zM418 121h6v6h-6zM436 127h6v6h-6zM334 139h6v6h-6zM454 175h6v6h-6zM454 181h6v6h-6zM298 187h6v6h-6zM238 259h6v6h-6zM454 265h6v6h-6zM448 289h6v6h-6zM442 295h6v6h-6zM232 325h6v6h-6zM220 337h6v6h-6zM388 337h6v6h-6zM208 343h6v6h-6zM376 343h6v6h-6zM196 349h6v6h-6zM358 355h6v6h-6zM184 361h6v6h-6zM178 373h6v6h-6zM346 373h6v6h-6zM178 379h6v6h-6zM340 385h6v6h-6zM172 397h6v6h-6zM166 409h6v6h-6zM328 409h6v6h-6zM160 415h6v6h-6zM322 415h6v6h-6zM148 421h6v6h-6zM250 421h6v6h-6zM100 427h36v6h-36zM232 427h6v6h-6zM184 457h6v6h-6zM178 463h6v6h-6z"/>
<path fill="#cecece" d="M388 109h6v6h-6zM412 121h6v6h-6zM430 127h6v6h-6zM442 133h6v6h-6zM448 139h6v6h-6zM454 187h6v6h-6zM262 223h6v6h-6zM238 265h6v6h-6zM238 295h6v6h-6zM238 301h6v6h-6zM238 307h6v6h-6zM238 313h6v6h-6zM406 325h6v6h-6zM214 343h6v6h-6zM364 349h6v6h-6zM352 361h6v6h-6zM178 385h6v6h-6zM334 391h6v6h-6zM172 403h6v6h-6zM286 415h6v6h-6zM154 421h6v6h-6zM136 427h12v6h-12zM190 451h6v6h-6zM160 475h6v6h-6z"/>
<path fill="#cfcfcf" d="M400 115h6v6h-6zM424 127h6v6h-6zM340 133h6v6h-6zM448 145h6v6h-6zM328 151h6v6h-6zM454 193h6v6h-6zM454 199h6v6h-6zM454 205h6v6h-6zM250 235h6v6h-6zM244 247h6v6h-6zM454 259h6v6h-6zM238 271h6v6h-6zM238 277h6v6h-6zM238 283h6v6h-6zM238 289h6v6h-6zM424 307h6v6h-6zM418 313h6v6h-6zM238 319h6v6h-6zM412 319h6v6h-6zM232 331h6v6h-6zM226 337h6v6h-6zM202 349h6v6h-6zM190 355h6v6h-6zM184 367h6v6h-6zM346 367h6v6h-6zM340 379h6v6h-6zM178 391h6v6h-6zM328 403h6v6h-6zM274 415h12v6h-12zM292 415h6v6h-6zM244 421h6v6h-6zM148 427h6v6h-6zM214 433h6v6h-6zM196 445h6v6h-6zM166 469h6v6h-6zM142 487h6v6h-6zM136 493h6v6h-6zM130 499h6v6h-6zM124 505h6v6h-6z"/>
<path fill="#d0d0d0" d="M364 109h6v6h-6zM382 109h6v6h-6zM352 121h6v6h-6zM406 121h6v6h-6zM346 127h6v6h-6zM418 127h6v6h-6zM436 133h6v6h-6zM442 139h6v6h-6zM448 151h6v6h-6zM316 169h6v6h-6zM310 175h6v6h-6zM454 211h6v6h-6zM454 217h6v6h-6zM268 223h6v6h-6zM448 283h6v6h-6zM430 301h6v6h-6zM394 331h6v6h-6zM220 343h6v6h-6zM208 349h6v6h-6zM184 373h6v6h-6zM340 373h6v6h-6zM334 385h6v6h-6zM178 397h6v6h-6zM172 409h6v6h-6zM166 415h6v6h-6zM268 415h6v6h-6zM298 415h6v6h-6zM316 415h6v6h-6zM160 421h6v6h-6zM226 427h6v6h-6zM100 433h36v6h-36zM202 439h6v6h-6zM148 481h6v6h-6zM100 505h24v6h-24z"/>
<path fill="#d1d1d1" d="M358 115h6v6h-6zM394 115h6v6h-6zM412 127h6v6h-6zM430 133h6v6h-6zM448 157h6v6h-6zM322 163h6v6h-6zM304 181h6v6h-6zM292 217h6v6h-6zM274 223h6v6h-6zM454 223h6v6h-6zM256 229h6v6h-6zM244 253h6v6h-6zM454 253h6v6h-6zM436 295h6v6h-6zM238 325h6v6h-6zM382 337h6v6h-6zM370 343h6v6h-6zM214 349h6v6h-6zM358 349h6v6h-6zM196 355h6v6h-6zM352 355h6v6h-6zM346 361h6v6h-6zM184 379h6v6h-6zM328 397h6v6h-6zM178 403h6v6h-6zM322 409h6v6h-6zM262 415h6v6h-6zM304 415h12v6h-12zM238 421h6v6h-6zM154 427h6v6h-6zM136 433h12v6h-12zM208 433h6v6h-6zM178 457h6v6h-6zM172 463h6v6h-6zM154 475h6v6h-6z"/>
<path fill="#d2d2d2" d="M370 109h12v6h-12zM388 115h6v6h-6zM400 121h6v6h-6zM424 133h6v6h-6zM436 139h6v6h-6zM334 145h6v6h-6zM442 145h6v6h-6zM448 163h6v6h-6zM298 211h6v6h-6zM454 229h6v6h-6zM244 259h6v6h-6zM448 277h6v6h-6zM244 289h6v6h-6zM442 289h6v6h-6zM244 295h6v6h-6zM244 301h6v6h-6zM244 307h6v6h-6zM232 337h6v6h-6zM226 343h6v6h-6zM190 361h6v6h-6zM340 367h6v6h-6zM334 379h6v6h-6zM184 385h6v6h-6zM184 391h6v6h-6zM328 391h6v6h-6zM172 415h6v6h-6zM166 421h6v6h-6zM160 427h6v6h-6zM220 427h6v6h-6zM148 433h6v6h-6zM100 439h30v6h-30zM184 451h6v6h-6zM160 469h6v6h-6zM136 487h6v6h-6zM130 493h6v6h-6z"/>
<path fill="#d3d3d3" d="M406 127h6v6h-6zM418 133h6v6h-6zM340 139h6v6h-6zM328 157h6v6h-6zM448 169h6v6h-6zM448 181h6v6h-6zM280 223h6v6h-6zM454 235h6v6h-6zM250 241h6v6h-6zM454 241h6v6h-6zM454 247h6v6h-6zM244 265h6v6h-6zM244 271h6v6h-6zM244 277h6v6h-6zM244 283h6v6h-6zM244 313h6v6h-6zM400 325h6v6h-6zM238 331h6v6h-6zM220 349h6v6h-6zM202 355h6v6h-6zM190 367h6v6h-6zM334 373h6v6h-6zM328 385h6v6h-6zM184 397h6v6h-6zM178 409h6v6h-6zM286 409h6v6h-6zM256 415h6v6h-6zM232 421h6v6h-6zM154 433h6v6h-6zM130 439h12v6h-12zM196 439h6v6h-6zM190 445h6v6h-6zM148 475h6v6h-6zM142 481h6v6h-6zM124 499h6v6h-6z"/>
<path fill="#d4d4d4" d="M364 115h6v6h-6zM382 115h6v6h-6zM358 121h6v6h-6zM394 121h6v6h-6zM352 127h6v6h-6zM400 127h6v6h-6zM346 133h6v6h-6zM412 133h6v6h-6zM424 139h12v6h-12zM436 145h6v6h-6zM442 151h6v6h-6zM448 175h6v6h-6zM448 187h6v6h-6zM448 193h6v6h-6zM448 271h6v6h-6zM244 319h6v6h-6zM376 337h6v6h-6zM364 343h6v6h-6zM352 349h6v6h-6zM208 355h12v6h-12zM346 355h6v6h-6zM196 361h6v6h-6zM340 361h6v6h-6zM334 367h6v6h-6zM190 373h6v6h-6zM190 379h6v6h-6zM328 379h6v6h-6zM184 403h6v6h-6zM322 403h6v6h-6zM280 409h6v6h-6zM292 409h6v6h-6zM178 415h6v6h-6zM250 415h6v6h-6zM172 421h6v6h-6zM166 427h6v6h-6zM214 427h6v6h-6zM160 433h6v6h-6zM202 433h6v6h-6zM142 439h12v6h-12zM172 457h6v6h-6zM166 463h6v6h-6zM154 469h6v6h-6zM100 499h24v6h-24z"/>
<path fill="#d5d5d5" d="M370 115h12v6h-12zM388 121h6v6h-6zM406 133h6v6h-6zM418 139h6v6h-6zM442 157h6v6h-6zM448 199h6v6h-6zM448 205h6v6h-6zM250 247h6v6h-6zM448 265h6v6h-6zM442 283h6v6h-6zM424 301h6v6h-6zM418 307h6v6h-6zM412 313h6v6h-6zM406 319h6v6h-6zM244 325h6v6h-6zM388 331h6v6h-6zM232 343h6v6h-6zM226 349h6v6h-6zM220 355h6v6h-6zM328 373h6v6h-6zM190 385h6v6h-6zM190 391h6v6h-6zM190 397h6v6h-6zM322 397h6v6h-6zM184 409h6v6h-6zM274 409h6v6h-6zM298 409h6v6h-6zM316 409h6v6h-6zM244 415h6v6h-6zM226 421h6v6h-6zM208 427h6v6h-6zM154 439h6v6h-6zM100 445h42v6h-42zM184 445h6v6h-6zM178 451h6v6h-6zM160 463h6v6h-6zM136 481h6v6h-6zM130 487h6v6h-6zM124 493h6v6h-6z"/>
<path fill="#d6d6d6" d="M394 127h6v6h-6zM400 133h6v6h-6zM406 139h12v6h-12zM430 145h6v6h-6zM436 151h6v6h-6zM316 175h6v6h-6zM448 211h6v6h-6zM448 217h6v6h-6zM448 223h6v6h-6zM256 235h6v6h-6zM250 253h6v6h-6zM250 289h6v6h-6zM436 289h6v6h-6zM250 295h6v6h-6zM430 295h6v6h-6zM250 301h6v6h-6zM238 337h6v6h-6zM358 343h6v6h-6zM340 355h6v6h-6zM202 361h12v6h-12zM334 361h6v6h-6zM196 367h6v6h-6zM328 367h6v6h-6zM322 391h6v6h-6zM190 403h6v6h-6zM184 415h6v6h-6zM178 421h6v6h-6zM220 421h6v6h-6zM172 427h6v6h-6zM166 433h6v6h-6zM196 433h6v6h-6zM160 439h6v6h-6zM190 439h6v6h-6zM142 445h12v6h-12zM172 451h6v6h-6zM166 457h6v6h-6zM148 469h6v6h-6zM142 475h6v6h-6zM100 493h24v6h-24z"/>
<path fill="#d7d7d7" d="M364 121h6v6h-6zM382 121h6v6h-6zM358 127h6v6h-6zM388 127h6v6h-6zM352 133h6v6h-6zM412 145h18v6h-18zM334 151h6v6h-6zM442 163h6v6h-6zM322 169h6v6h-6zM310 181h6v6h-6zM304 199h6v6h-6zM286 223h6v6h-6zM262 229h6v6h-6zM448 229h6v6h-6zM250 259h6v6h-6zM448 259h6v6h-6zM250 265h6v6h-6zM250 271h6v6h-6zM250 277h6v6h-6zM250 283h6v6h-6zM250 307h6v6h-6zM250 313h6v6h-6zM370 337h6v6h-6zM346 349h6v6h-6zM226 355h6v6h-6zM214 361h6v6h-6zM202 367h6v6h-6zM196 373h6v6h-6zM322 373h6v6h-6zM196 379h6v6h-6zM322 379h6v6h-6zM196 385h6v6h-6zM322 385h6v6h-6zM286 403h12v6h-12zM190 409h6v6h-6zM268 409h6v6h-6zM304 409h12v6h-12zM238 415h6v6h-6zM184 421h6v6h-6zM214 421h6v6h-6zM178 427h6v6h-6zM202 427h6v6h-6zM172 433h6v6h-6zM166 439h6v6h-6zM184 439h6v6h-6zM154 445h12v6h-12zM172 445h12v6h-12zM100 451h54v6h-54zM166 451h6v6h-6zM160 457h6v6h-6zM148 463h12v6h-12zM142 469h6v6h-6zM136 475h6v6h-6zM130 481h6v6h-6zM124 487h6v6h-6z"/>
<path fill="#d8d8d8" d="M370 121h12v6h-12zM394 133h6v6h-6zM346 139h6v6h-6zM400 139h6v6h-6zM340 145h6v6h-6zM406 145h6v6h-6zM430 151h6v6h-6zM436 157h6v6h-6zM442 169h6v6h-6zM442 181h6v6h-6zM304 187h6v6h-6zM442 187h6v6h-6zM304 193h6v6h-6zM304 205h6v6h-6zM448 253h6v6h-6zM442 277h6v6h-6zM394 325h6v6h-6zM244 331h6v6h-6zM382 331h6v6h-6zM232 349h6v6h-6zM334 355h6v6h-6zM220 361h6v6h-6zM328 361h6v6h-6zM322 367h6v6h-6zM196 391h6v6h-6zM196 397h6v6h-6zM196 403h6v6h-6zM298 403h6v6h-6zM316 403h6v6h-6zM196 409h6v6h-6zM262 409h6v6h-6zM190 415h6v6h-6zM226 415h12v6h-12zM190 421h6v6h-6zM202 421h12v6h-12zM184 427h18v6h-18zM178 433h18v6h-18zM172 439h12v6h-12zM166 445h6v6h-6zM154 451h12v6h-12zM142 457h18v6h-18zM142 463h6v6h-6zM100 487h24v6h-24z"/>
<path fill="#d9d9d9" d="M364 127h6v6h-6zM376 127h12v6h-12zM388 133h6v6h-6zM394 139h6v6h-6zM418 151h12v6h-12zM430 157h6v6h-6zM328 163h6v6h-6zM436 163h6v6h-6zM442 175h6v6h-6zM442 193h6v6h-6zM298 217h6v6h-6zM448 235h6v6h-6zM256 241h6v6h-6zM250 319h6v6h-6zM238 343h6v6h-6zM352 343h6v6h-6zM340 349h6v6h-6zM328 355h6v6h-6zM316 361h12v6h-12zM208 367h6v6h-6zM316 367h6v6h-6zM202 373h6v6h-6zM316 373h6v6h-6zM202 379h6v6h-6zM316 379h6v6h-6zM280 403h6v6h-6zM256 409h6v6h-6zM196 415h12v6h-12zM220 415h6v6h-6zM196 421h6v6h-6zM100 457h42v6h-42zM136 463h6v6h-6zM136 469h6v6h-6zM130 475h6v6h-6zM124 481h6v6h-6z"/>
<path fill="#dadada" d="M370 127h6v6h-6zM358 133h6v6h-6zM382 133h6v6h-6zM400 145h6v6h-6zM406 151h12v6h-12zM424 157h6v6h-6zM442 199h6v6h-6zM268 229h6v6h-6zM448 241h6v6h-6zM448 247h6v6h-6zM442 271h6v6h-6zM256 283h6v6h-6zM436 283h6v6h-6zM256 289h6v6h-6zM430 289h6v6h-6zM256 295h6v6h-6zM424 295h6v6h-6zM418 301h6v6h-6zM412 307h6v6h-6zM400 319h6v6h-6zM250 325h6v6h-6zM244 337h6v6h-6zM364 337h6v6h-6zM346 343h6v6h-6zM334 349h6v6h-6zM232 355h6v6h-6zM310 355h18v6h-18zM226 361h6v6h-6zM304 361h12v6h-12zM214 367h6v6h-6zM304 367h12v6h-12zM208 373h6v6h-6zM310 373h6v6h-6zM202 385h6v6h-6zM316 385h6v6h-6zM202 391h6v6h-6zM316 391h6v6h-6zM202 397h6v6h-6zM292 397h12v6h-12zM316 397h6v6h-6zM202 403h6v6h-6zM274 403h6v6h-6zM202 409h6v6h-6zM250 409h6v6h-6zM208 415h12v6h-12zM100 463h36v6h-36zM130 469h6v6h-6zM124 475h6v6h-6zM100 481h24v6h-24z"/>
<path fill="#dbdbdb" d="M364 133h18v6h-18zM352 139h6v6h-6zM388 139h6v6h-6zM334 157h6v6h-6zM418 157h6v6h-6zM430 163h6v6h-6zM436 169h6v6h-6zM436 175h6v6h-6zM436 181h6v6h-6zM436 187h6v6h-6zM442 205h6v6h-6zM304 211h6v6h-6zM442 211h6v6h-6zM442 217h6v6h-6zM442 223h6v6h-6zM274 229h6v6h-6zM256 247h6v6h-6zM442 265h6v6h-6zM256 271h6v6h-6zM256 277h6v6h-6zM256 301h6v6h-6zM256 307h6v6h-6zM406 313h6v6h-6zM376 331h6v6h-6zM328 349h6v6h-6zM304 355h6v6h-6zM298 361h6v6h-6zM220 367h6v6h-6zM304 373h6v6h-6zM208 379h6v6h-6zM310 379h6v6h-6zM310 385h6v6h-6zM286 397h6v6h-6zM208 403h6v6h-6zM304 403h12v6h-12zM208 409h12v6h-12zM232 409h18v6h-18zM100 469h30v6h-30zM100 475h24v6h-24z"/>
<path fill="#dcdcdc" d="M382 139h6v6h-6zM394 145h6v6h-6zM400 151h6v6h-6zM412 157h6v6h-6zM418 163h12v6h-12zM430 169h6v6h-6zM322 175h6v6h-6zM316 181h6v6h-6zM436 193h6v6h-6zM292 223h6v6h-6zM442 229h6v6h-6zM262 235h6v6h-6zM256 253h6v6h-6zM256 259h6v6h-6zM256 265h6v6h-6zM436 277h6v6h-6zM256 313h6v6h-6zM388 325h6v6h-6zM250 331h6v6h-6zM358 337h6v6h-6zM340 343h6v6h-6zM238 349h6v6h-6zM304 349h24v6h-24zM298 355h6v6h-6zM298 367h6v6h-6zM214 373h6v6h-6zM298 373h6v6h-6zM304 379h6v6h-6zM208 385h6v6h-6zM304 385h6v6h-6zM208 391h6v6h-6zM292 391h12v6h-12zM310 391h6v6h-6zM208 397h6v6h-6zM280 397h6v6h-6zM304 397h6v6h-6zM214 403h6v6h-6zM268 403h6v6h-6zM220 409h12v6h-12z"/>
<path fill="#dddddd" d="M358 139h24v6h-24zM346 145h6v6h-6zM388 145h6v6h-6zM340 151h6v6h-6zM406 157h6v6h-6zM412 163h6v6h-6zM424 169h6v6h-6zM430 175h6v6h-6zM430 181h6v6h-6zM310 187h6v6h-6zM436 199h6v6h-6zM280 229h6v6h-6zM442 235h6v6h-6zM442 259h6v6h-6zM430 283h6v6h-6zM424 289h6v6h-6zM256 319h6v6h-6zM352 337h6v6h-6zM244 343h6v6h-6zM334 343h6v6h-6zM298 349h6v6h-6zM232 361h6v6h-6zM226 367h6v6h-6zM214 379h6v6h-6zM298 379h6v6h-6zM298 385h6v6h-6zM286 391h6v6h-6zM304 391h6v6h-6zM214 397h6v6h-6zM310 397h6v6h-6zM220 403h6v6h-6z"/>
<path fill="#dedede" d="M394 151h6v6h-6zM328 169h6v6h-6zM418 169h6v6h-6zM424 175h6v6h-6zM424 181h6v6h-6zM430 187h6v6h-6zM442 253h6v6h-6zM436 271h6v6h-6zM262 283h6v6h-6zM262 289h6v6h-6zM262 295h6v6h-6zM418 295h6v6h-6zM262 301h6v6h-6zM412 301h6v6h-6zM394 319h6v6h-6zM256 325h6v6h-6zM370 331h6v6h-6zM250 337h6v6h-6zM346 337h6v6h-6zM310 343h24v6h-24zM238 355h6v6h-6zM292 355h6v6h-6zM292 361h6v6h-6zM292 367h6v6h-6zM220 373h6v6h-6zM292 373h6v6h-6zM292 379h6v6h-6zM214 385h6v6h-6zM292 385h6v6h-6zM214 391h6v6h-6zM226 403h6v6h-6zM262 403h6v6h-6z"/>
<path fill="#dfdfdf" d="M352 145h6v6h-6zM382 145h6v6h-6zM400 157h6v6h-6zM406 163h6v6h-6zM412 169h6v6h-6zM418 175h6v6h-6zM418 181h6v6h-6zM424 187h6v6h-6zM310 193h6v6h-6zM430 193h6v6h-6zM436 205h6v6h-6zM436 211h6v6h-6zM436 217h6v6h-6zM436 223h6v6h-6zM436 229h6v6h-6zM262 241h6v6h-6zM442 241h6v6h-6zM442 247h6v6h-6zM262 271h6v6h-6zM262 277h6v6h-6zM262 307h6v6h-6zM406 307h6v6h-6zM382 325h6v6h-6zM340 337h6v6h-6zM304 343h6v6h-6zM292 349h6v6h-6zM220 379h6v6h-6zM286 385h6v6h-6zM220 391h6v6h-6zM280 391h6v6h-6zM220 397h6v6h-6zM274 397h6v6h-6zM232 403h30v6h-30z"/>
<path fill="#e0e0e0" d="M370 145h12v6h-12zM388 151h6v6h-6zM334 163h6v6h-6zM412 175h6v6h-6zM316 187h6v6h-6zM418 187h6v6h-6zM424 193h6v6h-6zM310 199h6v6h-6zM430 199h6v6h-6zM268 235h6v6h-6zM262 247h6v6h-6zM262 259h6v6h-6zM262 265h6v6h-6zM436 265h6v6h-6zM430 277h6v6h-6zM424 283h6v6h-6zM262 313h6v6h-6zM400 313h6v6h-6zM256 331h6v6h-6zM364 331h6v6h-6zM328 337h12v6h-12zM298 343h6v6h-6zM244 349h6v6h-6zM232 367h6v6h-6zM226 373h6v6h-6zM220 385h6v6h-6zM226 397h6v6h-6z"/>
<path fill="#e1e1e1" d="M358 145h12v6h-12zM346 151h6v6h-6zM394 157h6v6h-6zM400 163h6v6h-6zM406 169h6v6h-6zM322 181h6v6h-6zM412 181h6v6h-6zM412 187h6v6h-6zM418 193h6v6h-6zM424 199h6v6h-6zM310 205h6v6h-6zM430 205h6v6h-6zM430 211h6v6h-6zM304 217h6v6h-6zM430 217h6v6h-6zM430 223h6v6h-6zM286 229h6v6h-6zM436 235h6v6h-6zM262 253h6v6h-6zM436 259h6v6h-6zM430 271h6v6h-6zM268 283h6v6h-6zM268 289h6v6h-6zM418 289h6v6h-6zM268 295h6v6h-6zM262 319h6v6h-6zM262 325h6v6h-6zM358 331h6v6h-6zM304 337h24v6h-24zM250 343h6v6h-6zM292 343h6v6h-6zM286 355h6v6h-6zM238 361h6v6h-6zM286 361h6v6h-6zM286 367h6v6h-6zM286 373h6v6h-6zM226 379h6v6h-6zM286 379h6v6h-6zM226 391h6v6h-6zM232 397h6v6h-6zM268 397h6v6h-6z"/>
<path fill="#e2e2e2" d="M340 157h6v6h-6zM328 175h6v6h-6zM406 175h6v6h-6zM406 181h6v6h-6zM412 193h6v6h-6zM418 199h6v6h-6zM424 205h6v6h-6zM424 211h6v6h-6zM424 217h6v6h-6zM298 223h6v6h-6zM424 223h6v6h-6zM430 229h6v6h-6zM274 235h6v6h-6zM436 241h6v6h-6zM436 253h6v6h-6zM268 277h6v6h-6zM412 295h6v6h-6zM268 301h6v6h-6zM268 307h6v6h-6zM388 319h6v6h-6zM376 325h6v6h-6zM262 331h6v6h-6zM346 331h12v6h-12zM256 337h6v6h-6zM298 337h6v6h-6zM286 349h6v6h-6zM244 355h6v6h-6zM226 385h6v6h-6zM280 385h6v6h-6zM274 391h6v6h-6zM238 397h6v6h-6zM262 397h6v6h-6z"/>
<path fill="#e3e3e3" d="M382 151h6v6h-6zM400 169h6v6h-6zM406 187h6v6h-6zM316 193h6v6h-6zM412 199h6v6h-6zM418 205h6v6h-6zM418 211h6v6h-6zM418 217h6v6h-6zM418 223h6v6h-6zM424 229h6v6h-6zM430 235h6v6h-6zM268 241h6v6h-6zM436 247h6v6h-6zM430 265h6v6h-6zM268 271h6v6h-6zM424 277h6v6h-6zM418 283h6v6h-6zM406 301h6v6h-6zM268 313h6v6h-6zM394 313h6v6h-6zM268 319h6v6h-6zM310 331h36v6h-36zM292 337h6v6h-6zM286 343h6v6h-6zM250 349h6v6h-6zM232 373h6v6h-6zM280 379h6v6h-6zM232 391h6v6h-6zM244 397h6v6h-6zM256 397h6v6h-6z"/>
<path fill="#e4e4e4" d="M352 151h6v6h-6zM376 151h6v6h-6zM388 157h6v6h-6zM394 163h6v6h-6zM334 169h6v6h-6zM322 187h6v6h-6zM406 193h6v6h-6zM412 205h6v6h-6zM310 211h6v6h-6zM412 211h6v6h-6zM412 217h6v6h-6zM412 223h6v6h-6zM412 229h12v6h-12zM424 235h6v6h-6zM430 241h6v6h-6zM268 259h6v6h-6zM430 259h6v6h-6zM268 265h6v6h-6zM424 271h6v6h-6zM274 283h6v6h-6zM274 289h6v6h-6zM412 289h6v6h-6zM274 295h6v6h-6zM274 301h6v6h-6zM400 307h6v6h-6zM268 325h6v6h-6zM370 325h6v6h-6zM268 331h6v6h-6zM298 331h12v6h-12zM262 337h6v6h-6zM286 337h6v6h-6zM256 343h6v6h-6zM280 349h6v6h-6zM280 355h6v6h-6zM280 361h6v6h-6zM238 367h6v6h-6zM280 367h6v6h-6zM280 373h6v6h-6zM232 379h6v6h-6zM232 385h6v6h-6zM274 385h6v6h-6zM268 391h6v6h-6zM250 397h6v6h-6z"/>
<path fill="#e5e5e5" d="M370 151h6v6h-6zM400 175h6v6h-6zM400 181h6v6h-6zM406 199h6v6h-6zM406 223h6v6h-6zM406 229h6v6h-6zM280 235h6v6h-6zM412 235h12v6h-12zM268 247h6v6h-6zM430 247h6v6h-6zM268 253h6v6h-6zM430 253h6v6h-6zM274 277h6v6h-6zM418 277h6v6h-6zM406 295h6v6h-6zM274 307h6v6h-6zM274 313h6v6h-6zM274 319h6v6h-6zM382 319h6v6h-6zM274 325h6v6h-6zM274 331h24v6h-24zM268 337h18v6h-18zM280 343h6v6h-6zM244 361h6v6h-6zM238 391h6v6h-6z"/>
<path fill="#e6e6e6" d="M358 151h12v6h-12zM346 157h6v6h-6zM340 163h6v6h-6zM394 169h6v6h-6zM328 181h6v6h-6zM400 187h6v6h-6zM316 199h6v6h-6zM406 205h6v6h-6zM406 211h6v6h-6zM406 217h6v6h-6zM292 229h6v6h-6zM406 235h6v6h-6zM274 241h6v6h-6zM418 241h12v6h-12zM424 265h6v6h-6zM274 271h6v6h-6zM412 283h6v6h-6zM280 319h6v6h-6zM280 325h90v6h-90zM262 343h18v6h-18zM256 349h6v6h-6zM250 355h6v6h-6zM238 373h6v6h-6zM274 379h6v6h-6zM238 385h6v6h-6zM244 391h6v6h-6zM262 391h6v6h-6z"/>
<path fill="#e7e7e7" d="M382 157h6v6h-6zM388 163h6v6h-6zM400 193h6v6h-6zM400 229h6v6h-6zM412 241h6v6h-6zM424 247h6v6h-6zM424 253h6v6h-6zM424 259h6v6h-6zM274 265h6v6h-6zM418 271h6v6h-6zM280 277h6v6h-6zM412 277h6v6h-6zM280 283h6v6h-6zM280 289h6v6h-6zM406 289h6v6h-6zM280 295h6v6h-6zM280 301h6v6h-6zM400 301h6v6h-6zM280 307h6v6h-6zM394 307h6v6h-6zM280 313h6v6h-6zM388 313h6v6h-6zM286 319h6v6h-6zM274 349h6v6h-6zM274 355h6v6h-6zM244 367h6v6h-6zM274 367h6v6h-6zM274 373h6v6h-6zM238 379h6v6h-6zM268 385h6v6h-6zM250 391h12v6h-12z"/>
<path fill="#e8e8e8" d="M334 175h6v6h-6zM394 175h6v6h-6zM322 193h6v6h-6zM316 205h6v6h-6zM310 217h6v6h-6zM400 217h6v6h-6zM304 223h6v6h-6zM400 223h6v6h-6zM286 235h6v6h-6zM400 235h6v6h-6zM406 241h6v6h-6zM274 247h6v6h-6zM412 247h12v6h-12zM418 253h6v6h-6zM274 259h6v6h-6zM418 259h6v6h-6zM418 265h6v6h-6zM280 271h6v6h-6zM412 271h6v6h-6zM406 283h6v6h-6zM286 307h6v6h-6zM286 313h6v6h-6zM292 319h24v6h-24zM376 319h6v6h-6zM262 349h12v6h-12zM250 361h6v6h-6zM274 361h6v6h-6zM268 379h6v6h-6zM244 385h6v6h-6zM262 385h6v6h-6z"/>
<path fill="#e9e9e9" d="M376 157h6v6h-6zM400 199h6v6h-6zM400 205h6v6h-6zM400 211h6v6h-6zM280 241h6v6h-6zM274 253h6v6h-6zM412 253h6v6h-6zM412 265h6v6h-6zM286 277h6v6h-6zM406 277h6v6h-6zM286 283h6v6h-6zM286 289h6v6h-6zM286 295h6v6h-6zM400 295h6v6h-6zM286 301h6v6h-6zM292 313h6v6h-6zM382 313h6v6h-6zM316 319h30v6h-30zM256 355h6v6h-6zM268 355h6v6h-6zM244 373h6v6h-6zM244 379h6v6h-6zM250 385h12v6h-12z"/>
<path fill="#eaeaea" d="M352 157h6v6h-6zM340 169h6v6h-6zM388 169h6v6h-6zM394 181h6v6h-6zM328 187h6v6h-6zM316 211h6v6h-6zM400 241h6v6h-6zM406 247h6v6h-6zM412 259h6v6h-6zM280 265h6v6h-6zM286 271h6v6h-6zM406 271h6v6h-6zM400 289h6v6h-6zM292 301h6v6h-6zM394 301h6v6h-6zM292 307h6v6h-6zM388 307h6v6h-6zM298 313h12v6h-12zM346 319h12v6h-12zM370 319h6v6h-6zM262 355h6v6h-6zM256 361h6v6h-6zM268 361h6v6h-6zM250 367h6v6h-6zM268 367h6v6h-6zM268 373h6v6h-6zM262 379h6v6h-6z"/>
<path fill="#ebebeb" d="M370 157h6v6h-6zM346 163h6v6h-6zM382 163h6v6h-6zM394 187h6v6h-6zM322 199h6v6h-6zM298 229h6v6h-6zM394 229h6v6h-6zM280 247h6v6h-6zM406 253h6v6h-6zM280 259h6v6h-6zM406 259h6v6h-6zM406 265h6v6h-6zM292 277h6v6h-6zM400 277h6v6h-6zM292 283h6v6h-6zM400 283h6v6h-6zM292 289h6v6h-6zM292 295h6v6h-6zM394 295h6v6h-6zM298 307h6v6h-6zM310 313h24v6h-24zM358 319h12v6h-12zM262 361h6v6h-6zM256 367h12v6h-12zM250 373h6v6h-6zM262 373h6v6h-6zM250 379h12v6h-12z"/>
<path fill="#ececec" d="M358 157h12v6h-12zM334 181h6v6h-6zM394 193h6v6h-6zM394 217h6v6h-6zM310 223h6v6h-6zM394 223h6v6h-6zM292 235h6v6h-6zM394 235h6v6h-6zM400 247h6v6h-6zM280 253h6v6h-6zM286 265h6v6h-6zM400 271h6v6h-6zM394 289h6v6h-6zM298 301h6v6h-6zM388 301h6v6h-6zM304 307h6v6h-6zM334 313h12v6h-12zM376 313h6v6h-6zM256 373h6v6h-6z"/>
<path fill="#ededed" d="M388 175h6v6h-6zM328 193h6v6h-6zM394 199h6v6h-6zM322 205h6v6h-6zM394 205h6v6h-6zM394 211h6v6h-6zM316 217h6v6h-6zM286 241h6v6h-6zM400 253h6v6h-6zM400 259h6v6h-6zM400 265h6v6h-6zM292 271h6v6h-6zM394 277h6v6h-6zM394 283h6v6h-6zM298 289h6v6h-6zM298 295h6v6h-6zM304 301h6v6h-6zM310 307h18v6h-18zM382 307h6v6h-6zM346 313h6v6h-6z"/>
<path fill="#eeeeee" d="M376 163h6v6h-6zM382 169h6v6h-6zM340 175h6v6h-6zM388 181h6v6h-6zM304 229h6v6h-6zM394 241h6v6h-6zM286 247h6v6h-6zM286 259h6v6h-6zM292 265h6v6h-6zM394 265h6v6h-6zM394 271h6v6h-6zM298 277h6v6h-6zM298 283h6v6h-6zM304 295h6v6h-6zM388 295h6v6h-6zM310 301h6v6h-6zM328 307h12v6h-12zM352 313h12v6h-12zM370 313h6v6h-6z"/>
<path fill="#efefef" d="M352 163h6v6h-6zM334 187h6v6h-6zM388 229h6v6h-6zM394 247h6v6h-6zM286 253h6v6h-6zM394 253h6v6h-6zM394 259h6v6h-6zM298 271h6v6h-6zM388 277h6v6h-6zM388 283h6v6h-6zM388 289h6v6h-6zM316 301h6v6h-6zM382 301h6v6h-6zM340 307h12v6h-12zM376 307h6v6h-6zM364 313h6v6h-6z"/>
<path fill="#f0f0f0" d="M346 169h6v6h-6zM388 187h6v6h-6zM328 199h6v6h-6zM322 211h6v6h-6zM316 223h6v6h-6zM388 223h6v6h-6zM298 235h6v6h-6zM388 235h6v6h-6zM292 241h6v6h-6zM292 259h6v6h-6zM388 265h6v6h-6zM388 271h6v6h-6zM382 283h6v6h-6zM304 289h6v6h-6zM382 289h6v6h-6zM310 295h6v6h-6zM382 295h6v6h-6zM322 301h18v6h-18zM376 301h6v6h-6zM352 307h6v6h-6zM370 307h6v6h-6z"/>
<path fill="#f1f1f1" d="M370 163h6v6h-6zM382 175h6v6h-6zM340 181h6v6h-6zM388 193h6v6h-6zM322 217h6v6h-6zM388 217h6v6h-6zM310 229h6v6h-6zM388 241h6v6h-6zM292 253h6v6h-6zM388 253h6v6h-6zM388 259h6v6h-6zM298 265h6v6h-6zM382 265h6v6h-6zM382 271h6v6h-6zM382 277h6v6h-6zM304 283h6v6h-6zM316 295h6v6h-6zM376 295h6v6h-6zM340 301h12v6h-12zM358 307h12v6h-12z"/>
<path fill="#f2f2f2" d="M358 163h12v6h-12zM376 169h6v6h-6zM334 193h6v6h-6zM388 199h6v6h-6zM388 205h6v6h-6zM388 211h6v6h-6zM316 229h6v6h-6zM292 247h6v6h-6zM388 247h6v6h-6zM382 259h6v6h-6zM376 265h6v6h-6zM370 271h12v6h-12zM304 277h6v6h-6zM370 277h12v6h-12zM370 283h12v6h-12zM310 289h6v6h-6zM370 289h12v6h-12zM322 295h30v6h-30zM370 295h6v6h-6zM352 301h24v6h-24z"/>
<path fill="#f3f3f3" d="M346 175h6v6h-6zM382 181h6v6h-6zM328 205h6v6h-6zM322 223h6v6h-6zM382 229h6v6h-6zM304 235h6v6h-6zM382 235h6v6h-6zM298 241h6v6h-6zM382 241h6v6h-6zM382 247h6v6h-6zM376 253h12v6h-12zM298 259h6v6h-6zM370 259h12v6h-12zM364 265h12v6h-12zM304 271h6v6h-6zM358 271h12v6h-12zM358 277h12v6h-12zM310 283h6v6h-6zM352 283h18v6h-18zM316 289h6v6h-6zM340 289h30v6h-30zM352 295h18v6h-18z"/>
<path fill="#f4f4f4" d="M352 169h6v6h-6zM340 187h6v6h-6zM382 223h6v6h-6zM322 229h6v6h-6zM310 235h6v6h-6zM376 241h6v6h-6zM298 247h6v6h-6zM370 247h12v6h-12zM298 253h6v6h-6zM364 253h12v6h-12zM358 259h12v6h-12zM358 265h6v6h-6zM352 271h6v6h-6zM346 277h12v6h-12zM340 283h12v6h-12zM322 289h18v6h-18z"/>
<path fill="#f5f5f5" d="M376 175h6v6h-6zM382 187h6v6h-6zM334 199h6v6h-6zM328 211h6v6h-6zM382 217h6v6h-6zM328 229h6v6h-6zM376 229h6v6h-6zM316 235h6v6h-6zM376 235h6v6h-6zM304 241h6v6h-6zM370 241h6v6h-6zM358 247h12v6h-12zM358 253h6v6h-6zM352 259h6v6h-6zM304 265h6v6h-6zM352 265h6v6h-6zM346 271h6v6h-6zM310 277h6v6h-6zM340 277h6v6h-6zM334 283h6v6h-6z"/>
<path fill="#f6f6f6" d="M358 169h6v6h-6zM370 169h6v6h-6zM346 181h6v6h-6zM340 193h6v6h-6zM382 193h6v6h-6zM382 211h6v6h-6zM328 217h6v6h-6zM328 223h6v6h-6zM322 235h12v6h-12zM370 235h6v6h-6zM364 241h6v6h-6zM352 253h6v6h-6zM304 259h6v6h-6zM346 265h6v6h-6zM340 271h6v6h-6zM334 277h6v6h-6zM316 283h18v6h-18z"/>
<path fill="#f7f7f7" d="M352 175h6v6h-6zM376 181h6v6h-6zM382 199h6v6h-6zM334 205h6v6h-6zM382 205h6v6h-6zM376 223h6v6h-6zM370 229h6v6h-6zM364 235h6v6h-6zM310 241h6v6h-6zM358 241h6v6h-6zM304 247h6v6h-6zM352 247h6v6h-6zM304 253h6v6h-6zM346 253h6v6h-6zM346 259h6v6h-6zM340 265h6v6h-6zM310 271h6v6h-6z"/>
<path fill="#f8f8f8" d="M364 169h6v6h-6zM346 187h6v6h-6zM334 235h6v6h-6zM316 241h18v6h-18zM352 241h6v6h-6zM346 247h6v6h-6zM310 265h6v6h-6zM334 271h6v6h-6zM316 277h6v6h-6zM328 277h6v6h-6z"/>
<path fill="#f9f9f9" d="M370 175h6v6h-6zM376 187h6v6h-6zM340 199h6v6h-6zM334 211h6v6h-6zM376 217h6v6h-6zM370 223h6v6h-6zM334 229h6v6h-6zM364 229h6v6h-6zM358 235h6v6h-6zM334 241h6v6h-6zM346 241h6v6h-6zM310 247h6v6h-6zM340 247h6v6h-6zM310 253h6v6h-6zM340 253h6v6h-6zM310 259h6v6h-6zM340 259h6v6h-6zM322 277h6v6h-6z"/>
<path fill="#fafafa" d="M358 175h12v6h-12zM352 181h6v6h-6zM370 181h6v6h-6zM346 193h6v6h-6zM376 193h6v6h-6zM340 241h6v6h-6zM316 247h24v6h-24zM334 265h6v6h-6zM316 271h6v6h-6zM328 271h6v6h-6z"/>
<path fill="#fbfbfb" d="M352 187h6v6h-6zM376 199h6v6h-6zM340 205h6v6h-6zM376 205h6v6h-6zM376 211h6v6h-6zM334 217h6v6h-6zM334 223h6v6h-6zM364 223h6v6h-6zM358 229h6v6h-6zM340 235h6v6h-6zM352 235h6v6h-6zM316 253h6v6h-6zM334 253h6v6h-6zM334 259h6v6h-6zM316 265h6v6h-6z"/>
<path fill="#fcfcfc" d="M358 181h12v6h-12zM370 187h6v6h-6zM346 199h6v6h-6zM340 211h6v6h-6zM370 217h6v6h-6zM346 235h6v6h-6zM322 253h12v6h-12zM316 259h6v6h-6zM328 259h6v6h-6zM328 265h6v6h-6zM322 271h6v6h-6z"/>
<path fill="#fdfdfd" d="M358 187h12v6h-12zM352 193h6v6h-6zM370 193h6v6h-6zM346 205h6v6h-6zM370 211h6v6h-6zM364 217h6v6h-6zM358 223h6v6h-6zM352 229h6v6h-6zM322 259h6v6h-6zM322 265h6v6h-6z"/>
<path fill="#fefefe" d="M358 193h12v6h-12zM352 199h6v6h-6zM370 199h6v6h-6zM370 205h6v6h-6zM346 211h6v6h-6zM340 217h6v6h-6zM358 217h6v6h-6zM352 223h6v6h-6zM340 229h12v6h-12z"/>
<path fill="#ffffff" d="M358 199h12v6h-12zM352 205h18v6h-18zM352 211h18v6h-18zM346 217h12v6h-12zM340 223h12v6h-12z"/>
</g>
<path fill="#fff" fill-rule="evenodd" shape-rendering="crispEdges" d="M120 50L357 50L357 59L351.5 59L351.5 61L346 61L346 64L341 64L341 68L336.5 68L336.5 77.5L320.5 77.5L320.5 82L315 82L315 86.5L310 86.5L310 91.5L300 91.5L300 97L289.5 97L289.5 105.5L304 105.5L304 152.5L298.8 152.5L298.8 166L293.8 166L293.8 181.2L289.4 181.2L289.4 200L286.5 200L286.5 209L284.5 209L284.5 215L281.5 215L281.5 219.5L276 219.5L276 222.5L262 222.5L262 225L236 225L236 227.5L221 227.5L221 231L215.5 231L215.5 233.5L210 233.5L210 238L205 238L205 243L200 243L200 247L194.5 247L194.5 252L189.5 252L189.5 262L184.5 262L184.5 271L179 271L179 280L173.5 280L173.5 285L168 285L168 290L163 290L163 299L158 299L158 304L147 304L147 313L144.5 313L144.5 320L147 320L147 329L153 329L153 337L147 337L147 357L153 357L153 369L147 369L147 379L142 379L142 403L137 403L137 431L142 431L142 450L137 450L137 458.8L132 458.8L132 463.8L120 463.8zM283 78V97H295.5V78z"/>
</g>
<path d="M194.5 59.2V563M265.5 59.2V563M336.5 59.2V563M407.5 59.2V563M477.5 59.2V563M548.5 59.2V563M619.5 59.2V563M130 530.5H674M130 445.5H674M130 360.5H674M130 276.5H674M130 191.5H674M130 106.5H674" stroke="#b0b0b0" stroke-width="1" stroke-dasharray="1.8 4.8" fill="none"/>
<g clip-path="url(#pc)"><path d="M351 55L347.5 56.2L341.2 61.2L335 66.2L326.2 72.5L317.5 78.1L310 83.1L301.2 88.8L295 93.1L288.8 100L282.5 105.6L280.6 108.8L281.9 112.5L285 116.2L290 111.2L295 115.6L301.2 113.1L300 121.2L301.9 128.8L302.5 133.8L301.2 141.2L298.1 147.5L296.2 152.5L293.8 155L289.4 154.4L283.1 155L285 161.2L288.1 164.4L292.5 166.9L289.4 170.6L287.5 175L287.5 191.2L285 197.5L283.8 207.5L282.5 213.8L280 218.1L275 221.2L260 222.5L250 225L231.2 225.6L222.5 226.2L212.5 227.5L207.5 232.5L201.2 237.5L194.4 241.2L190 241.9L192.5 246.2L188.8 250L186.2 251.9L183.8 258.1L180 263.8L175 273.8L166.2 280L158.8 287.5L155 293.8L151.9 300L151.2 303.1L145 305L143.1 307.5L142.2 313.8L145 321.2L147.5 329.4L142.5 335L145 338.8L146.2 352.5L147.8 357L147.5 362.5L145 370L141.9 380L138.8 387.5L135.6 393.8L135.6 403.1L136.9 405L133.1 412.5L135 418.8L135.6 430L138.8 436.2L137.5 442.5L132.5 450L127.5 456.2L124 461M190.6 188.8L192.5 191.2L200 191.2L206.2 193.8L211.2 198.1L205 200.6L200.6 206.9L201.9 216.2L208.8 218.8L216.2 220.6L215 226.2L206.2 228.8L197.5 231.9L191.2 234.4L194.4 241.2M190.6 188.8L188.1 191.9L180 197.5L176.2 205L178.8 212.5L185 218.1L186.9 225L185 231.9L175 234.4L170 236.9L167.5 242.5L165.6 250L167.5 251.9L173.8 251.2L178.8 246.2L182.5 241.2L190 241.9M175 251.9L167.5 256.2L161.9 262.5L160.6 272.5L159.4 281.2L163.8 275L175 265L183.8 258.1M124 146.6L130 148L135 149.1L147.6 151.6L157.6 152.4L165.2 151.1L162.2 145.4L171.4 136.6L182.7 142.8L187.8 142.8L192.8 136.6L202.8 131.6L215.4 127.8L222.9 121.5L237.9 116.5L246.2 118.1L252.5 116.2L258.8 118.8L268.8 122.5L277.5 125.6L282.5 130L288.1 136.2L290 142.5L290 150L289.4 154.4M284.4 55L283.1 65L281.2 73.8L278.8 77.5L278.8 90L280.6 97.5L289.4 97.5L291.2 95.6M291.2 55L291.9 65L293.1 71.2L297.5 77.5L298.1 85L300 88.1L301.2 88.8M315 76.9L311.9 73.8L309.4 71.9L311.2 66.2L315 63.1L321.2 61.2L325 65.6L328.1 60L328.8 56.2L331.2 56.9L330.6 60.6L328.1 60M124 404.4L135.6 403.1M180.5 245.5L184 243.3L188.5 243.8L190.3 247L187.3 250.5" stroke="#000" stroke-width="3" fill="none" stroke-linejoin="round" stroke-linecap="round"/></g>
<rect x="124" y="55" width="551" height="509" fill="none" stroke="#000" stroke-width="2"/>
<path d="M124 565v2.5M194.5 565v2.5M265.5 565v2.5M336.5 565v2.5M407.5 565v2.5M477.5 565v2.5M548.5 565v2.5M619.5 565v2.5M123 530.5h-4.2M123 445.5h-4.2M123 360.5h-4.2M123 276.5h-4.2M123 191.5h-4.2M123 106.5h-4.2" stroke="#000" stroke-width="1" fill="none"/>
<text x="124" y="580.3" font-size="12" stroke="#fff" stroke-width="0.15" text-anchor="middle">28.5</text>
<text x="194.5" y="580.3" font-size="12" stroke="#fff" stroke-width="0.15" text-anchor="middle">29</text>
<text x="265.5" y="580.3" font-size="12" stroke="#fff" stroke-width="0.15" text-anchor="middle">29.5</text>
<text x="336.5" y="580.3" font-size="12" stroke="#fff" stroke-width="0.15" text-anchor="middle">30</text>
<text x="407.5" y="580.3" font-size="12" stroke="#fff" stroke-width="0.15" text-anchor="middle">30.5</text>
<text x="477.5" y="580.3" font-size="12" stroke="#fff" stroke-width="0.15" text-anchor="middle">31</text>
<text x="548.5" y="580.3" font-size="12" stroke="#fff" stroke-width="0.15" text-anchor="middle">31.5</text>
<text x="619.5" y="580.3" font-size="12" stroke="#fff" stroke-width="0.15" text-anchor="middle">32</text>
<text x="116.8" y="534.9" font-size="12" stroke="#fff" stroke-width="0.15" text-anchor="end">43</text>
<text x="116.8" y="449.9" font-size="12" stroke="#fff" stroke-width="0.15" text-anchor="end">43.5</text>
<text x="116.8" y="364.9" font-size="12" stroke="#fff" stroke-width="0.15" text-anchor="end">44</text>
<text x="116.8" y="280.9" font-size="12" stroke="#fff" stroke-width="0.15" text-anchor="end">44.5</text>
<text x="116.8" y="195.9" font-size="12" stroke="#fff" stroke-width="0.15" text-anchor="end">45</text>
<text x="116.8" y="110.9" font-size="12" stroke="#fff" stroke-width="0.15" text-anchor="end">45.5</text>
<rect x="708" y="550.88" width="16" height="6.22" fill="#00008f" shape-rendering="crispEdges"/>
<rect x="708" y="544.75" width="16" height="6.22" fill="#00009f" shape-rendering="crispEdges"/>
<rect x="708" y="538.63" width="16" height="6.22" fill="#00009f" shape-rendering="crispEdges"/>
<rect x="708" y="532.51" width="16" height="6.22" fill="#0000af" shape-rendering="crispEdges"/>
<rect x="708" y="526.38" width="16" height="6.22" fill="#0000bf" shape-rendering="crispEdges"/>
<rect x="708" y="520.26" width="16" height="6.22" fill="#0000cf" shape-rendering="crispEdges"/>
<rect x="708" y="514.14" width="16" height="6.22" fill="#0000df" shape-rendering="crispEdges"/>
<rect x="708" y="508.01" width="16" height="6.22" fill="#0000df" shape-rendering="crispEdges"/>
<rect x="708" y="501.89" width="16" height="6.22" fill="#0000ef" shape-rendering="crispEdges"/>
<rect x="708" y="495.77" width="16" height="6.22" fill="#0000ff" shape-rendering="crispEdges"/>
<rect x="708" y="489.64" width="16" height="6.22" fill="#0010ff" shape-rendering="crispEdges"/>
<rect x="708" y="483.52" width="16" height="6.22" fill="#0020ff" shape-rendering="crispEdges"/>
<rect x="708" y="477.40" width="16" height="6.22" fill="#0020ff" shape-rendering="crispEdges"/>
<rect x="708" y="471.27" width="16" height="6.22" fill="#0030ff" shape-rendering="crispEdges"/>
<rect x="708" y="465.15" width="16" height="6.22" fill="#0040ff" shape-rendering="crispEdges"/>
<rect x="708" y="459.02" width="16" height="6.22" fill="#0050ff" shape-rendering="crispEdges"/>
<rect x="708" y="452.90" width="16" height="6.22" fill="#0060ff" shape-rendering="crispEdges"/>
<rect x="708" y="446.78" width="16" height="6.22" fill="#0060ff" shape-rendering="crispEdges"/>
<rect x="708" y="440.65" width="16" height="6.22" fill="#0070ff" shape-rendering="crispEdges"/>
<rect x="708" y="434.53" width="16" height="6.22" fill="#0080ff" shape-rendering="crispEdges"/>
<rect x="708" y="428.41" width="16" height="6.22" fill="#008fff" shape-rendering="crispEdges"/>
<rect x="708" y="422.28" width="16" height="6.22" fill="#008fff" shape-rendering="crispEdges"/>
<rect x="708" y="416.16" width="16" height="6.22" fill="#009fff" shape-rendering="crispEdges"/>
<rect x="708" y="410.04" width="16" height="6.22" fill="#00afff" shape-rendering="crispEdges"/>
<rect x="708" y="403.91" width="16" height="6.22" fill="#00bfff" shape-rendering="crispEdges"/>
<rect x="708" y="397.79" width="16" height="6.22" fill="#00cfff" shape-rendering="crispEdges"/>
<rect x="708" y="391.67" width="16" height="6.22" fill="#00cfff" shape-rendering="crispEdges"/>
<rect x="708" y="385.54" width="16" height="6.22" fill="#00dfff" shape-rendering="crispEdges"/>
<rect x="708" y="379.42" width="16" height="6.22" fill="#00efff" shape-rendering="crispEdges"/>
<rect x="708" y="373.30" width="16" height="6.22" fill="#00ffff" shape-rendering="crispEdges"/>
<rect x="708" y="367.17" width="16" height="6.22" fill="#10ffef" shape-rendering="crispEdges"/>
<rect x="708" y="361.05" width="16" height="6.22" fill="#10ffef" shape-rendering="crispEdges"/>
<rect x="708" y="354.93" width="16" height="6.22" fill="#20ffdf" shape-rendering="crispEdges"/>
<rect x="708" y="348.80" width="16" height="6.22" fill="#30ffcf" shape-rendering="crispEdges"/>
<rect x="708" y="342.68" width="16" height="6.22" fill="#40ffbf" shape-rendering="crispEdges"/>
<rect x="708" y="336.56" width="16" height="6.22" fill="#50ffaf" shape-rendering="crispEdges"/>
<rect x="708" y="330.43" width="16" height="6.22" fill="#50ffaf" shape-rendering="crispEdges"/>
<rect x="708" y="324.31" width="16" height="6.22" fill="#60ff9f" shape-rendering="crispEdges"/>
<rect x="708" y="318.19" width="16" height="6.22" fill="#70ff8f" shape-rendering="crispEdges"/>
<rect x="708" y="312.06" width="16" height="6.22" fill="#80ff80" shape-rendering="crispEdges"/>
<rect x="708" y="305.94" width="16" height="6.22" fill="#8fff70" shape-rendering="crispEdges"/>
<rect x="708" y="299.81" width="16" height="6.22" fill="#8fff70" shape-rendering="crispEdges"/>
<rect x="708" y="293.69" width="16" height="6.22" fill="#9fff60" shape-rendering="crispEdges"/>
<rect x="708" y="287.57" width="16" height="6.22" fill="#afff50" shape-rendering="crispEdges"/>
<rect x="708" y="281.44" width="16" height="6.22" fill="#bfff40" shape-rendering="crispEdges"/>
<rect x="708" y="275.32" width="16" height="6.22" fill="#bfff40" shape-rendering="crispEdges"/>
<rect x="708" y="269.20" width="16" height="6.22" fill="#cfff30" shape-rendering="crispEdges"/>
<rect x="708" y="263.07" width="16" height="6.22" fill="#dfff20" shape-rendering="crispEdges"/>
<rect x="708" y="256.95" width="16" height="6.22" fill="#efff10" shape-rendering="crispEdges"/>
<rect x="708" y="250.83" width="16" height="6.22" fill="#ffff00" shape-rendering="crispEdges"/>
<rect x="708" y="244.70" width="16" height="6.22" fill="#ffff00" shape-rendering="crispEdges"/>
<rect x="708" y="238.58" width="16" height="6.22" fill="#ffef00" shape-rendering="crispEdges"/>
<rect x="708" y="232.46" width="16" height="6.22" fill="#ffdf00" shape-rendering="crispEdges"/>
<rect x="708" y="226.33" width="16" height="6.22" fill="#ffcf00" shape-rendering="crispEdges"/>
<rect x="708" y="220.21" width="16" height="6.22" fill="#ffbf00" shape-rendering="crispEdges"/>
<rect x="708" y="214.09" width="16" height="6.22" fill="#ffbf00" shape-rendering="crispEdges"/>
<rect x="708" y="207.96" width="16" height="6.22" fill="#ffaf00" shape-rendering="crispEdges"/>
<rect x="708" y="201.84" width="16" height="6.22" fill="#ff9f00" shape-rendering="crispEdges"/>
<rect x="708" y="195.72" width="16" height="6.22" fill="#ff8f00" shape-rendering="crispEdges"/>
<rect x="708" y="189.59" width="16" height="6.22" fill="#ff8000" shape-rendering="crispEdges"/>
<rect x="708" y="183.47" width="16" height="6.22" fill="#ff8000" shape-rendering="crispEdges"/>
<rect x="708" y="177.35" width="16" height="6.22" fill="#ff7000" shape-rendering="crispEdges"/>
<rect x="708" y="171.22" width="16" height="6.22" fill="#ff6000" shape-rendering="crispEdges"/>
<rect x="708" y="165.10" width="16" height="6.22" fill="#ff5000" shape-rendering="crispEdges"/>
<rect x="708" y="158.98" width="16" height="6.22" fill="#ff5000" shape-rendering="crispEdges"/>
<rect x="708" y="152.85" width="16" height="6.22" fill="#ff4000" shape-rendering="crispEdges"/>
<rect x="708" y="146.73" width="16" height="6.22" fill="#ff3000" shape-rendering="crispEdges"/>
<rect x="708" y="140.60" width="16" height="6.22" fill="#ff2000" shape-rendering="crispEdges"/>
<rect x="708" y="134.48" width="16" height="6.22" fill="#ff1000" shape-rendering="crispEdges"/>
<rect x="708" y="128.36" width="16" height="6.22" fill="#ff1000" shape-rendering="crispEdges"/>
<rect x="708" y="122.23" width="16" height="6.22" fill="#ff0000" shape-rendering="crispEdges"/>
<rect x="708" y="116.11" width="16" height="6.22" fill="#ef0000" shape-rendering="crispEdges"/>
<rect x="708" y="109.99" width="16" height="6.22" fill="#df0000" shape-rendering="crispEdges"/>
<rect x="708" y="103.86" width="16" height="6.22" fill="#cf0000" shape-rendering="crispEdges"/>
<rect x="708" y="97.74" width="16" height="6.22" fill="#cf0000" shape-rendering="crispEdges"/>
<rect x="708" y="91.62" width="16" height="6.22" fill="#bf0000" shape-rendering="crispEdges"/>
<rect x="708" y="85.49" width="16" height="6.22" fill="#af0000" shape-rendering="crispEdges"/>
<rect x="708" y="79.37" width="16" height="6.22" fill="#9f0000" shape-rendering="crispEdges"/>
<rect x="708" y="73.25" width="16" height="6.22" fill="#8f0000" shape-rendering="crispEdges"/>
<rect x="708" y="67.12" width="16" height="6.22" fill="#8f0000" shape-rendering="crispEdges"/>
<rect x="708" y="61.00" width="16" height="6.22" fill="#800000" shape-rendering="crispEdges"/>
<text x="734.7" y="73.7" font-size="12.5" stroke="#fff" stroke-width="0.3" textLength="29" lengthAdjust="spacingAndGlyphs">0.94</text>
<text x="734.7" y="189.1" font-size="12.5" stroke="#fff" stroke-width="0.3" textLength="29" lengthAdjust="spacingAndGlyphs">0.88</text>
<text x="734.7" y="311.5" font-size="12.5" stroke="#fff" stroke-width="0.3" textLength="29" lengthAdjust="spacingAndGlyphs">0.82</text>
<text x="734.7" y="433.5" font-size="12.5" stroke="#fff" stroke-width="0.3" textLength="29" lengthAdjust="spacingAndGlyphs">0.77</text>
<text x="734.7" y="555.2" font-size="12.5" stroke="#fff" stroke-width="0.3" textLength="29" lengthAdjust="spacingAndGlyphs">0.71</text>
<text x="61.25" y="42" font-size="24.4" stroke="#fff" stroke-width="0.35" textLength="40.0" lengthAdjust="spacingAndGlyphs">Sea</text>
<text x="114.5" y="42" font-size="24.4" stroke="#fff" stroke-width="0.35" textLength="55.5" lengthAdjust="spacingAndGlyphs">Level</text>
<text x="185" y="42" font-size="24.4" stroke="#fff" stroke-width="0.35" textLength="58.75" lengthAdjust="spacingAndGlyphs">(cm).</text>
<text x="261" y="42" font-size="24.4" stroke="#fff" stroke-width="0.35" textLength="49" lengthAdjust="spacingAndGlyphs">Date</text>
<text x="325" y="42" font-size="24.4" stroke="#fff" stroke-width="0.35" textLength="131" lengthAdjust="spacingAndGlyphs">2017.04.14.</text>
<text x="471.3" y="42" font-size="24.4" stroke="#fff" stroke-width="0.35" textLength="54.49999999999994" lengthAdjust="spacingAndGlyphs">Time</text>
<text x="539.5" y="42" font-size="24.4" stroke="#fff" stroke-width="0.35" textLength="141.5" lengthAdjust="spacingAndGlyphs">00(h):00(m)</text>
<text x="698" y="42" font-size="24.4" stroke="#fff" stroke-width="0.35" textLength="41.5" lengthAdjust="spacingAndGlyphs">GMT</text>
<text x="323.75" y="605.5" font-size="20" textLength="86.25" lengthAdjust="spacingAndGlyphs">Langitude</text>
<text x="421" y="605.5" font-size="20" textLength="55" lengthAdjust="spacingAndGlyphs">(East)</text>
<g transform="translate(81.5,383) rotate(-90)"><text x="0" y="0" font-size="20" textLength="70.5" lengthAdjust="spacingAndGlyphs">Latitude</text><text x="84" y="0" font-size="20" textLength="61.5" lengthAdjust="spacingAndGlyphs">(North)</text></g>
<text x="147" y="109.6" font-size="18.4" fill="#111" stroke="#fff" stroke-width="0.45" textLength="11" lengthAdjust="spacingAndGlyphs">Z</text>
<text x="176" y="109.6" font-size="18.4" fill="#111" stroke="#fff" stroke-width="0.45" textLength="13.599999999999994" lengthAdjust="spacingAndGlyphs">=</text>
<text x="207" y="109.6" font-size="18.4" fill="#111" stroke="#fff" stroke-width="0.45" textLength="33" lengthAdjust="spacingAndGlyphs">2.5</text>
<text x="257" y="109.6" font-size="18.4" fill="#111" stroke="#fff" stroke-width="0.45" textLength="16.600000000000023" lengthAdjust="spacingAndGlyphs">m</text>
</svg></body></html>
